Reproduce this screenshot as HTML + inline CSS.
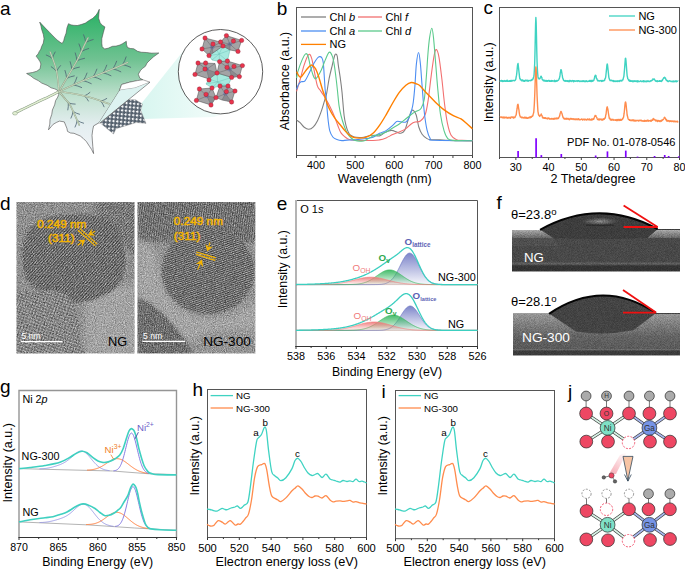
<!DOCTYPE html>
<html><head><meta charset="utf-8"><style>
html,body{margin:0;padding:0;background:#fff;width:685px;height:569px;overflow:hidden;}
svg{display:block;font-family:"Liberation Sans", sans-serif;}
</style></head><body><svg width="685" height="569" viewBox="0 0 685 569" font-family='"Liberation Sans", sans-serif'><rect x="296.5" y="7.5" width="176" height="148" fill="none" stroke="#555" stroke-width="1"/><line x1="296.5" y1="155.5" x2="296.5" y2="158" stroke="#444" stroke-width="1" /><line x1="316.06" y1="155.5" x2="316.06" y2="158" stroke="#444" stroke-width="1" /><line x1="335.61" y1="155.5" x2="335.61" y2="158" stroke="#444" stroke-width="1" /><line x1="355.17" y1="155.5" x2="355.17" y2="158" stroke="#444" stroke-width="1" /><line x1="374.72" y1="155.5" x2="374.72" y2="158" stroke="#444" stroke-width="1" /><line x1="394.28" y1="155.5" x2="394.28" y2="158" stroke="#444" stroke-width="1" /><line x1="413.83" y1="155.5" x2="413.83" y2="158" stroke="#444" stroke-width="1" /><line x1="433.39" y1="155.5" x2="433.39" y2="158" stroke="#444" stroke-width="1" /><line x1="452.94" y1="155.5" x2="452.94" y2="158" stroke="#444" stroke-width="1" /><line x1="472.5" y1="155.5" x2="472.5" y2="158" stroke="#444" stroke-width="1" /><text x="316.06" y="168.6" font-size="10.8" text-anchor="middle" fill="#000" >400</text><text x="355.17" y="168.6" font-size="10.8" text-anchor="middle" fill="#000" >500</text><text x="394.28" y="168.6" font-size="10.8" text-anchor="middle" fill="#000" >600</text><text x="433.39" y="168.6" font-size="10.8" text-anchor="middle" fill="#000" >700</text><text x="472.5" y="168.6" font-size="10.8" text-anchor="middle" fill="#000" >800</text><text x="384.8" y="183.2" font-size="12.4" text-anchor="middle" fill="#000" >Wavelength (nm)</text><text transform="translate(289.2,81.1) rotate(-90)" font-size="12.4" text-anchor="middle" fill="#000">Absorbance (a.u.)</text><path d="M296.6,120.1 C297.18,120.53 298.83,121.5 300.1,122.7 C301.37,123.9 302.75,126.2 304.2,127.3 C305.65,128.4 307.27,129.38 308.8,129.3 C310.33,129.22 311.95,128.23 313.4,126.8 C314.85,125.37 316.13,123.43 317.5,120.7 C318.87,117.97 320.4,113.82 321.6,110.4 C322.8,106.98 323.85,103.08 324.7,100.2 C325.55,97.32 325.95,96.77 326.7,93.1 C327.45,89.43 328.27,82.87 329.2,78.2 C330.13,73.53 331.42,68.8 332.3,65.1 C333.18,61.4 333.92,57.85 334.5,56 C335.08,54.15 335.35,54 335.8,54 C336.25,54 336.78,54.15 337.2,56 C337.62,57.85 337.78,61.4 338.3,65.1 C338.82,68.8 339.68,73.72 340.3,78.2 C340.92,82.68 341.37,85.78 342,92 C342.63,98.22 343.42,109.87 344.1,115.5 C344.78,121.13 345.42,123.07 346.1,125.8 C346.78,128.53 347.52,130.37 348.2,131.9 C348.88,133.43 349.18,134.15 350.2,135 C351.22,135.85 352.77,136.58 354.3,137 C355.83,137.42 357.83,137.47 359.4,137.5 C360.97,137.53 361.67,137.58 363.7,137.2 C365.73,136.82 368.97,135.42 371.6,135.2 C374.23,134.98 377.3,136.33 379.5,135.9 C381.7,135.47 382.82,133.52 384.8,132.6 C386.78,131.68 389.42,130.5 391.4,130.4 C393.38,130.3 395.17,131.52 396.7,132 C398.23,132.48 399.28,133.53 400.6,133.3 C401.92,133.07 403.28,133.02 404.6,130.6 C405.92,128.18 407.43,121.9 408.5,118.8 C409.57,115.7 410.23,113.43 411,112 C411.77,110.57 412.23,109.7 413.1,110.2 C413.97,110.7 415.25,112.2 416.2,115 C417.15,117.8 417.82,123.8 418.8,127 C419.78,130.2 420.73,132.27 422.1,134.2 C423.47,136.13 425.47,137.68 427,138.6 C428.53,139.52 429.12,139.52 431.3,139.7 C433.48,139.88 437.17,139.58 440.1,139.7 C443.03,139.82 443.52,140.22 448.9,140.4 C454.28,140.58 468.48,140.73 472.4,140.8" stroke="#808080" stroke-width="1.1" fill="none" /><path d="M296.6,91.3 C297.17,89.45 298.75,84.57 300,80.2 C301.25,75.83 302.67,69.37 304.1,65.1 C305.53,60.83 307.35,55.77 308.6,54.6 C309.85,53.43 310.68,55.5 311.6,58.1 C312.52,60.7 313.17,65.67 314.1,70.2 C315.03,74.73 316.18,81.95 317.2,85.3 C318.22,88.65 319.17,88.68 320.2,90.3 C321.23,91.92 322.15,93 323.4,95 C324.65,97 326.3,99.73 327.7,102.3 C329.1,104.87 330.6,107.85 331.8,110.4 C333,112.95 333.88,115.03 334.9,117.6 C335.92,120.17 336.88,123.25 337.9,125.8 C338.92,128.35 339.8,131.03 341,132.9 C342.2,134.77 343.73,135.88 345.1,137 C346.47,138.12 347.5,139.05 349.2,139.6 C350.9,140.15 351.33,140.15 355.3,140.3 C359.27,140.45 368.97,140.57 373,140.5 C377.03,140.43 377.32,140.33 379.5,139.9 C381.68,139.47 383.9,138.78 386.1,137.9 C388.3,137.02 390.5,135.58 392.7,134.6 C394.9,133.62 397.1,133 399.3,132 C401.5,131 403.92,129.93 405.9,128.6 C407.88,127.27 409.67,125.08 411.2,124 C412.73,122.92 413.57,122.6 415.1,122.1 C416.63,121.6 418.72,122.27 420.4,121 C422.08,119.73 423.93,117.78 425.2,114.5 C426.47,111.22 426.98,107.9 428,101.3 C429.02,94.7 430.27,82.6 431.3,74.9 C432.33,67.2 433.35,59.32 434.2,55.1 C435.05,50.88 435.6,49.23 436.4,49.6 C437.2,49.97 438.08,52.35 439,57.3 C439.92,62.25 440.98,71.6 441.9,79.3 C442.82,87 443.58,96.18 444.5,103.5 C445.42,110.82 446.3,117.9 447.4,123.2 C448.5,128.5 449.57,132.55 451.1,135.3 C452.63,138.05 454.78,138.85 456.6,139.7 C458.42,140.55 459.37,140.25 462,140.4 C464.63,140.55 470.67,140.57 472.4,140.6" stroke="#f27070" stroke-width="1.1" fill="none" /><path d="M296.6,89.3 C296.92,88.5 297.77,85.75 298.5,84.5 C299.23,83.25 299.92,82.42 301,81.8 C302.08,81.18 303.65,82.23 305,80.8 C306.35,79.37 307.58,76.15 309.1,73.2 C310.62,70.25 312.7,65.63 314.1,63.1 C315.5,60.57 316.57,59.08 317.5,58 C318.43,56.92 319,56.67 319.7,56.6 C320.4,56.53 321.12,56.68 321.7,57.6 C322.28,58.52 322.78,59.17 323.2,62.1 C323.62,65.03 323.87,70.5 324.2,75.2 C324.53,79.9 324.82,86.13 325.2,90.3 C325.58,94.47 326.17,96.85 326.5,100.2 C326.83,103.55 326.92,106.98 327.2,110.4 C327.48,113.82 327.77,117.28 328.2,120.7 C328.63,124.12 329.03,128.18 329.8,130.9 C330.57,133.62 331.62,135.55 332.8,137 C333.98,138.45 335.37,139 336.9,139.6 C338.43,140.2 340.3,140.52 342,140.6 C343.7,140.68 344.88,140.22 347.1,140.1 C349.32,139.98 352.08,140.17 355.3,139.9 C358.52,139.63 363.45,138.95 366.4,138.5 C369.35,138.05 370.82,138.07 373,137.2 C375.18,136.33 377.32,134.4 379.5,133.3 C381.68,132.2 383.9,131.92 386.1,130.6 C388.3,129.28 390.93,126.93 392.7,125.4 C394.47,123.87 395.38,122.02 396.7,121.4 C398.02,120.78 399.07,121.58 400.6,121.7 C402.13,121.82 404.47,122.82 405.9,122.1 C407.33,121.38 408.22,119.5 409.2,117.4 C410.18,115.3 411.12,112.07 411.8,109.5 C412.48,106.93 412.78,105.93 413.3,102 C413.82,98.07 414.38,92.25 414.9,85.9 C415.42,79.55 415.78,69.47 416.4,63.9 C417.02,58.33 417.93,52.5 418.6,52.5 C419.27,52.5 419.82,58.33 420.4,63.9 C420.98,69.47 421.45,77.85 422.1,85.9 C422.75,93.95 423.48,104.88 424.3,112.2 C425.12,119.52 426.02,125.42 427,129.8 C427.98,134.18 429.12,136.75 430.2,138.5 C431.28,140.25 426.47,139.93 433.5,140.3 C440.53,140.67 465.92,140.63 472.4,140.7" stroke="#4d8ef2" stroke-width="1.1" fill="none" /><path d="M296.6,78 C296.83,76.87 297.1,74.18 298,71.2 C298.9,68.22 300.73,62.98 302,60.1 C303.27,57.22 304.6,54.58 305.6,53.9 C306.6,53.22 307.25,54.13 308,56 C308.75,57.87 309.25,61.9 310.1,65.1 C310.95,68.3 312.28,72.92 313.1,75.2 C313.92,77.48 314.32,78.47 315,78.8 C315.68,79.13 316.17,78.63 317.2,77.2 C318.23,75.77 319.87,73.05 321.2,70.2 C322.53,67.35 323.87,63.08 325.2,60.1 C326.53,57.12 328.02,52.97 329.2,52.3 C330.38,51.63 331.45,53.97 332.3,56.1 C333.15,58.23 333.63,61.08 334.3,65.1 C334.97,69.12 335.75,75.72 336.3,80.2 C336.85,84.68 337.15,87.82 337.6,92 C338.05,96.18 338.43,101.38 339,105.3 C339.57,109.22 340.15,112.08 341,115.5 C341.85,118.92 343.08,122.9 344.1,125.8 C345.12,128.7 345.92,130.87 347.1,132.9 C348.28,134.93 349.83,136.72 351.2,138 C352.57,139.28 353.77,140.08 355.3,140.6 C356.83,141.12 358.78,141.12 360.4,141.1 C362.02,141.08 362.9,141.37 365,140.5 C367.1,139.63 370.58,136.88 373,135.9 C375.42,134.92 377.32,135.27 379.5,134.6 C381.68,133.93 383.9,133 386.1,131.9 C388.3,130.8 390.5,129.32 392.7,128 C394.9,126.68 397.1,125.53 399.3,124 C401.5,122.47 403.7,120.55 405.9,118.8 C408.1,117.05 410.65,114.8 412.5,113.5 C414.35,112.2 415.58,111.83 417,111 C418.42,110.17 419.78,110.48 421,108.5 C422.22,106.52 423.42,104.33 424.3,99.1 C425.18,93.87 425.68,84.78 426.3,77.1 C426.92,69.42 427.45,59.58 428,53 C428.55,46.42 428.97,41.72 429.6,37.6 C430.23,33.48 431.15,28.3 431.8,28.3 C432.45,28.3 432.85,31.67 433.5,37.6 C434.15,43.53 434.97,55.12 435.7,63.9 C436.43,72.68 437.1,81.87 437.9,90.3 C438.7,98.73 439.47,107.73 440.5,114.5 C441.53,121.27 442.88,126.88 444.1,130.9 C445.32,134.92 446.27,137.02 447.8,138.6 C449.33,140.18 449.2,140.03 453.3,140.4 C457.4,140.77 469.22,140.73 472.4,140.8" stroke="#5cca8c" stroke-width="1.1" fill="none" /><path d="M296.6,71.7 C297.25,72.62 298.92,77.45 300.5,77.2 C302.08,76.95 304.33,72.22 306.1,70.2 C307.87,68.18 309.6,65.43 311.1,65.1 C312.6,64.77 313.92,66.52 315.1,68.2 C316.28,69.88 317.18,72.35 318.2,75.2 C319.22,78.05 320.47,82.83 321.2,85.3 C321.93,87.77 322.02,88.2 322.6,90 C323.18,91.8 323.85,93.55 324.7,96.1 C325.55,98.65 326.52,102.4 327.7,105.3 C328.88,108.2 330.43,111.12 331.8,113.5 C333.17,115.88 334.53,117.77 335.9,119.6 C337.27,121.43 338.47,122.62 340,124.5 C341.53,126.38 343.57,129.15 345.1,130.9 C346.63,132.65 347.83,133.93 349.2,135 C350.57,136.07 351.57,136.78 353.3,137.3 C355.03,137.82 357.42,138.12 359.6,138.1 C361.78,138.08 364.17,138 366.4,137.2 C368.63,136.4 370.82,135.27 373,133.3 C375.18,131.33 377.32,128.48 379.5,125.4 C381.68,122.32 383.9,118.53 386.1,114.8 C388.3,111.07 390.5,106.73 392.7,103 C394.9,99.27 397.1,95.37 399.3,92.4 C401.5,89.43 403.92,86.85 405.9,85.2 C407.88,83.55 409.45,82.73 411.2,82.5 C412.95,82.27 414.93,83.25 416.4,83.8 C417.87,84.35 418.23,84.17 420,85.8 C421.77,87.43 424.38,90.83 427,93.6 C429.62,96.37 432.78,99.65 435.7,102.4 C438.62,105.15 441.57,107.9 444.5,110.1 C447.43,112.3 450.55,114.13 453.3,115.6 C456.05,117.07 458.82,117.62 461,118.9 C463.18,120.18 464.5,121.67 466.4,123.3 C468.3,124.93 471.4,127.8 472.4,128.7" stroke="#ff8000" stroke-width="1.4" fill="none" /><line x1="301" y1="17" x2="326" y2="17" stroke="#808080" stroke-width="1.3" /><text x="329.5" y="21" font-size="11" fill="#000" >Chl <tspan font-style="italic">b</tspan></text><line x1="301" y1="31" x2="326" y2="31" stroke="#4d8ef2" stroke-width="1.3" /><text x="329.5" y="35" font-size="11" fill="#000" >Chl <tspan font-style="italic">a</tspan></text><line x1="301" y1="44.4" x2="326" y2="44.4" stroke="#ff8000" stroke-width="1.3" /><text x="329.5" y="48.4" font-size="11" fill="#000" >NG</text><line x1="358" y1="17" x2="382" y2="17" stroke="#f27070" stroke-width="1.3" /><text x="385.5" y="21" font-size="11" fill="#000" >Chl <tspan font-style="italic">f</tspan></text><line x1="358" y1="31" x2="382" y2="31" stroke="#5cca8c" stroke-width="1.3" /><text x="385.5" y="35" font-size="11" fill="#000" >Chl <tspan font-style="italic">d</tspan></text><rect x="499.5" y="7.5" width="180" height="150" fill="none" stroke="#555" stroke-width="1"/><line x1="515.86" y1="157.5" x2="515.86" y2="160" stroke="#444" stroke-width="1" /><line x1="548.59" y1="157.5" x2="548.59" y2="160" stroke="#444" stroke-width="1" /><line x1="581.32" y1="157.5" x2="581.32" y2="160" stroke="#444" stroke-width="1" /><line x1="614.05" y1="157.5" x2="614.05" y2="160" stroke="#444" stroke-width="1" /><line x1="646.77" y1="157.5" x2="646.77" y2="160" stroke="#444" stroke-width="1" /><line x1="679.5" y1="157.5" x2="679.5" y2="160" stroke="#444" stroke-width="1" /><line x1="499.5" y1="157.5" x2="499.5" y2="159" stroke="#444" stroke-width="1" /><line x1="532.23" y1="157.5" x2="532.23" y2="159" stroke="#444" stroke-width="1" /><line x1="564.95" y1="157.5" x2="564.95" y2="159" stroke="#444" stroke-width="1" /><line x1="597.68" y1="157.5" x2="597.68" y2="159" stroke="#444" stroke-width="1" /><line x1="630.41" y1="157.5" x2="630.41" y2="159" stroke="#444" stroke-width="1" /><line x1="663.14" y1="157.5" x2="663.14" y2="159" stroke="#444" stroke-width="1" /><text x="515.86" y="171" font-size="10.8" text-anchor="middle" fill="#000" >30</text><text x="548.59" y="171" font-size="10.8" text-anchor="middle" fill="#000" >40</text><text x="581.32" y="171" font-size="10.8" text-anchor="middle" fill="#000" >50</text><text x="614.05" y="171" font-size="10.8" text-anchor="middle" fill="#000" >60</text><text x="646.77" y="171" font-size="10.8" text-anchor="middle" fill="#000" >70</text><text x="679.5" y="171" font-size="10.8" text-anchor="middle" fill="#000" >80</text><text x="593" y="183.4" font-size="12.6" text-anchor="middle" fill="#000" >2 Theta/degree</text><text transform="translate(493.3,82.3) rotate(-90)" font-size="12.6" text-anchor="middle" fill="#000">Intensity (a.u.)</text><path d="M499.9,80.64 L500.2,81 L500.49,80.79 L500.79,81.07 L501.09,81.1 L501.39,80.43 L501.68,80.36 L501.98,81.35 L502.28,80.66 L502.58,80.63 L502.87,81.54 L503.17,80.91 L503.47,81.35 L503.76,80.91 L504.06,81.11 L504.36,80.52 L504.66,81.1 L504.95,81.38 L505.25,80.96 L505.55,81.22 L505.85,81.13 L506.14,80.4 L506.44,81.23 L506.74,81.03 L507.03,80.67 L507.33,80.35 L507.63,81.34 L507.93,80.87 L508.22,81.16 L508.52,81.34 L508.82,81.14 L509.12,81.38 L509.41,80.74 L509.71,81.22 L510.01,80.78 L510.3,81.36 L510.6,81.28 L510.9,80.33 L511.2,80.36 L511.49,80.44 L511.79,81.31 L512.09,80.65 L512.39,80.85 L512.68,80.43 L512.98,80.64 L513.28,80.45 L513.57,80.35 L513.87,80.57 L514.17,80.48 L514.47,80.76 L514.76,80.35 L515.06,80.44 L515.36,80.02 L515.66,79.63 L515.95,78.35 L516.25,76.34 L516.55,75.15 L516.84,72.61 L517.14,69.43 L517.44,66.01 L517.74,64.16 L518.03,63.45 L518.33,66.05 L518.63,68.7 L518.93,71.48 L519.22,73.94 L519.52,76.98 L519.82,78.6 L520.11,78.45 L520.41,79.88 L520.71,79.76 L521.01,79.66 L521.3,79.98 L521.6,80.66 L521.9,80.86 L522.2,79.93 L522.49,80.67 L522.79,80.02 L523.09,80.87 L523.38,80.43 L523.68,81.11 L523.98,81.25 L524.28,80.69 L524.57,81.3 L524.87,80.48 L525.17,80.2 L525.47,80.83 L525.76,80.15 L526.06,80.35 L526.36,80.6 L526.65,80.84 L526.95,80.28 L527.25,80.14 L527.55,81.11 L527.84,80.43 L528.14,81.19 L528.44,81.09 L528.74,80.44 L529.03,80.51 L529.33,80.55 L529.63,80.66 L529.92,80.55 L530.22,80.45 L530.52,80.46 L530.82,80.77 L531.11,80.15 L531.41,79.95 L531.71,80.16 L532.01,79.41 L532.3,79.28 L532.6,79.82 L532.9,78.93 L533.19,78.5 L533.49,77.16 L533.79,76.48 L534.09,74.53 L534.38,69.84 L534.68,63.52 L534.98,52.7 L535.28,37.99 L535.57,24.8 L535.87,17.54 L536.17,22.63 L536.46,35.35 L536.76,50.13 L537.06,61.76 L537.36,68.66 L537.65,73.23 L537.95,76.39 L538.25,78.02 L538.55,77.89 L538.84,78.59 L539.14,79.03 L539.44,78.81 L539.73,78.77 L540.03,78.35 L540.33,77.79 L540.63,77.27 L540.92,76.25 L541.22,76.26 L541.52,77.36 L541.82,77.43 L542.11,78.99 L542.41,79.87 L542.71,79.81 L543,79.96 L543.3,80.81 L543.6,80.23 L543.9,80.23 L544.19,80.58 L544.49,80.94 L544.79,80.26 L545.09,80.55 L545.38,80.59 L545.68,81.21 L545.98,80.76 L546.27,81.27 L546.57,80.47 L546.87,80.68 L547.17,81.07 L547.46,81.36 L547.76,80.85 L548.06,80.59 L548.36,80.47 L548.65,80.97 L548.95,80.57 L549.25,81.31 L549.54,81.35 L549.84,80.57 L550.14,80.69 L550.44,81.33 L550.73,81.13 L551.03,81.33 L551.33,80.78 L551.63,80.52 L551.92,80.72 L552.22,81.32 L552.52,80.69 L552.81,80.78 L553.11,80.86 L553.41,80.86 L553.71,80.84 L554,81.45 L554.3,80.52 L554.6,80.33 L554.9,81.45 L555.19,81.36 L555.49,81.47 L555.79,80.79 L556.08,81.39 L556.38,81.33 L556.68,80.45 L556.98,81.04 L557.27,81.1 L557.57,80.83 L557.87,80.57 L558.17,80.17 L558.46,80.03 L558.76,79.58 L559.06,78.86 L559.35,78.65 L559.65,77.04 L559.95,75.96 L560.25,72.97 L560.54,71.85 L560.84,69.9 L561.14,69.64 L561.44,70.5 L561.73,72.39 L562.03,74.18 L562.33,75.5 L562.62,77.97 L562.92,78.42 L563.22,79.32 L563.52,80.23 L563.81,80.34 L564.11,80.39 L564.41,81.13 L564.71,80.83 L565,80.57 L565.3,80.51 L565.6,81.28 L565.89,80.86 L566.19,81.25 L566.49,80.76 L566.79,80.6 L567.08,81.02 L567.38,81.37 L567.68,80.61 L567.98,81.37 L568.27,81.54 L568.57,81.41 L568.87,81.44 L569.16,80.47 L569.46,81.22 L569.76,81.51 L570.06,80.54 L570.35,80.81 L570.65,80.81 L570.95,81.13 L571.25,81.01 L571.54,81.07 L571.84,81.44 L572.14,80.52 L572.43,80.58 L572.73,80.67 L573.03,80.67 L573.33,80.61 L573.62,81.7 L573.92,81.56 L574.22,80.64 L574.52,81.14 L574.81,80.92 L575.11,80.92 L575.41,80.96 L575.7,81.32 L576,81.25 L576.3,80.98 L576.6,80.78 L576.89,80.94 L577.19,80.7 L577.49,81.22 L577.79,81.41 L578.08,81.01 L578.38,80.65 L578.68,80.77 L578.97,81.01 L579.27,81.28 L579.57,81.5 L579.87,81.02 L580.16,81.52 L580.46,81.31 L580.76,81.08 L581.06,81.01 L581.35,81.16 L581.65,81.41 L581.95,81.07 L582.24,81.4 L582.54,81.12 L582.84,80.86 L583.14,81.21 L583.43,81.4 L583.73,80.65 L584.03,81.07 L584.33,81.07 L584.62,81.62 L584.92,81.69 L585.22,81.01 L585.51,81.64 L585.81,81.51 L586.11,80.87 L586.41,81.11 L586.7,80.7 L587,81.53 L587.3,81.34 L587.6,81.61 L587.89,81.49 L588.19,81.34 L588.49,81.41 L588.78,81.2 L589.08,80.64 L589.38,81.22 L589.68,80.51 L589.97,80.67 L590.27,81.41 L590.57,80.52 L590.87,80.56 L591.16,80.55 L591.46,81.47 L591.76,80.6 L592.05,80.37 L592.35,81.3 L592.65,80.36 L592.95,81.11 L593.24,80.71 L593.54,80.58 L593.84,80.22 L594.14,79.05 L594.43,78.38 L594.73,76.38 L595.03,76.23 L595.32,75.27 L595.62,75.54 L595.92,75.49 L596.22,77.3 L596.51,78.59 L596.81,78.46 L597.11,79.48 L597.41,80.24 L597.7,80.87 L598,80.35 L598.3,80.38 L598.59,80.53 L598.89,81.01 L599.19,81.21 L599.49,80.79 L599.78,80.77 L600.08,80.82 L600.38,80.76 L600.68,80.84 L600.97,80.43 L601.27,80.92 L601.57,81.47 L601.86,80.78 L602.16,81.15 L602.46,80.41 L602.76,81.01 L603.05,81.03 L603.35,80.87 L603.65,80.59 L603.95,80.44 L604.24,80.47 L604.54,80.52 L604.84,79.22 L605.13,78.49 L605.43,78.2 L605.73,76.78 L606.03,74.03 L606.32,71.1 L606.62,68.35 L606.92,65.08 L607.22,63.96 L607.51,64.7 L607.81,67.6 L608.11,70.33 L608.4,73.16 L608.7,76.11 L609,78.18 L609.3,78.57 L609.59,79.8 L609.89,79.89 L610.19,80.7 L610.49,80.55 L610.78,80.3 L611.08,80.33 L611.38,80.17 L611.67,80.78 L611.97,80.71 L612.27,80.5 L612.57,80.75 L612.86,80.74 L613.16,81.3 L613.46,80.57 L613.76,81.6 L614.05,81 L614.35,81.15 L614.65,81.01 L614.94,81.45 L615.24,81.44 L615.54,81.13 L615.84,81.04 L616.13,81.33 L616.43,81.49 L616.73,80.94 L617.03,81.34 L617.32,81.6 L617.62,81.01 L617.92,80.71 L618.21,80.71 L618.51,81.27 L618.81,81.21 L619.11,81.53 L619.4,81.38 L619.7,80.62 L620,80.52 L620.3,80.57 L620.59,80.43 L620.89,81 L621.19,81.12 L621.48,81.09 L621.78,80.21 L622.08,80.82 L622.38,79.98 L622.67,79.86 L622.97,79.83 L623.27,78.4 L623.57,77.34 L623.86,76.54 L624.16,73.39 L624.46,70.1 L624.75,66.34 L625.05,62.36 L625.35,58.52 L625.65,58.2 L625.94,60.33 L626.24,64.12 L626.54,67.96 L626.84,72.16 L627.13,75.55 L627.43,76.96 L627.73,78.5 L628.02,78.84 L628.32,79.53 L628.62,80.32 L628.92,79.87 L629.21,80.95 L629.51,81.1 L629.81,80.22 L630.11,81.31 L630.4,80.69 L630.7,81.22 L631,81.25 L631.29,80.74 L631.59,81.23 L631.89,81.23 L632.19,81.44 L632.48,80.81 L632.78,81.42 L633.08,81.69 L633.38,81.36 L633.67,81.21 L633.97,80.72 L634.27,81.18 L634.56,81.02 L634.86,81.47 L635.16,81.44 L635.46,81.31 L635.75,80.86 L636.05,81.42 L636.35,81.41 L636.65,80.87 L636.94,81.73 L637.24,81.45 L637.54,80.82 L637.83,81.8 L638.13,80.85 L638.43,81.08 L638.73,81.55 L639.02,81.41 L639.32,81.36 L639.62,81.48 L639.92,81.25 L640.21,81.08 L640.51,80.92 L640.81,80.79 L641.1,81.57 L641.4,81.62 L641.7,81.37 L642,81.61 L642.29,81.15 L642.59,81.04 L642.89,81.18 L643.19,81.77 L643.48,80.78 L643.78,81.33 L644.08,81.02 L644.37,81.65 L644.67,81.15 L644.97,81.13 L645.27,81.21 L645.56,81.38 L645.86,81.65 L646.16,81.15 L646.46,81.74 L646.75,80.86 L647.05,81.04 L647.35,80.84 L647.64,80.85 L647.94,81.64 L648.24,81.58 L648.54,80.92 L648.83,80.92 L649.13,81.18 L649.43,81.56 L649.73,81.63 L650.02,81.53 L650.32,81.31 L650.62,80.73 L650.91,80.97 L651.21,80.63 L651.51,80.89 L651.81,80.74 L652.1,80.04 L652.4,79.79 L652.7,80.07 L653,78.81 L653.29,79.43 L653.59,79.36 L653.89,79.44 L654.18,78.96 L654.48,79.48 L654.78,79.88 L655.08,80.29 L655.37,81 L655.67,80.9 L655.97,80.62 L656.27,81.43 L656.56,81.07 L656.86,81.27 L657.16,81.45 L657.45,80.61 L657.75,81.54 L658.05,81.42 L658.35,81.22 L658.64,81.26 L658.94,81.18 L659.24,80.86 L659.54,81.25 L659.83,80.64 L660.13,81.18 L660.43,81.32 L660.72,81.04 L661.02,81.12 L661.32,81.5 L661.62,81.29 L661.91,80.2 L662.21,80.74 L662.51,80.22 L662.81,79.14 L663.1,79.05 L663.4,78.4 L663.7,77.71 L663.99,77.83 L664.29,78.02 L664.59,77.23 L664.89,78.06 L665.18,78.22 L665.48,78.02 L665.78,79.4 L666.08,79.59 L666.37,80.41 L666.67,80.52 L666.97,80.84 L667.26,80.58 L667.56,81.3 L667.86,81.57 L668.16,81.56 L668.45,81.11 L668.75,81.54 L669.05,81.24 L669.35,80.82 L669.64,80.76 L669.94,80.82 L670.24,80.98 L670.53,80.94 L670.83,81.36 L671.13,81.61 L671.43,81.42 L671.72,81.29 L672.02,81.57 L672.32,81.17 L672.62,81.36 L672.91,81.72 L673.21,81.3 L673.51,81.04 L673.8,81.9 L674.1,81.69 L674.4,81.27 L674.7,81.28 L674.99,81.47 L675.29,81.56 L675.59,81.11 L675.89,80.85 L676.18,81.1 L676.48,81.79 L676.78,81.03 L677.07,81.41 L677.37,81.09 L677.67,81.11 L677.97,81.07 L678.26,81.35" stroke="#3fd3c2" stroke-width="1.4" fill="none" stroke-linejoin="round"/><path d="M499.9,117.15 L500.2,116.99 L500.49,117.09 L500.79,117.17 L501.09,117.56 L501.39,117.05 L501.68,117.01 L501.98,117.52 L502.28,117.48 L502.58,117.84 L502.87,117.06 L503.17,117.49 L503.47,117.49 L503.76,117.05 L504.06,118.18 L504.36,117.29 L504.66,117.14 L504.95,117.6 L505.25,117.23 L505.55,117.79 L505.85,117.46 L506.14,117.2 L506.44,117.11 L506.74,117.93 L507.03,117.38 L507.33,118 L507.63,117.62 L507.93,118.18 L508.22,117.42 L508.52,117.36 L508.82,117.38 L509.12,118.04 L509.41,117.81 L509.71,117.47 L510.01,117.17 L510.3,117.87 L510.6,118.21 L510.9,117.75 L511.2,117.03 L511.49,117.05 L511.79,117.11 L512.09,117.19 L512.39,117.01 L512.68,117.01 L512.98,117.7 L513.28,117.96 L513.57,117.08 L513.87,117.95 L514.17,117.29 L514.47,117.59 L514.76,117.59 L515.06,117.42 L515.36,116.01 L515.66,115.82 L515.95,115.37 L516.25,114.59 L516.55,111.92 L516.84,110.12 L517.14,108.49 L517.44,105.46 L517.74,104.4 L518.03,104.27 L518.33,105.97 L518.63,108.37 L518.93,109.78 L519.22,112.55 L519.52,114.23 L519.82,115.59 L520.11,116.1 L520.41,117.09 L520.71,116.77 L521.01,117.05 L521.3,116.97 L521.6,117.73 L521.9,117.45 L522.2,117.26 L522.49,117.19 L522.79,117.89 L523.09,117.78 L523.38,117.94 L523.68,117.57 L523.98,117.71 L524.28,117.33 L524.57,118.01 L524.87,117.19 L525.17,117.73 L525.47,118.09 L525.76,117.99 L526.06,117.3 L526.36,117.46 L526.65,118.18 L526.95,117.93 L527.25,118.21 L527.55,118.19 L527.84,117.66 L528.14,118.18 L528.44,117.96 L528.74,117.45 L529.03,117.46 L529.33,117.06 L529.63,117.4 L529.92,118.02 L530.22,116.93 L530.52,117.4 L530.82,116.76 L531.11,116.61 L531.41,117.15 L531.71,116.5 L532.01,116.06 L532.3,115.92 L532.6,116.16 L532.9,115.6 L533.19,114.16 L533.49,113.2 L533.79,112.06 L534.09,107.91 L534.38,103.39 L534.68,96.35 L534.98,88.18 L535.28,78.64 L535.57,70.88 L535.87,66.91 L536.17,68.98 L536.46,76.32 L536.76,85.48 L537.06,95.24 L537.36,101.64 L537.65,106.85 L537.95,111.54 L538.25,112.84 L538.55,115.01 L538.84,114.83 L539.14,115.76 L539.44,115.7 L539.73,116.44 L540.03,115.95 L540.33,115.49 L540.63,114.99 L540.92,114.59 L541.22,113.92 L541.52,114.82 L541.82,115.5 L542.11,115.92 L542.41,117.42 L542.71,117.54 L543,118.05 L543.3,117.48 L543.6,117.98 L543.9,117.96 L544.19,118.34 L544.49,117.6 L544.79,117.97 L545.09,118.18 L545.38,117.71 L545.68,118.32 L545.98,118.57 L546.27,118.22 L546.57,118.51 L546.87,118.49 L547.17,118.04 L547.46,118.22 L547.76,119.01 L548.06,118.24 L548.36,118.37 L548.65,117.96 L548.95,118.14 L549.25,118.09 L549.54,119.02 L549.84,118.79 L550.14,118.98 L550.44,119.12 L550.73,118.68 L551.03,119.08 L551.33,118.61 L551.63,118.48 L551.92,119.12 L552.22,119.07 L552.52,119.14 L552.81,118.58 L553.11,118.94 L553.41,118.5 L553.71,119.21 L554,119.12 L554.3,118.37 L554.6,119.14 L554.9,118.24 L555.19,118.13 L555.49,118.88 L555.79,118.36 L556.08,118.62 L556.38,118.75 L556.68,118.01 L556.98,118.83 L557.27,118.24 L557.57,118.38 L557.87,118.21 L558.17,118.59 L558.46,118.44 L558.76,117.63 L559.06,117.01 L559.35,116.62 L559.65,115.89 L559.95,114.36 L560.25,113.13 L560.54,112.54 L560.84,111.47 L561.14,111.49 L561.44,112.03 L561.73,113.04 L562.03,113.79 L562.33,114.83 L562.62,116.1 L562.92,117.1 L563.22,117.74 L563.52,118.14 L563.81,118.16 L564.11,118.91 L564.41,118.33 L564.71,118.62 L565,119.18 L565.3,119.13 L565.6,118.56 L565.89,118.53 L566.19,119.23 L566.49,118.3 L566.79,118.47 L567.08,118.97 L567.38,118.99 L567.68,118.57 L567.98,118.44 L568.27,118.64 L568.57,119.34 L568.87,118.99 L569.16,119.61 L569.46,119.39 L569.76,119.64 L570.06,118.52 L570.35,118.71 L570.65,118.51 L570.95,119.02 L571.25,118.92 L571.54,118.58 L571.84,119.19 L572.14,118.65 L572.43,118.92 L572.73,118.86 L573.03,119.53 L573.33,119.08 L573.62,118.9 L573.92,118.64 L574.22,119.11 L574.52,119.36 L574.81,119.43 L575.11,119.72 L575.41,119.6 L575.7,118.93 L576,118.81 L576.3,119.56 L576.6,119.61 L576.89,119.28 L577.19,119.67 L577.49,119.34 L577.79,119.02 L578.08,118.9 L578.38,118.72 L578.68,119.48 L578.97,119.79 L579.27,119.81 L579.57,119.29 L579.87,119.53 L580.16,119.86 L580.46,119.73 L580.76,119.48 L581.06,119.26 L581.35,119.39 L581.65,118.98 L581.95,119 L582.24,119.61 L582.54,119.98 L582.84,119.46 L583.14,119.3 L583.43,119.23 L583.73,119.36 L584.03,119.79 L584.33,119.37 L584.62,119.99 L584.92,119.03 L585.22,119.22 L585.51,119.48 L585.81,119.35 L586.11,119.88 L586.41,119.86 L586.7,119.99 L587,119.61 L587.3,118.91 L587.6,119.57 L587.89,119.54 L588.19,119.47 L588.49,119.22 L588.78,119.74 L589.08,119.99 L589.38,119.02 L589.68,119.69 L589.97,119.34 L590.27,119.51 L590.57,119.96 L590.87,120.03 L591.16,119.64 L591.46,119.09 L591.76,119.94 L592.05,119.03 L592.35,119.24 L592.65,119.71 L592.95,119.01 L593.24,118.8 L593.54,119.37 L593.84,119.01 L594.14,117.77 L594.43,117.25 L594.73,116.44 L595.03,115.64 L595.32,115.41 L595.62,116.3 L595.92,115.63 L596.22,116.44 L596.51,117.08 L596.81,117.55 L597.11,118.57 L597.41,119.19 L597.7,119.54 L598,119.45 L598.3,119.77 L598.59,118.86 L598.89,119.23 L599.19,120.07 L599.49,119.02 L599.78,119.27 L600.08,119.54 L600.38,119.29 L600.68,119.62 L600.97,119.02 L601.27,119.25 L601.57,120.1 L601.86,119.11 L602.16,120.01 L602.46,119.11 L602.76,120.06 L603.05,119.63 L603.35,119.55 L603.65,118.87 L603.95,118.67 L604.24,119.36 L604.54,118.43 L604.84,118.07 L605.13,118.22 L605.43,117.37 L605.73,115.05 L606.03,114.39 L606.32,111.79 L606.62,109.42 L606.92,107.29 L607.22,106.82 L607.51,108.09 L607.81,108.91 L608.11,110.9 L608.4,113.07 L608.7,114.89 L609,116.58 L609.3,118.27 L609.59,117.93 L609.89,118.5 L610.19,119.67 L610.49,119.91 L610.78,120.01 L611.08,119.22 L611.38,119.42 L611.67,120.2 L611.97,119.69 L612.27,119.99 L612.57,119.55 L612.86,119.23 L613.16,119.65 L613.46,120.15 L613.76,120.21 L614.05,119.98 L614.35,119.87 L614.65,119.97 L614.94,119.87 L615.24,119.99 L615.54,120.35 L615.84,119.6 L616.13,120.08 L616.43,120.49 L616.73,120.39 L617.03,119.59 L617.32,120.53 L617.62,120.38 L617.92,119.58 L618.21,119.69 L618.51,119.6 L618.81,119.42 L619.11,120.51 L619.4,119.82 L619.7,120.35 L620,119.42 L620.3,119.27 L620.59,120.26 L620.89,120.12 L621.19,120.3 L621.48,119.86 L621.78,119.58 L622.08,119.75 L622.38,118.77 L622.67,119.05 L622.97,118.52 L623.27,117.52 L623.57,117.03 L623.86,115.15 L624.16,113.21 L624.46,110.29 L624.75,107.06 L625.05,104.01 L625.35,102.07 L625.65,102.02 L625.94,103.43 L626.24,106.14 L626.54,109.33 L626.84,111.69 L627.13,115.01 L627.43,116.02 L627.73,117.13 L628.02,118.43 L628.32,119.24 L628.62,119.11 L628.92,119.69 L629.21,119.42 L629.51,120.36 L629.81,119.83 L630.11,119.94 L630.4,120.07 L630.7,120.54 L631,120.73 L631.29,120.22 L631.59,120.15 L631.89,120.4 L632.19,119.77 L632.48,120.23 L632.78,120.76 L633.08,120.7 L633.38,119.86 L633.67,120.83 L633.97,120.28 L634.27,121.02 L634.56,120.3 L634.86,120.13 L635.16,120.54 L635.46,120.96 L635.75,120.43 L636.05,120.97 L636.35,120.79 L636.65,120.38 L636.94,120.32 L637.24,120.58 L637.54,120.46 L637.83,120.44 L638.13,120.78 L638.43,121.06 L638.73,120.72 L639.02,120.21 L639.32,120.3 L639.62,120.49 L639.92,120.8 L640.21,120.23 L640.51,120.17 L640.81,120.47 L641.1,120.43 L641.4,120.13 L641.7,120.75 L642,121.22 L642.29,120.76 L642.59,121.01 L642.89,121.13 L643.19,121.15 L643.48,121.25 L643.78,120.69 L644.08,120.98 L644.37,120.31 L644.67,121.23 L644.97,120.64 L645.27,120.76 L645.56,121.26 L645.86,120.54 L646.16,120.43 L646.46,121.2 L646.75,120.93 L647.05,120.32 L647.35,120.26 L647.64,120.65 L647.94,120.24 L648.24,121.23 L648.54,120.45 L648.83,120.56 L649.13,120.7 L649.43,120.84 L649.73,120.74 L650.02,120.96 L650.32,120.98 L650.62,120.69 L650.91,120.23 L651.21,121.22 L651.51,120.77 L651.81,119.89 L652.1,120.12 L652.4,120.25 L652.7,120.25 L653,118.86 L653.29,118.55 L653.59,118.98 L653.89,118.93 L654.18,119.66 L654.48,119.84 L654.78,119.54 L655.08,119.93 L655.37,120.38 L655.67,120.94 L655.97,120.28 L656.27,120.62 L656.56,120.33 L656.86,121.04 L657.16,120.34 L657.45,121.46 L657.75,120.98 L658.05,121.05 L658.35,120.48 L658.64,120.66 L658.94,120.94 L659.24,121.41 L659.54,121.03 L659.83,120.71 L660.13,121.54 L660.43,121.13 L660.72,120.94 L661.02,120.5 L661.32,120.54 L661.62,121.15 L661.91,120.08 L662.21,120.35 L662.51,120.18 L662.81,119.52 L663.1,119.62 L663.4,119.36 L663.7,118.86 L663.99,118.35 L664.29,117.47 L664.59,117.24 L664.89,117.85 L665.18,118.04 L665.48,118.32 L665.78,119.59 L666.08,119.24 L666.37,120.35 L666.67,120.81 L666.97,120.09 L667.26,121.24 L667.56,120.77 L667.86,120.65 L668.16,120.7 L668.45,120.58 L668.75,121.17 L669.05,121.07 L669.35,121.66 L669.64,121.66 L669.94,120.75 L670.24,121.18 L670.53,121.18 L670.83,120.94 L671.13,121.04 L671.43,121.07 L671.72,121.6 L672.02,121.19 L672.32,120.93 L672.62,121.07 L672.91,121.35 L673.21,121.5 L673.51,121.13 L673.8,121.68 L674.1,121.11 L674.4,121.67 L674.7,121.6 L674.99,121.09 L675.29,121.79 L675.59,121.37 L675.89,121.55 L676.18,121.63 L676.48,121.68 L676.78,121.46 L677.07,121.01 L677.37,121.89 L677.67,121.99 L677.97,121.55 L678.26,121.66" stroke="#ff8c4d" stroke-width="1.4" fill="none" stroke-linejoin="round"/><line x1="518.1" y1="157.5" x2="518.1" y2="151" stroke="#8000ff" stroke-width="1.7" /><line x1="536.1" y1="157.5" x2="536.1" y2="138.2" stroke="#8000ff" stroke-width="1.7" /><line x1="541.34" y1="157.5" x2="541.34" y2="155.1" stroke="#8000ff" stroke-width="1.7" /><line x1="561.3" y1="157.5" x2="561.3" y2="154" stroke="#8000ff" stroke-width="1.7" /><line x1="595.66" y1="157.5" x2="595.66" y2="155.5" stroke="#8000ff" stroke-width="1.7" /><line x1="607.45" y1="157.5" x2="607.45" y2="151.4" stroke="#8000ff" stroke-width="1.7" /><line x1="625.77" y1="157.5" x2="625.77" y2="150.6" stroke="#8000ff" stroke-width="1.7" /><line x1="637.55" y1="157.5" x2="637.55" y2="156.6" stroke="#8000ff" stroke-width="1.7" /><line x1="654.57" y1="157.5" x2="654.57" y2="156" stroke="#8000ff" stroke-width="1.7" /><line x1="664.72" y1="157.5" x2="664.72" y2="155" stroke="#8000ff" stroke-width="1.7" /><line x1="668.65" y1="157.5" x2="668.65" y2="156" stroke="#8000ff" stroke-width="1.7" /><line x1="678.79" y1="157.5" x2="678.79" y2="156.3" stroke="#8000ff" stroke-width="1.7" /><text x="567" y="146" font-size="11.1" fill="#000" >PDF No. 01-078-0546</text><line x1="609" y1="16" x2="635" y2="16" stroke="#3fd3c2" stroke-width="1.3" /><line x1="609" y1="30" x2="635" y2="30" stroke="#ff8c4d" stroke-width="1.3" /><text x="638.4" y="20" font-size="11" fill="#000" >NG</text><text x="638.4" y="34" font-size="11" fill="#000" >NG-300</text><path d="M296,346.5 V200.5 H477.5 V346.5" fill="none" stroke="#555" stroke-width="1"/><line x1="296" y1="200" x2="296" y2="346.5" stroke="#b4b4b4" stroke-width="2" /><line x1="295.2" y1="346.5" x2="478" y2="346.5" stroke="#333" stroke-width="1" /><line x1="296" y1="346.5" x2="296" y2="349" stroke="#333" stroke-width="1" /><line x1="326.25" y1="346.5" x2="326.25" y2="349" stroke="#333" stroke-width="1" /><line x1="356.5" y1="346.5" x2="356.5" y2="349" stroke="#333" stroke-width="1" /><line x1="386.75" y1="346.5" x2="386.75" y2="349" stroke="#333" stroke-width="1" /><line x1="417" y1="346.5" x2="417" y2="349" stroke="#333" stroke-width="1" /><line x1="447.25" y1="346.5" x2="447.25" y2="349" stroke="#333" stroke-width="1" /><line x1="477.5" y1="346.5" x2="477.5" y2="349" stroke="#333" stroke-width="1" /><line x1="311.12" y1="346.5" x2="311.12" y2="348" stroke="#333" stroke-width="1" /><line x1="341.38" y1="346.5" x2="341.38" y2="348" stroke="#333" stroke-width="1" /><line x1="371.62" y1="346.5" x2="371.62" y2="348" stroke="#333" stroke-width="1" /><line x1="401.88" y1="346.5" x2="401.88" y2="348" stroke="#333" stroke-width="1" /><line x1="432.12" y1="346.5" x2="432.12" y2="348" stroke="#333" stroke-width="1" /><line x1="462.38" y1="346.5" x2="462.38" y2="348" stroke="#333" stroke-width="1" /><text x="296" y="360" font-size="10.8" text-anchor="middle" fill="#000" >538</text><text x="326.25" y="360" font-size="10.8" text-anchor="middle" fill="#000" >536</text><text x="356.5" y="360" font-size="10.8" text-anchor="middle" fill="#000" >534</text><text x="386.75" y="360" font-size="10.8" text-anchor="middle" fill="#000" >532</text><text x="417" y="360" font-size="10.8" text-anchor="middle" fill="#000" >530</text><text x="447.25" y="360" font-size="10.8" text-anchor="middle" fill="#000" >528</text><text x="477.5" y="360" font-size="10.8" text-anchor="middle" fill="#000" >526</text><text x="387" y="376" font-size="12.3" text-anchor="middle" fill="#000" >Binding Energy (eV)</text><text transform="translate(286.8,269.2) rotate(-90)" font-size="12.3" text-anchor="middle" fill="#000">Intensity (a.u.)</text><text x="300.2" y="213.3" font-size="11" fill="#000" >O 1<tspan font-style="italic">s</tspan></text><defs><linearGradient id="g_lat" x1="0" y1="0" x2="0" y2="1"><stop offset="0" stop-color="#6f78c4" stop-opacity="0.9"/><stop offset="1" stop-color="#6f78c4" stop-opacity="0.05"/></linearGradient><linearGradient id="g_ov" x1="0" y1="0" x2="0" y2="1"><stop offset="0" stop-color="#2fb55a" stop-opacity="0.9"/><stop offset="1" stop-color="#2fb55a" stop-opacity="0.05"/></linearGradient><linearGradient id="g_oh" x1="0" y1="0" x2="0" y2="1"><stop offset="0" stop-color="#f07676" stop-opacity="0.9"/><stop offset="1" stop-color="#f07676" stop-opacity="0.05"/></linearGradient></defs><line x1="296" y1="284.6" x2="477.5" y2="284.6" stroke="#c8a8a0" stroke-width="0.6" /><path d="M296,284.6 L296.5,284.6 L297,284.6 L297.5,284.6 L298,284.6 L298.5,284.6 L299,284.6 L299.5,284.6 L300,284.6 L300.5,284.6 L301,284.6 L301.5,284.6 L302,284.6 L302.5,284.6 L303,284.6 L303.5,284.6 L304,284.6 L304.5,284.6 L305,284.6 L305.5,284.6 L306,284.6 L306.5,284.6 L307,284.6 L307.5,284.6 L308,284.6 L308.5,284.6 L309,284.6 L309.5,284.6 L310,284.6 L310.5,284.6 L311,284.6 L311.5,284.6 L312,284.6 L312.5,284.6 L313,284.6 L313.5,284.6 L314,284.6 L314.5,284.6 L315,284.6 L315.5,284.6 L316,284.6 L316.5,284.6 L317,284.6 L317.5,284.6 L318,284.6 L318.5,284.6 L319,284.6 L319.5,284.6 L320,284.6 L320.5,284.6 L321,284.6 L321.5,284.6 L322,284.6 L322.5,284.6 L323,284.6 L323.5,284.6 L324,284.6 L324.5,284.6 L325,284.6 L325.5,284.6 L326,284.6 L326.5,284.6 L327,284.6 L327.5,284.6 L328,284.6 L328.5,284.6 L329,284.6 L329.5,284.6 L330,284.6 L330.5,284.6 L331,284.6 L331.5,284.6 L332,284.6 L332.5,284.6 L333,284.6 L333.5,284.6 L334,284.6 L334.5,284.6 L335,284.6 L335.5,284.6 L336,284.6 L336.5,284.6 L337,284.6 L337.5,284.6 L338,284.6 L338.5,284.6 L339,284.6 L339.5,284.6 L340,284.6 L340.5,284.6 L341,284.6 L341.5,284.6 L342,284.6 L342.5,284.6 L343,284.6 L343.5,284.6 L344,284.6 L344.5,284.6 L345,284.6 L345.5,284.6 L346,284.6 L346.5,284.6 L347,284.6 L347.5,284.6 L348,284.6 L348.5,284.6 L349,284.6 L349.5,284.6 L350,284.6 L350.5,284.6 L351,284.6 L351.5,284.6 L352,284.6 L352.5,284.6 L353,284.6 L353.5,284.6 L354,284.6 L354.5,284.6 L355,284.6 L355.5,284.6 L356,284.6 L356.5,284.6 L357,284.6 L357.5,284.6 L358,284.6 L358.5,284.6 L359,284.6 L359.5,284.6 L360,284.6 L360.5,284.6 L361,284.6 L361.5,284.6 L362,284.6 L362.5,284.6 L363,284.6 L363.5,284.6 L364,284.6 L364.5,284.6 L365,284.6 L365.5,284.6 L366,284.6 L366.5,284.6 L367,284.6 L367.5,284.6 L368,284.6 L368.5,284.6 L369,284.6 L369.5,284.6 L370,284.6 L370.5,284.6 L371,284.59 L371.5,284.59 L372,284.59 L372.5,284.59 L373,284.59 L373.5,284.58 L374,284.58 L374.5,284.57 L375,284.57 L375.5,284.56 L376,284.55 L376.5,284.54 L377,284.53 L377.5,284.52 L378,284.5 L378.5,284.48 L379,284.46 L379.5,284.43 L380,284.4 L380.5,284.36 L381,284.32 L381.5,284.27 L382,284.21 L382.5,284.15 L383,284.07 L383.5,283.99 L384,283.89 L384.5,283.77 L385,283.65 L385.5,283.5 L386,283.34 L386.5,283.16 L387,282.96 L387.5,282.73 L388,282.48 L388.5,282.2 L389,281.89 L389.5,281.55 L390,281.18 L390.5,280.78 L391,280.34 L391.5,279.86 L392,279.34 L392.5,278.79 L393,278.2 L393.5,277.56 L394,276.89 L394.5,276.17 L395,275.41 L395.5,274.62 L396,273.79 L396.5,272.92 L397,272.02 L397.5,271.09 L398,270.13 L398.5,269.15 L399,268.15 L399.5,267.13 L400,266.11 L400.5,265.08 L401,264.06 L401.5,263.04 L402,262.04 L402.5,261.06 L403,260.11 L403.5,259.2 L404,258.32 L404.5,257.5 L405,256.73 L405.5,256.02 L406,255.37 L406.5,254.8 L407,254.31 L407.5,253.89 L408,253.56 L408.5,253.32 L409,253.17 L409.5,253.1 L410,253.13 L410.5,253.25 L411,253.45 L411.5,253.75 L412,254.13 L412.5,254.59 L413,255.14 L413.5,255.75 L414,256.44 L414.5,257.18 L415,257.99 L415.5,258.84 L416,259.74 L416.5,260.68 L417,261.65 L417.5,262.64 L418,263.65 L418.5,264.67 L419,265.7 L419.5,266.73 L420,267.74 L420.5,268.75 L421,269.74 L421.5,270.71 L422,271.65 L422.5,272.56 L423,273.44 L423.5,274.29 L424,275.1 L424.5,275.87 L425,276.6 L425.5,277.3 L426,277.95 L426.5,278.56 L427,279.13 L427.5,279.66 L428,280.15 L428.5,280.61 L429,281.02 L429.5,281.41 L430,281.76 L430.5,282.08 L431,282.37 L431.5,282.63 L432,282.87 L432.5,283.08 L433,283.27 L433.5,283.44 L434,283.59 L434.5,283.73 L435,283.84 L435.5,283.95 L436,284.04 L436.5,284.12 L437,284.19 L437.5,284.25 L438,284.3 L438.5,284.35 L439,284.39 L439.5,284.42 L440,284.45 L440.5,284.47 L441,284.49 L441.5,284.51 L442,284.53 L442.5,284.54 L443,284.55 L443.5,284.56 L444,284.57 L444.5,284.57 L445,284.58 L445.5,284.58 L446,284.59 L446.5,284.59 L447,284.59 L447.5,284.59 L448,284.59 L448.5,284.59 L449,284.6 L449.5,284.6 L450,284.6 L450.5,284.6 L451,284.6 L451.5,284.6 L452,284.6 L452.5,284.6 L453,284.6 L453.5,284.6 L454,284.6 L454.5,284.6 L455,284.6 L455.5,284.6 L456,284.6 L456.5,284.6 L457,284.6 L457.5,284.6 L458,284.6 L458.5,284.6 L459,284.6 L459.5,284.6 L460,284.6 L460.5,284.6 L461,284.6 L461.5,284.6 L462,284.6 L462.5,284.6 L463,284.6 L463.5,284.6 L464,284.6 L464.5,284.6 L465,284.6 L465.5,284.6 L466,284.6 L466.5,284.6 L467,284.6 L467.5,284.6 L468,284.6 L468.5,284.6 L469,284.6 L469.5,284.6 L470,284.6 L470.5,284.6 L471,284.6 L471.5,284.6 L472,284.6 L472.5,284.6 L473,284.6 L473.5,284.6 L474,284.6 L474.5,284.6 L475,284.6 L475.5,284.6 L476,284.6 L476.5,284.6 L477,284.6 L477.5,284.6 L477.5,284.6 L296,284.6 Z" stroke="none" stroke-width="1" fill="url(#g_lat)" /><path d="M296,284.6 L296.5,284.6 L297,284.6 L297.5,284.6 L298,284.6 L298.5,284.6 L299,284.6 L299.5,284.6 L300,284.6 L300.5,284.6 L301,284.6 L301.5,284.6 L302,284.6 L302.5,284.6 L303,284.6 L303.5,284.6 L304,284.6 L304.5,284.6 L305,284.6 L305.5,284.6 L306,284.6 L306.5,284.6 L307,284.6 L307.5,284.6 L308,284.6 L308.5,284.6 L309,284.6 L309.5,284.6 L310,284.6 L310.5,284.6 L311,284.6 L311.5,284.6 L312,284.6 L312.5,284.6 L313,284.6 L313.5,284.6 L314,284.6 L314.5,284.6 L315,284.6 L315.5,284.6 L316,284.6 L316.5,284.6 L317,284.6 L317.5,284.6 L318,284.6 L318.5,284.6 L319,284.6 L319.5,284.6 L320,284.6 L320.5,284.6 L321,284.6 L321.5,284.6 L322,284.6 L322.5,284.6 L323,284.6 L323.5,284.6 L324,284.6 L324.5,284.6 L325,284.6 L325.5,284.6 L326,284.6 L326.5,284.6 L327,284.6 L327.5,284.6 L328,284.6 L328.5,284.6 L329,284.6 L329.5,284.6 L330,284.6 L330.5,284.6 L331,284.6 L331.5,284.6 L332,284.6 L332.5,284.6 L333,284.6 L333.5,284.6 L334,284.6 L334.5,284.6 L335,284.6 L335.5,284.6 L336,284.6 L336.5,284.6 L337,284.6 L337.5,284.6 L338,284.6 L338.5,284.6 L339,284.6 L339.5,284.6 L340,284.6 L340.5,284.6 L341,284.6 L341.5,284.6 L342,284.6 L342.5,284.6 L343,284.6 L343.5,284.6 L344,284.6 L344.5,284.6 L345,284.6 L345.5,284.6 L346,284.6 L346.5,284.6 L347,284.6 L347.5,284.6 L348,284.6 L348.5,284.6 L349,284.6 L349.5,284.6 L350,284.6 L350.5,284.6 L351,284.6 L351.5,284.6 L352,284.6 L352.5,284.6 L353,284.6 L353.5,284.6 L354,284.6 L354.5,284.6 L355,284.6 L355.5,284.6 L356,284.6 L356.5,284.6 L357,284.6 L357.5,284.6 L358,284.6 L358.5,284.6 L359,284.6 L359.5,284.6 L360,284.6 L360.5,284.6 L361,284.6 L361.5,284.6 L362,284.6 L362.5,284.6 L363,284.6 L363.5,284.6 L364,284.6 L364.5,284.6 L365,284.6 L365.5,284.6 L366,284.6 L366.5,284.6 L367,284.6 L367.5,284.6 L368,284.6 L368.5,284.6 L369,284.6 L369.5,284.6 L370,284.6 L370.5,284.6 L371,284.59 L371.5,284.59 L372,284.59 L372.5,284.59 L373,284.59 L373.5,284.58 L374,284.58 L374.5,284.57 L375,284.57 L375.5,284.56 L376,284.55 L376.5,284.54 L377,284.53 L377.5,284.52 L378,284.5 L378.5,284.48 L379,284.46 L379.5,284.43 L380,284.4 L380.5,284.36 L381,284.32 L381.5,284.27 L382,284.21 L382.5,284.15 L383,284.07 L383.5,283.99 L384,283.89 L384.5,283.77 L385,283.65 L385.5,283.5 L386,283.34 L386.5,283.16 L387,282.96 L387.5,282.73 L388,282.48 L388.5,282.2 L389,281.89 L389.5,281.55 L390,281.18 L390.5,280.78 L391,280.34 L391.5,279.86 L392,279.34 L392.5,278.79 L393,278.2 L393.5,277.56 L394,276.89 L394.5,276.17 L395,275.41 L395.5,274.62 L396,273.79 L396.5,272.92 L397,272.02 L397.5,271.09 L398,270.13 L398.5,269.15 L399,268.15 L399.5,267.13 L400,266.11 L400.5,265.08 L401,264.06 L401.5,263.04 L402,262.04 L402.5,261.06 L403,260.11 L403.5,259.2 L404,258.32 L404.5,257.5 L405,256.73 L405.5,256.02 L406,255.37 L406.5,254.8 L407,254.31 L407.5,253.89 L408,253.56 L408.5,253.32 L409,253.17 L409.5,253.1 L410,253.13 L410.5,253.25 L411,253.45 L411.5,253.75 L412,254.13 L412.5,254.59 L413,255.14 L413.5,255.75 L414,256.44 L414.5,257.18 L415,257.99 L415.5,258.84 L416,259.74 L416.5,260.68 L417,261.65 L417.5,262.64 L418,263.65 L418.5,264.67 L419,265.7 L419.5,266.73 L420,267.74 L420.5,268.75 L421,269.74 L421.5,270.71 L422,271.65 L422.5,272.56 L423,273.44 L423.5,274.29 L424,275.1 L424.5,275.87 L425,276.6 L425.5,277.3 L426,277.95 L426.5,278.56 L427,279.13 L427.5,279.66 L428,280.15 L428.5,280.61 L429,281.02 L429.5,281.41 L430,281.76 L430.5,282.08 L431,282.37 L431.5,282.63 L432,282.87 L432.5,283.08 L433,283.27 L433.5,283.44 L434,283.59 L434.5,283.73 L435,283.84 L435.5,283.95 L436,284.04 L436.5,284.12 L437,284.19 L437.5,284.25 L438,284.3 L438.5,284.35 L439,284.39 L439.5,284.42 L440,284.45 L440.5,284.47 L441,284.49 L441.5,284.51 L442,284.53 L442.5,284.54 L443,284.55 L443.5,284.56 L444,284.57 L444.5,284.57 L445,284.58 L445.5,284.58 L446,284.59 L446.5,284.59 L447,284.59 L447.5,284.59 L448,284.59 L448.5,284.59 L449,284.6 L449.5,284.6 L450,284.6 L450.5,284.6 L451,284.6 L451.5,284.6 L452,284.6 L452.5,284.6 L453,284.6 L453.5,284.6 L454,284.6 L454.5,284.6 L455,284.6 L455.5,284.6 L456,284.6 L456.5,284.6 L457,284.6 L457.5,284.6 L458,284.6 L458.5,284.6 L459,284.6 L459.5,284.6 L460,284.6 L460.5,284.6 L461,284.6 L461.5,284.6 L462,284.6 L462.5,284.6 L463,284.6 L463.5,284.6 L464,284.6 L464.5,284.6 L465,284.6 L465.5,284.6 L466,284.6 L466.5,284.6 L467,284.6 L467.5,284.6 L468,284.6 L468.5,284.6 L469,284.6 L469.5,284.6 L470,284.6 L470.5,284.6 L471,284.6 L471.5,284.6 L472,284.6 L472.5,284.6 L473,284.6 L473.5,284.6 L474,284.6 L474.5,284.6 L475,284.6 L475.5,284.6 L476,284.6 L476.5,284.6 L477,284.6 L477.5,284.6" stroke="#7078c4" stroke-width="0.7" fill="none" /><path d="M296,284.6 L296.5,284.6 L297,284.6 L297.5,284.6 L298,284.6 L298.5,284.6 L299,284.6 L299.5,284.6 L300,284.6 L300.5,284.6 L301,284.6 L301.5,284.6 L302,284.6 L302.5,284.6 L303,284.6 L303.5,284.6 L304,284.6 L304.5,284.6 L305,284.6 L305.5,284.6 L306,284.6 L306.5,284.6 L307,284.6 L307.5,284.6 L308,284.6 L308.5,284.6 L309,284.6 L309.5,284.6 L310,284.6 L310.5,284.6 L311,284.6 L311.5,284.6 L312,284.6 L312.5,284.6 L313,284.6 L313.5,284.6 L314,284.6 L314.5,284.6 L315,284.6 L315.5,284.6 L316,284.6 L316.5,284.6 L317,284.6 L317.5,284.6 L318,284.6 L318.5,284.6 L319,284.6 L319.5,284.6 L320,284.6 L320.5,284.6 L321,284.6 L321.5,284.6 L322,284.6 L322.5,284.6 L323,284.6 L323.5,284.6 L324,284.6 L324.5,284.6 L325,284.6 L325.5,284.6 L326,284.6 L326.5,284.6 L327,284.6 L327.5,284.6 L328,284.6 L328.5,284.6 L329,284.6 L329.5,284.6 L330,284.6 L330.5,284.6 L331,284.6 L331.5,284.6 L332,284.6 L332.5,284.6 L333,284.6 L333.5,284.6 L334,284.6 L334.5,284.6 L335,284.6 L335.5,284.6 L336,284.6 L336.5,284.6 L337,284.6 L337.5,284.6 L338,284.6 L338.5,284.6 L339,284.6 L339.5,284.6 L340,284.59 L340.5,284.59 L341,284.59 L341.5,284.59 L342,284.59 L342.5,284.59 L343,284.59 L343.5,284.58 L344,284.58 L344.5,284.58 L345,284.57 L345.5,284.57 L346,284.57 L346.5,284.56 L347,284.56 L347.5,284.55 L348,284.54 L348.5,284.53 L349,284.52 L349.5,284.51 L350,284.5 L350.5,284.49 L351,284.48 L351.5,284.46 L352,284.44 L352.5,284.42 L353,284.4 L353.5,284.37 L354,284.35 L354.5,284.31 L355,284.28 L355.5,284.24 L356,284.2 L356.5,284.16 L357,284.11 L357.5,284.06 L358,284 L358.5,283.93 L359,283.87 L359.5,283.79 L360,283.71 L360.5,283.62 L361,283.53 L361.5,283.43 L362,283.32 L362.5,283.2 L363,283.07 L363.5,282.94 L364,282.79 L364.5,282.64 L365,282.48 L365.5,282.31 L366,282.13 L366.5,281.93 L367,281.73 L367.5,281.52 L368,281.3 L368.5,281.06 L369,280.82 L369.5,280.56 L370,280.3 L370.5,280.03 L371,279.74 L371.5,279.45 L372,279.14 L372.5,278.83 L373,278.51 L373.5,278.19 L374,277.85 L374.5,277.51 L375,277.17 L375.5,276.82 L376,276.47 L376.5,276.11 L377,275.76 L377.5,275.4 L378,275.04 L378.5,274.69 L379,274.34 L379.5,273.99 L380,273.65 L380.5,273.32 L381,273 L381.5,272.68 L382,272.38 L382.5,272.09 L383,271.81 L383.5,271.55 L384,271.3 L384.5,271.07 L385,270.86 L385.5,270.67 L386,270.5 L386.5,270.35 L387,270.21 L387.5,270.11 L388,270.02 L388.5,269.96 L389,269.92 L389.5,269.9 L390,269.91 L390.5,269.94 L391,269.99 L391.5,270.07 L392,270.17 L392.5,270.29 L393,270.43 L393.5,270.6 L394,270.78 L394.5,270.99 L395,271.21 L395.5,271.45 L396,271.71 L396.5,271.98 L397,272.26 L397.5,272.56 L398,272.87 L398.5,273.19 L399,273.52 L399.5,273.86 L400,274.2 L400.5,274.55 L401,274.9 L401.5,275.26 L402,275.61 L402.5,275.97 L403,276.32 L403.5,276.68 L404,277.03 L404.5,277.38 L405,277.72 L405.5,278.05 L406,278.38 L406.5,278.71 L407,279.02 L407.5,279.33 L408,279.62 L408.5,279.91 L409,280.19 L409.5,280.46 L410,280.72 L410.5,280.97 L411,281.2 L411.5,281.43 L412,281.65 L412.5,281.86 L413,282.05 L413.5,282.24 L414,282.41 L414.5,282.58 L415,282.73 L415.5,282.88 L416,283.02 L416.5,283.15 L417,283.27 L417.5,283.38 L418,283.49 L418.5,283.58 L419,283.68 L419.5,283.76 L420,283.84 L420.5,283.91 L421,283.97 L421.5,284.03 L422,284.09 L422.5,284.14 L423,284.19 L423.5,284.23 L424,284.27 L424.5,284.3 L425,284.33 L425.5,284.36 L426,284.39 L426.5,284.41 L427,284.43 L427.5,284.45 L428,284.47 L428.5,284.48 L429,284.5 L429.5,284.51 L430,284.52 L430.5,284.53 L431,284.54 L431.5,284.55 L432,284.55 L432.5,284.56 L433,284.56 L433.5,284.57 L434,284.57 L434.5,284.58 L435,284.58 L435.5,284.58 L436,284.59 L436.5,284.59 L437,284.59 L437.5,284.59 L438,284.59 L438.5,284.59 L439,284.59 L439.5,284.59 L440,284.6 L440.5,284.6 L441,284.6 L441.5,284.6 L442,284.6 L442.5,284.6 L443,284.6 L443.5,284.6 L444,284.6 L444.5,284.6 L445,284.6 L445.5,284.6 L446,284.6 L446.5,284.6 L447,284.6 L447.5,284.6 L448,284.6 L448.5,284.6 L449,284.6 L449.5,284.6 L450,284.6 L450.5,284.6 L451,284.6 L451.5,284.6 L452,284.6 L452.5,284.6 L453,284.6 L453.5,284.6 L454,284.6 L454.5,284.6 L455,284.6 L455.5,284.6 L456,284.6 L456.5,284.6 L457,284.6 L457.5,284.6 L458,284.6 L458.5,284.6 L459,284.6 L459.5,284.6 L460,284.6 L460.5,284.6 L461,284.6 L461.5,284.6 L462,284.6 L462.5,284.6 L463,284.6 L463.5,284.6 L464,284.6 L464.5,284.6 L465,284.6 L465.5,284.6 L466,284.6 L466.5,284.6 L467,284.6 L467.5,284.6 L468,284.6 L468.5,284.6 L469,284.6 L469.5,284.6 L470,284.6 L470.5,284.6 L471,284.6 L471.5,284.6 L472,284.6 L472.5,284.6 L473,284.6 L473.5,284.6 L474,284.6 L474.5,284.6 L475,284.6 L475.5,284.6 L476,284.6 L476.5,284.6 L477,284.6 L477.5,284.6 L477.5,284.6 L296,284.6 Z" stroke="none" stroke-width="1" fill="url(#g_ov)" /><path d="M296,284.6 L296.5,284.6 L297,284.6 L297.5,284.6 L298,284.6 L298.5,284.6 L299,284.6 L299.5,284.6 L300,284.6 L300.5,284.6 L301,284.6 L301.5,284.6 L302,284.6 L302.5,284.6 L303,284.6 L303.5,284.6 L304,284.6 L304.5,284.6 L305,284.6 L305.5,284.6 L306,284.6 L306.5,284.6 L307,284.6 L307.5,284.6 L308,284.6 L308.5,284.6 L309,284.6 L309.5,284.6 L310,284.6 L310.5,284.6 L311,284.6 L311.5,284.6 L312,284.6 L312.5,284.6 L313,284.6 L313.5,284.6 L314,284.6 L314.5,284.6 L315,284.6 L315.5,284.6 L316,284.6 L316.5,284.6 L317,284.6 L317.5,284.6 L318,284.6 L318.5,284.6 L319,284.6 L319.5,284.6 L320,284.6 L320.5,284.6 L321,284.6 L321.5,284.6 L322,284.6 L322.5,284.6 L323,284.6 L323.5,284.6 L324,284.6 L324.5,284.6 L325,284.6 L325.5,284.6 L326,284.6 L326.5,284.6 L327,284.6 L327.5,284.6 L328,284.6 L328.5,284.6 L329,284.6 L329.5,284.6 L330,284.6 L330.5,284.6 L331,284.6 L331.5,284.6 L332,284.6 L332.5,284.6 L333,284.6 L333.5,284.6 L334,284.6 L334.5,284.6 L335,284.6 L335.5,284.6 L336,284.6 L336.5,284.6 L337,284.6 L337.5,284.6 L338,284.6 L338.5,284.6 L339,284.6 L339.5,284.6 L340,284.59 L340.5,284.59 L341,284.59 L341.5,284.59 L342,284.59 L342.5,284.59 L343,284.59 L343.5,284.58 L344,284.58 L344.5,284.58 L345,284.57 L345.5,284.57 L346,284.57 L346.5,284.56 L347,284.56 L347.5,284.55 L348,284.54 L348.5,284.53 L349,284.52 L349.5,284.51 L350,284.5 L350.5,284.49 L351,284.48 L351.5,284.46 L352,284.44 L352.5,284.42 L353,284.4 L353.5,284.37 L354,284.35 L354.5,284.31 L355,284.28 L355.5,284.24 L356,284.2 L356.5,284.16 L357,284.11 L357.5,284.06 L358,284 L358.5,283.93 L359,283.87 L359.5,283.79 L360,283.71 L360.5,283.62 L361,283.53 L361.5,283.43 L362,283.32 L362.5,283.2 L363,283.07 L363.5,282.94 L364,282.79 L364.5,282.64 L365,282.48 L365.5,282.31 L366,282.13 L366.5,281.93 L367,281.73 L367.5,281.52 L368,281.3 L368.5,281.06 L369,280.82 L369.5,280.56 L370,280.3 L370.5,280.03 L371,279.74 L371.5,279.45 L372,279.14 L372.5,278.83 L373,278.51 L373.5,278.19 L374,277.85 L374.5,277.51 L375,277.17 L375.5,276.82 L376,276.47 L376.5,276.11 L377,275.76 L377.5,275.4 L378,275.04 L378.5,274.69 L379,274.34 L379.5,273.99 L380,273.65 L380.5,273.32 L381,273 L381.5,272.68 L382,272.38 L382.5,272.09 L383,271.81 L383.5,271.55 L384,271.3 L384.5,271.07 L385,270.86 L385.5,270.67 L386,270.5 L386.5,270.35 L387,270.21 L387.5,270.11 L388,270.02 L388.5,269.96 L389,269.92 L389.5,269.9 L390,269.91 L390.5,269.94 L391,269.99 L391.5,270.07 L392,270.17 L392.5,270.29 L393,270.43 L393.5,270.6 L394,270.78 L394.5,270.99 L395,271.21 L395.5,271.45 L396,271.71 L396.5,271.98 L397,272.26 L397.5,272.56 L398,272.87 L398.5,273.19 L399,273.52 L399.5,273.86 L400,274.2 L400.5,274.55 L401,274.9 L401.5,275.26 L402,275.61 L402.5,275.97 L403,276.32 L403.5,276.68 L404,277.03 L404.5,277.38 L405,277.72 L405.5,278.05 L406,278.38 L406.5,278.71 L407,279.02 L407.5,279.33 L408,279.62 L408.5,279.91 L409,280.19 L409.5,280.46 L410,280.72 L410.5,280.97 L411,281.2 L411.5,281.43 L412,281.65 L412.5,281.86 L413,282.05 L413.5,282.24 L414,282.41 L414.5,282.58 L415,282.73 L415.5,282.88 L416,283.02 L416.5,283.15 L417,283.27 L417.5,283.38 L418,283.49 L418.5,283.58 L419,283.68 L419.5,283.76 L420,283.84 L420.5,283.91 L421,283.97 L421.5,284.03 L422,284.09 L422.5,284.14 L423,284.19 L423.5,284.23 L424,284.27 L424.5,284.3 L425,284.33 L425.5,284.36 L426,284.39 L426.5,284.41 L427,284.43 L427.5,284.45 L428,284.47 L428.5,284.48 L429,284.5 L429.5,284.51 L430,284.52 L430.5,284.53 L431,284.54 L431.5,284.55 L432,284.55 L432.5,284.56 L433,284.56 L433.5,284.57 L434,284.57 L434.5,284.58 L435,284.58 L435.5,284.58 L436,284.59 L436.5,284.59 L437,284.59 L437.5,284.59 L438,284.59 L438.5,284.59 L439,284.59 L439.5,284.59 L440,284.6 L440.5,284.6 L441,284.6 L441.5,284.6 L442,284.6 L442.5,284.6 L443,284.6 L443.5,284.6 L444,284.6 L444.5,284.6 L445,284.6 L445.5,284.6 L446,284.6 L446.5,284.6 L447,284.6 L447.5,284.6 L448,284.6 L448.5,284.6 L449,284.6 L449.5,284.6 L450,284.6 L450.5,284.6 L451,284.6 L451.5,284.6 L452,284.6 L452.5,284.6 L453,284.6 L453.5,284.6 L454,284.6 L454.5,284.6 L455,284.6 L455.5,284.6 L456,284.6 L456.5,284.6 L457,284.6 L457.5,284.6 L458,284.6 L458.5,284.6 L459,284.6 L459.5,284.6 L460,284.6 L460.5,284.6 L461,284.6 L461.5,284.6 L462,284.6 L462.5,284.6 L463,284.6 L463.5,284.6 L464,284.6 L464.5,284.6 L465,284.6 L465.5,284.6 L466,284.6 L466.5,284.6 L467,284.6 L467.5,284.6 L468,284.6 L468.5,284.6 L469,284.6 L469.5,284.6 L470,284.6 L470.5,284.6 L471,284.6 L471.5,284.6 L472,284.6 L472.5,284.6 L473,284.6 L473.5,284.6 L474,284.6 L474.5,284.6 L475,284.6 L475.5,284.6 L476,284.6 L476.5,284.6 L477,284.6 L477.5,284.6" stroke="#3cb860" stroke-width="0.7" fill="none" /><path d="M296,284.6 L296.5,284.6 L297,284.6 L297.5,284.6 L298,284.6 L298.5,284.6 L299,284.6 L299.5,284.6 L300,284.6 L300.5,284.6 L301,284.6 L301.5,284.6 L302,284.6 L302.5,284.6 L303,284.6 L303.5,284.6 L304,284.6 L304.5,284.6 L305,284.6 L305.5,284.6 L306,284.59 L306.5,284.59 L307,284.59 L307.5,284.59 L308,284.59 L308.5,284.59 L309,284.59 L309.5,284.59 L310,284.59 L310.5,284.59 L311,284.58 L311.5,284.58 L312,284.58 L312.5,284.58 L313,284.58 L313.5,284.57 L314,284.57 L314.5,284.57 L315,284.57 L315.5,284.56 L316,284.56 L316.5,284.55 L317,284.55 L317.5,284.54 L318,284.54 L318.5,284.53 L319,284.53 L319.5,284.52 L320,284.51 L320.5,284.51 L321,284.5 L321.5,284.49 L322,284.48 L322.5,284.47 L323,284.46 L323.5,284.44 L324,284.43 L324.5,284.42 L325,284.4 L325.5,284.38 L326,284.37 L326.5,284.35 L327,284.33 L327.5,284.31 L328,284.28 L328.5,284.26 L329,284.23 L329.5,284.21 L330,284.18 L330.5,284.15 L331,284.12 L331.5,284.08 L332,284.05 L332.5,284.01 L333,283.97 L333.5,283.92 L334,283.88 L334.5,283.83 L335,283.78 L335.5,283.73 L336,283.68 L336.5,283.62 L337,283.56 L337.5,283.5 L338,283.44 L338.5,283.37 L339,283.3 L339.5,283.23 L340,283.15 L340.5,283.07 L341,282.99 L341.5,282.91 L342,282.82 L342.5,282.73 L343,282.64 L343.5,282.54 L344,282.44 L344.5,282.34 L345,282.24 L345.5,282.13 L346,282.02 L346.5,281.91 L347,281.8 L347.5,281.68 L348,281.57 L348.5,281.45 L349,281.32 L349.5,281.2 L350,281.07 L350.5,280.95 L351,280.82 L351.5,280.69 L352,280.56 L352.5,280.43 L353,280.3 L353.5,280.16 L354,280.03 L354.5,279.9 L355,279.77 L355.5,279.64 L356,279.51 L356.5,279.38 L357,279.25 L357.5,279.13 L358,279 L358.5,278.88 L359,278.76 L359.5,278.64 L360,278.53 L360.5,278.42 L361,278.31 L361.5,278.21 L362,278.11 L362.5,278.01 L363,277.92 L363.5,277.83 L364,277.75 L364.5,277.68 L365,277.6 L365.5,277.54 L366,277.48 L366.5,277.42 L367,277.37 L367.5,277.33 L368,277.29 L368.5,277.26 L369,277.24 L369.5,277.22 L370,277.21 L370.5,277.2 L371,277.2 L371.5,277.21 L372,277.22 L372.5,277.24 L373,277.27 L373.5,277.3 L374,277.34 L374.5,277.38 L375,277.43 L375.5,277.49 L376,277.55 L376.5,277.62 L377,277.69 L377.5,277.77 L378,277.85 L378.5,277.94 L379,278.03 L379.5,278.13 L380,278.23 L380.5,278.33 L381,278.44 L381.5,278.55 L382,278.67 L382.5,278.78 L383,278.9 L383.5,279.03 L384,279.15 L384.5,279.28 L385,279.41 L385.5,279.53 L386,279.66 L386.5,279.8 L387,279.93 L387.5,280.06 L388,280.19 L388.5,280.32 L389,280.45 L389.5,280.59 L390,280.72 L390.5,280.84 L391,280.97 L391.5,281.1 L392,281.22 L392.5,281.35 L393,281.47 L393.5,281.59 L394,281.71 L394.5,281.82 L395,281.94 L395.5,282.05 L396,282.15 L396.5,282.26 L397,282.36 L397.5,282.46 L398,282.56 L398.5,282.66 L399,282.75 L399.5,282.84 L400,282.92 L400.5,283.01 L401,283.09 L401.5,283.17 L402,283.24 L402.5,283.31 L403,283.38 L403.5,283.45 L404,283.51 L404.5,283.57 L405,283.63 L405.5,283.69 L406,283.74 L406.5,283.79 L407,283.84 L407.5,283.89 L408,283.93 L408.5,283.98 L409,284.02 L409.5,284.05 L410,284.09 L410.5,284.12 L411,284.15 L411.5,284.18 L412,284.21 L412.5,284.24 L413,284.27 L413.5,284.29 L414,284.31 L414.5,284.33 L415,284.35 L415.5,284.37 L416,284.39 L416.5,284.4 L417,284.42 L417.5,284.43 L418,284.45 L418.5,284.46 L419,284.47 L419.5,284.48 L420,284.49 L420.5,284.5 L421,284.51 L421.5,284.51 L422,284.52 L422.5,284.53 L423,284.53 L423.5,284.54 L424,284.55 L424.5,284.55 L425,284.55 L425.5,284.56 L426,284.56 L426.5,284.57 L427,284.57 L427.5,284.57 L428,284.57 L428.5,284.58 L429,284.58 L429.5,284.58 L430,284.58 L430.5,284.58 L431,284.59 L431.5,284.59 L432,284.59 L432.5,284.59 L433,284.59 L433.5,284.59 L434,284.59 L434.5,284.59 L435,284.59 L435.5,284.59 L436,284.6 L436.5,284.6 L437,284.6 L437.5,284.6 L438,284.6 L438.5,284.6 L439,284.6 L439.5,284.6 L440,284.6 L440.5,284.6 L441,284.6 L441.5,284.6 L442,284.6 L442.5,284.6 L443,284.6 L443.5,284.6 L444,284.6 L444.5,284.6 L445,284.6 L445.5,284.6 L446,284.6 L446.5,284.6 L447,284.6 L447.5,284.6 L448,284.6 L448.5,284.6 L449,284.6 L449.5,284.6 L450,284.6 L450.5,284.6 L451,284.6 L451.5,284.6 L452,284.6 L452.5,284.6 L453,284.6 L453.5,284.6 L454,284.6 L454.5,284.6 L455,284.6 L455.5,284.6 L456,284.6 L456.5,284.6 L457,284.6 L457.5,284.6 L458,284.6 L458.5,284.6 L459,284.6 L459.5,284.6 L460,284.6 L460.5,284.6 L461,284.6 L461.5,284.6 L462,284.6 L462.5,284.6 L463,284.6 L463.5,284.6 L464,284.6 L464.5,284.6 L465,284.6 L465.5,284.6 L466,284.6 L466.5,284.6 L467,284.6 L467.5,284.6 L468,284.6 L468.5,284.6 L469,284.6 L469.5,284.6 L470,284.6 L470.5,284.6 L471,284.6 L471.5,284.6 L472,284.6 L472.5,284.6 L473,284.6 L473.5,284.6 L474,284.6 L474.5,284.6 L475,284.6 L475.5,284.6 L476,284.6 L476.5,284.6 L477,284.6 L477.5,284.6 L477.5,284.6 L296,284.6 Z" stroke="none" stroke-width="1" fill="url(#g_oh)" /><path d="M296,284.6 L296.5,284.6 L297,284.6 L297.5,284.6 L298,284.6 L298.5,284.6 L299,284.6 L299.5,284.6 L300,284.6 L300.5,284.6 L301,284.6 L301.5,284.6 L302,284.6 L302.5,284.6 L303,284.6 L303.5,284.6 L304,284.6 L304.5,284.6 L305,284.6 L305.5,284.6 L306,284.59 L306.5,284.59 L307,284.59 L307.5,284.59 L308,284.59 L308.5,284.59 L309,284.59 L309.5,284.59 L310,284.59 L310.5,284.59 L311,284.58 L311.5,284.58 L312,284.58 L312.5,284.58 L313,284.58 L313.5,284.57 L314,284.57 L314.5,284.57 L315,284.57 L315.5,284.56 L316,284.56 L316.5,284.55 L317,284.55 L317.5,284.54 L318,284.54 L318.5,284.53 L319,284.53 L319.5,284.52 L320,284.51 L320.5,284.51 L321,284.5 L321.5,284.49 L322,284.48 L322.5,284.47 L323,284.46 L323.5,284.44 L324,284.43 L324.5,284.42 L325,284.4 L325.5,284.38 L326,284.37 L326.5,284.35 L327,284.33 L327.5,284.31 L328,284.28 L328.5,284.26 L329,284.23 L329.5,284.21 L330,284.18 L330.5,284.15 L331,284.12 L331.5,284.08 L332,284.05 L332.5,284.01 L333,283.97 L333.5,283.92 L334,283.88 L334.5,283.83 L335,283.78 L335.5,283.73 L336,283.68 L336.5,283.62 L337,283.56 L337.5,283.5 L338,283.44 L338.5,283.37 L339,283.3 L339.5,283.23 L340,283.15 L340.5,283.07 L341,282.99 L341.5,282.91 L342,282.82 L342.5,282.73 L343,282.64 L343.5,282.54 L344,282.44 L344.5,282.34 L345,282.24 L345.5,282.13 L346,282.02 L346.5,281.91 L347,281.8 L347.5,281.68 L348,281.57 L348.5,281.45 L349,281.32 L349.5,281.2 L350,281.07 L350.5,280.95 L351,280.82 L351.5,280.69 L352,280.56 L352.5,280.43 L353,280.3 L353.5,280.16 L354,280.03 L354.5,279.9 L355,279.77 L355.5,279.64 L356,279.51 L356.5,279.38 L357,279.25 L357.5,279.13 L358,279 L358.5,278.88 L359,278.76 L359.5,278.64 L360,278.53 L360.5,278.42 L361,278.31 L361.5,278.21 L362,278.11 L362.5,278.01 L363,277.92 L363.5,277.83 L364,277.75 L364.5,277.68 L365,277.6 L365.5,277.54 L366,277.48 L366.5,277.42 L367,277.37 L367.5,277.33 L368,277.29 L368.5,277.26 L369,277.24 L369.5,277.22 L370,277.21 L370.5,277.2 L371,277.2 L371.5,277.21 L372,277.22 L372.5,277.24 L373,277.27 L373.5,277.3 L374,277.34 L374.5,277.38 L375,277.43 L375.5,277.49 L376,277.55 L376.5,277.62 L377,277.69 L377.5,277.77 L378,277.85 L378.5,277.94 L379,278.03 L379.5,278.13 L380,278.23 L380.5,278.33 L381,278.44 L381.5,278.55 L382,278.67 L382.5,278.78 L383,278.9 L383.5,279.03 L384,279.15 L384.5,279.28 L385,279.41 L385.5,279.53 L386,279.66 L386.5,279.8 L387,279.93 L387.5,280.06 L388,280.19 L388.5,280.32 L389,280.45 L389.5,280.59 L390,280.72 L390.5,280.84 L391,280.97 L391.5,281.1 L392,281.22 L392.5,281.35 L393,281.47 L393.5,281.59 L394,281.71 L394.5,281.82 L395,281.94 L395.5,282.05 L396,282.15 L396.5,282.26 L397,282.36 L397.5,282.46 L398,282.56 L398.5,282.66 L399,282.75 L399.5,282.84 L400,282.92 L400.5,283.01 L401,283.09 L401.5,283.17 L402,283.24 L402.5,283.31 L403,283.38 L403.5,283.45 L404,283.51 L404.5,283.57 L405,283.63 L405.5,283.69 L406,283.74 L406.5,283.79 L407,283.84 L407.5,283.89 L408,283.93 L408.5,283.98 L409,284.02 L409.5,284.05 L410,284.09 L410.5,284.12 L411,284.15 L411.5,284.18 L412,284.21 L412.5,284.24 L413,284.27 L413.5,284.29 L414,284.31 L414.5,284.33 L415,284.35 L415.5,284.37 L416,284.39 L416.5,284.4 L417,284.42 L417.5,284.43 L418,284.45 L418.5,284.46 L419,284.47 L419.5,284.48 L420,284.49 L420.5,284.5 L421,284.51 L421.5,284.51 L422,284.52 L422.5,284.53 L423,284.53 L423.5,284.54 L424,284.55 L424.5,284.55 L425,284.55 L425.5,284.56 L426,284.56 L426.5,284.57 L427,284.57 L427.5,284.57 L428,284.57 L428.5,284.58 L429,284.58 L429.5,284.58 L430,284.58 L430.5,284.58 L431,284.59 L431.5,284.59 L432,284.59 L432.5,284.59 L433,284.59 L433.5,284.59 L434,284.59 L434.5,284.59 L435,284.59 L435.5,284.59 L436,284.6 L436.5,284.6 L437,284.6 L437.5,284.6 L438,284.6 L438.5,284.6 L439,284.6 L439.5,284.6 L440,284.6 L440.5,284.6 L441,284.6 L441.5,284.6 L442,284.6 L442.5,284.6 L443,284.6 L443.5,284.6 L444,284.6 L444.5,284.6 L445,284.6 L445.5,284.6 L446,284.6 L446.5,284.6 L447,284.6 L447.5,284.6 L448,284.6 L448.5,284.6 L449,284.6 L449.5,284.6 L450,284.6 L450.5,284.6 L451,284.6 L451.5,284.6 L452,284.6 L452.5,284.6 L453,284.6 L453.5,284.6 L454,284.6 L454.5,284.6 L455,284.6 L455.5,284.6 L456,284.6 L456.5,284.6 L457,284.6 L457.5,284.6 L458,284.6 L458.5,284.6 L459,284.6 L459.5,284.6 L460,284.6 L460.5,284.6 L461,284.6 L461.5,284.6 L462,284.6 L462.5,284.6 L463,284.6 L463.5,284.6 L464,284.6 L464.5,284.6 L465,284.6 L465.5,284.6 L466,284.6 L466.5,284.6 L467,284.6 L467.5,284.6 L468,284.6 L468.5,284.6 L469,284.6 L469.5,284.6 L470,284.6 L470.5,284.6 L471,284.6 L471.5,284.6 L472,284.6 L472.5,284.6 L473,284.6 L473.5,284.6 L474,284.6 L474.5,284.6 L475,284.6 L475.5,284.6 L476,284.6 L476.5,284.6 L477,284.6 L477.5,284.6" stroke="#f08080" stroke-width="0.7" fill="none" /><path d="M296,284.49 L296.5,284.49 L297,284.48 L297.5,284.47 L298,284.47 L298.5,284.46 L299,284.45 L299.5,284.44 L300,284.44 L300.5,284.43 L301,284.42 L301.5,284.41 L302,284.4 L302.5,284.39 L303,284.38 L303.5,284.37 L304,284.36 L304.5,284.35 L305,284.34 L305.5,284.32 L306,284.31 L306.5,284.3 L307,284.29 L307.5,284.27 L308,284.26 L308.5,284.24 L309,284.23 L309.5,284.21 L310,284.2 L310.5,284.18 L311,284.17 L311.5,284.15 L312,284.13 L312.5,284.11 L313,284.09 L313.5,284.08 L314,284.06 L314.5,284.04 L315,284.02 L315.5,284 L316,283.97 L316.5,283.95 L317,283.93 L317.5,283.91 L318,283.88 L318.5,283.86 L319,283.84 L319.5,283.81 L320,283.79 L320.5,283.76 L321,283.73 L321.5,283.71 L322,283.68 L322.5,283.65 L323,283.62 L323.5,283.59 L324,283.56 L324.5,283.53 L325,283.49 L325.5,283.46 L326,283.43 L326.5,283.39 L327,283.36 L327.5,283.32 L328,283.28 L328.5,283.24 L329,283.2 L329.5,283.16 L330,283.12 L330.5,283.08 L331,283.03 L331.5,282.98 L332,282.94 L332.5,282.89 L333,282.84 L333.5,282.79 L334,282.73 L334.5,282.68 L335,282.62 L335.5,282.56 L336,282.5 L336.5,282.44 L337,282.37 L337.5,282.31 L338,282.24 L338.5,282.17 L339,282.1 L339.5,282.02 L340,281.95 L340.5,281.87 L341,281.79 L341.5,281.7 L342,281.62 L342.5,281.53 L343,281.44 L343.5,281.34 L344,281.25 L344.5,281.15 L345,281.05 L345.5,280.95 L346,280.84 L346.5,280.74 L347,280.63 L347.5,280.51 L348,280.4 L348.5,280.28 L349,280.16 L349.5,280.04 L350,279.92 L350.5,279.79 L351,279.66 L351.5,279.53 L352,279.4 L352.5,279.26 L353,279.12 L353.5,278.98 L354,278.84 L354.5,278.69 L355,278.54 L355.5,278.39 L356,278.24 L356.5,278.08 L357,277.93 L357.5,277.76 L358,277.6 L358.5,277.43 L359,277.26 L359.5,277.09 L360,276.91 L360.5,276.73 L361,276.55 L361.5,276.36 L362,276.17 L362.5,275.97 L363,275.77 L363.5,275.57 L364,275.36 L364.5,275.15 L365,274.93 L365.5,274.71 L366,274.49 L366.5,274.26 L367,274.02 L367.5,273.78 L368,273.54 L368.5,273.29 L369,273.03 L369.5,272.77 L370,272.51 L370.5,272.24 L371,271.96 L371.5,271.69 L372,271.4 L372.5,271.12 L373,270.83 L373.5,270.54 L374,270.24 L374.5,269.94 L375,269.64 L375.5,269.33 L376,269.02 L376.5,268.71 L377,268.39 L377.5,268.08 L378,267.76 L378.5,267.43 L379,267.11 L379.5,266.78 L380,266.45 L380.5,266.11 L381,265.78 L381.5,265.44 L382,265.09 L382.5,264.75 L383,264.4 L383.5,264.05 L384,263.69 L384.5,263.34 L385,262.98 L385.5,262.62 L386,262.26 L386.5,261.9 L387,261.54 L387.5,261.18 L388,260.82 L388.5,260.46 L389,260.11 L389.5,259.75 L390,259.41 L390.5,259.06 L391,258.72 L391.5,258.38 L392,258.04 L392.5,257.7 L393,257.36 L393.5,257.03 L394,256.69 L394.5,256.34 L395,255.99 L395.5,255.64 L396,255.28 L396.5,254.91 L397,254.53 L397.5,254.14 L398,253.74 L398.5,253.33 L399,252.92 L399.5,252.49 L400,252.06 L400.5,251.63 L401,251.2 L401.5,250.77 L402,250.34 L402.5,249.93 L403,249.54 L403.5,249.17 L404,248.82 L404.5,248.51 L405,248.24 L405.5,248 L406,247.82 L406.5,247.69 L407,247.62 L407.5,247.61 L408,247.67 L408.5,247.8 L409,248 L409.5,248.27 L410,248.62 L410.5,249.04 L411,249.54 L411.5,250.1 L412,250.74 L412.5,251.45 L413,252.22 L413.5,253.05 L414,253.94 L414.5,254.88 L415,255.86 L415.5,256.88 L416,257.94 L416.5,259.03 L417,260.13 L417.5,261.25 L418,262.38 L418.5,263.51 L419,264.64 L419.5,265.76 L420,266.87 L420.5,267.96 L421,269.02 L421.5,270.06 L422,271.06 L422.5,272.03 L423,272.96 L423.5,273.86 L424,274.71 L424.5,275.52 L425,276.29 L425.5,277.02 L426,277.7 L426.5,278.33 L427,278.93 L427.5,279.48 L428,279.99 L428.5,280.47 L429,280.9 L429.5,281.3 L430,281.66 L430.5,281.99 L431,282.29 L431.5,282.57 L432,282.81 L432.5,283.03 L433,283.23 L433.5,283.4 L434,283.56 L434.5,283.7 L435,283.82 L435.5,283.93 L436,284.02 L436.5,284.1 L437,284.17 L437.5,284.24 L438,284.29 L438.5,284.34 L439,284.38 L439.5,284.41 L440,284.44 L440.5,284.47 L441,284.49 L441.5,284.51 L442,284.52 L442.5,284.54 L443,284.55 L443.5,284.56 L444,284.56 L444.5,284.57 L445,284.58 L445.5,284.58 L446,284.58 L446.5,284.59 L447,284.59 L447.5,284.59 L448,284.59 L448.5,284.59 L449,284.6 L449.5,284.6 L450,284.6 L450.5,284.6 L451,284.6 L451.5,284.6 L452,284.6 L452.5,284.6 L453,284.6 L453.5,284.6 L454,284.6 L454.5,284.6 L455,284.6 L455.5,284.6 L456,284.6 L456.5,284.6 L457,284.6 L457.5,284.6 L458,284.6 L458.5,284.6 L459,284.6 L459.5,284.6 L460,284.6 L460.5,284.6 L461,284.6 L461.5,284.6 L462,284.6 L462.5,284.6 L463,284.6 L463.5,284.6 L464,284.6 L464.5,284.6 L465,284.6 L465.5,284.6 L466,284.6 L466.5,284.6 L467,284.6 L467.5,284.6 L468,284.6 L468.5,284.6 L469,284.6 L469.5,284.6 L470,284.6 L470.5,284.6 L471,284.6 L471.5,284.6 L472,284.6 L472.5,284.6 L473,284.6 L473.5,284.6 L474,284.6 L474.5,284.6 L475,284.6 L475.5,284.6 L476,284.6 L476.5,284.6 L477,284.6 L477.5,284.6" stroke="#3ccfc0" stroke-width="1.3" fill="none" /><line x1="296" y1="330.4" x2="477.5" y2="330.4" stroke="#c8a8a0" stroke-width="0.6" /><path d="M296,330.4 L296.5,330.4 L297,330.4 L297.5,330.4 L298,330.4 L298.5,330.4 L299,330.4 L299.5,330.4 L300,330.4 L300.5,330.4 L301,330.4 L301.5,330.4 L302,330.4 L302.5,330.4 L303,330.4 L303.5,330.4 L304,330.4 L304.5,330.4 L305,330.4 L305.5,330.4 L306,330.4 L306.5,330.4 L307,330.4 L307.5,330.4 L308,330.4 L308.5,330.4 L309,330.4 L309.5,330.4 L310,330.4 L310.5,330.4 L311,330.4 L311.5,330.4 L312,330.4 L312.5,330.4 L313,330.4 L313.5,330.4 L314,330.4 L314.5,330.4 L315,330.4 L315.5,330.4 L316,330.4 L316.5,330.4 L317,330.4 L317.5,330.4 L318,330.4 L318.5,330.4 L319,330.4 L319.5,330.4 L320,330.4 L320.5,330.4 L321,330.4 L321.5,330.4 L322,330.4 L322.5,330.4 L323,330.4 L323.5,330.4 L324,330.4 L324.5,330.4 L325,330.4 L325.5,330.4 L326,330.4 L326.5,330.4 L327,330.4 L327.5,330.4 L328,330.4 L328.5,330.4 L329,330.4 L329.5,330.4 L330,330.4 L330.5,330.4 L331,330.4 L331.5,330.4 L332,330.4 L332.5,330.4 L333,330.4 L333.5,330.4 L334,330.4 L334.5,330.4 L335,330.4 L335.5,330.4 L336,330.4 L336.5,330.4 L337,330.4 L337.5,330.4 L338,330.4 L338.5,330.4 L339,330.4 L339.5,330.4 L340,330.4 L340.5,330.4 L341,330.4 L341.5,330.4 L342,330.4 L342.5,330.4 L343,330.4 L343.5,330.4 L344,330.4 L344.5,330.4 L345,330.4 L345.5,330.4 L346,330.4 L346.5,330.4 L347,330.4 L347.5,330.4 L348,330.4 L348.5,330.4 L349,330.4 L349.5,330.4 L350,330.4 L350.5,330.4 L351,330.4 L351.5,330.4 L352,330.4 L352.5,330.4 L353,330.4 L353.5,330.4 L354,330.4 L354.5,330.4 L355,330.4 L355.5,330.4 L356,330.4 L356.5,330.4 L357,330.4 L357.5,330.4 L358,330.4 L358.5,330.4 L359,330.4 L359.5,330.4 L360,330.4 L360.5,330.4 L361,330.4 L361.5,330.4 L362,330.4 L362.5,330.4 L363,330.4 L363.5,330.4 L364,330.4 L364.5,330.4 L365,330.4 L365.5,330.4 L366,330.4 L366.5,330.4 L367,330.4 L367.5,330.4 L368,330.4 L368.5,330.4 L369,330.4 L369.5,330.4 L370,330.4 L370.5,330.4 L371,330.4 L371.5,330.4 L372,330.39 L372.5,330.39 L373,330.39 L373.5,330.39 L374,330.39 L374.5,330.38 L375,330.38 L375.5,330.38 L376,330.37 L376.5,330.37 L377,330.36 L377.5,330.35 L378,330.34 L378.5,330.33 L379,330.31 L379.5,330.3 L380,330.27 L380.5,330.25 L381,330.22 L381.5,330.19 L382,330.15 L382.5,330.11 L383,330.06 L383.5,330 L384,329.94 L384.5,329.86 L385,329.78 L385.5,329.68 L386,329.57 L386.5,329.45 L387,329.31 L387.5,329.16 L388,328.99 L388.5,328.8 L389,328.58 L389.5,328.35 L390,328.09 L390.5,327.81 L391,327.5 L391.5,327.17 L392,326.8 L392.5,326.41 L393,325.99 L393.5,325.53 L394,325.05 L394.5,324.53 L395,323.98 L395.5,323.4 L396,322.79 L396.5,322.16 L397,321.49 L397.5,320.8 L398,320.08 L398.5,319.34 L399,318.58 L399.5,317.81 L400,317.03 L400.5,316.24 L401,315.44 L401.5,314.65 L402,313.86 L402.5,313.08 L403,312.32 L403.5,311.58 L404,310.86 L404.5,310.18 L405,309.53 L405.5,308.93 L406,308.37 L406.5,307.86 L407,307.4 L407.5,307.01 L408,306.67 L408.5,306.4 L409,306.2 L409.5,306.07 L410,306.01 L410.5,306.01 L411,306.09 L411.5,306.24 L412,306.45 L412.5,306.73 L413,307.08 L413.5,307.49 L414,307.95 L414.5,308.47 L415,309.04 L415.5,309.66 L416,310.31 L416.5,311 L417,311.72 L417.5,312.47 L418,313.24 L418.5,314.02 L419,314.81 L419.5,315.6 L420,316.4 L420.5,317.19 L421,317.97 L421.5,318.74 L422,319.49 L422.5,320.22 L423,320.94 L423.5,321.62 L424,322.29 L424.5,322.92 L425,323.52 L425.5,324.1 L426,324.64 L426.5,325.15 L427,325.63 L427.5,326.08 L428,326.49 L428.5,326.88 L429,327.24 L429.5,327.57 L430,327.87 L430.5,328.15 L431,328.4 L431.5,328.63 L432,328.84 L432.5,329.02 L433,329.19 L433.5,329.34 L434,329.48 L434.5,329.6 L435,329.7 L435.5,329.8 L436,329.88 L436.5,329.95 L437,330.02 L437.5,330.07 L438,330.12 L438.5,330.16 L439,330.2 L439.5,330.23 L440,330.26 L440.5,330.28 L441,330.3 L441.5,330.32 L442,330.33 L442.5,330.34 L443,330.35 L443.5,330.36 L444,330.37 L444.5,330.37 L445,330.38 L445.5,330.38 L446,330.39 L446.5,330.39 L447,330.39 L447.5,330.39 L448,330.39 L448.5,330.39 L449,330.4 L449.5,330.4 L450,330.4 L450.5,330.4 L451,330.4 L451.5,330.4 L452,330.4 L452.5,330.4 L453,330.4 L453.5,330.4 L454,330.4 L454.5,330.4 L455,330.4 L455.5,330.4 L456,330.4 L456.5,330.4 L457,330.4 L457.5,330.4 L458,330.4 L458.5,330.4 L459,330.4 L459.5,330.4 L460,330.4 L460.5,330.4 L461,330.4 L461.5,330.4 L462,330.4 L462.5,330.4 L463,330.4 L463.5,330.4 L464,330.4 L464.5,330.4 L465,330.4 L465.5,330.4 L466,330.4 L466.5,330.4 L467,330.4 L467.5,330.4 L468,330.4 L468.5,330.4 L469,330.4 L469.5,330.4 L470,330.4 L470.5,330.4 L471,330.4 L471.5,330.4 L472,330.4 L472.5,330.4 L473,330.4 L473.5,330.4 L474,330.4 L474.5,330.4 L475,330.4 L475.5,330.4 L476,330.4 L476.5,330.4 L477,330.4 L477.5,330.4 L477.5,330.4 L296,330.4 Z" stroke="none" stroke-width="1" fill="url(#g_lat)" /><path d="M296,330.4 L296.5,330.4 L297,330.4 L297.5,330.4 L298,330.4 L298.5,330.4 L299,330.4 L299.5,330.4 L300,330.4 L300.5,330.4 L301,330.4 L301.5,330.4 L302,330.4 L302.5,330.4 L303,330.4 L303.5,330.4 L304,330.4 L304.5,330.4 L305,330.4 L305.5,330.4 L306,330.4 L306.5,330.4 L307,330.4 L307.5,330.4 L308,330.4 L308.5,330.4 L309,330.4 L309.5,330.4 L310,330.4 L310.5,330.4 L311,330.4 L311.5,330.4 L312,330.4 L312.5,330.4 L313,330.4 L313.5,330.4 L314,330.4 L314.5,330.4 L315,330.4 L315.5,330.4 L316,330.4 L316.5,330.4 L317,330.4 L317.5,330.4 L318,330.4 L318.5,330.4 L319,330.4 L319.5,330.4 L320,330.4 L320.5,330.4 L321,330.4 L321.5,330.4 L322,330.4 L322.5,330.4 L323,330.4 L323.5,330.4 L324,330.4 L324.5,330.4 L325,330.4 L325.5,330.4 L326,330.4 L326.5,330.4 L327,330.4 L327.5,330.4 L328,330.4 L328.5,330.4 L329,330.4 L329.5,330.4 L330,330.4 L330.5,330.4 L331,330.4 L331.5,330.4 L332,330.4 L332.5,330.4 L333,330.4 L333.5,330.4 L334,330.4 L334.5,330.4 L335,330.4 L335.5,330.4 L336,330.4 L336.5,330.4 L337,330.4 L337.5,330.4 L338,330.4 L338.5,330.4 L339,330.4 L339.5,330.4 L340,330.4 L340.5,330.4 L341,330.4 L341.5,330.4 L342,330.4 L342.5,330.4 L343,330.4 L343.5,330.4 L344,330.4 L344.5,330.4 L345,330.4 L345.5,330.4 L346,330.4 L346.5,330.4 L347,330.4 L347.5,330.4 L348,330.4 L348.5,330.4 L349,330.4 L349.5,330.4 L350,330.4 L350.5,330.4 L351,330.4 L351.5,330.4 L352,330.4 L352.5,330.4 L353,330.4 L353.5,330.4 L354,330.4 L354.5,330.4 L355,330.4 L355.5,330.4 L356,330.4 L356.5,330.4 L357,330.4 L357.5,330.4 L358,330.4 L358.5,330.4 L359,330.4 L359.5,330.4 L360,330.4 L360.5,330.4 L361,330.4 L361.5,330.4 L362,330.4 L362.5,330.4 L363,330.4 L363.5,330.4 L364,330.4 L364.5,330.4 L365,330.4 L365.5,330.4 L366,330.4 L366.5,330.4 L367,330.4 L367.5,330.4 L368,330.4 L368.5,330.4 L369,330.4 L369.5,330.4 L370,330.4 L370.5,330.4 L371,330.4 L371.5,330.4 L372,330.39 L372.5,330.39 L373,330.39 L373.5,330.39 L374,330.39 L374.5,330.38 L375,330.38 L375.5,330.38 L376,330.37 L376.5,330.37 L377,330.36 L377.5,330.35 L378,330.34 L378.5,330.33 L379,330.31 L379.5,330.3 L380,330.27 L380.5,330.25 L381,330.22 L381.5,330.19 L382,330.15 L382.5,330.11 L383,330.06 L383.5,330 L384,329.94 L384.5,329.86 L385,329.78 L385.5,329.68 L386,329.57 L386.5,329.45 L387,329.31 L387.5,329.16 L388,328.99 L388.5,328.8 L389,328.58 L389.5,328.35 L390,328.09 L390.5,327.81 L391,327.5 L391.5,327.17 L392,326.8 L392.5,326.41 L393,325.99 L393.5,325.53 L394,325.05 L394.5,324.53 L395,323.98 L395.5,323.4 L396,322.79 L396.5,322.16 L397,321.49 L397.5,320.8 L398,320.08 L398.5,319.34 L399,318.58 L399.5,317.81 L400,317.03 L400.5,316.24 L401,315.44 L401.5,314.65 L402,313.86 L402.5,313.08 L403,312.32 L403.5,311.58 L404,310.86 L404.5,310.18 L405,309.53 L405.5,308.93 L406,308.37 L406.5,307.86 L407,307.4 L407.5,307.01 L408,306.67 L408.5,306.4 L409,306.2 L409.5,306.07 L410,306.01 L410.5,306.01 L411,306.09 L411.5,306.24 L412,306.45 L412.5,306.73 L413,307.08 L413.5,307.49 L414,307.95 L414.5,308.47 L415,309.04 L415.5,309.66 L416,310.31 L416.5,311 L417,311.72 L417.5,312.47 L418,313.24 L418.5,314.02 L419,314.81 L419.5,315.6 L420,316.4 L420.5,317.19 L421,317.97 L421.5,318.74 L422,319.49 L422.5,320.22 L423,320.94 L423.5,321.62 L424,322.29 L424.5,322.92 L425,323.52 L425.5,324.1 L426,324.64 L426.5,325.15 L427,325.63 L427.5,326.08 L428,326.49 L428.5,326.88 L429,327.24 L429.5,327.57 L430,327.87 L430.5,328.15 L431,328.4 L431.5,328.63 L432,328.84 L432.5,329.02 L433,329.19 L433.5,329.34 L434,329.48 L434.5,329.6 L435,329.7 L435.5,329.8 L436,329.88 L436.5,329.95 L437,330.02 L437.5,330.07 L438,330.12 L438.5,330.16 L439,330.2 L439.5,330.23 L440,330.26 L440.5,330.28 L441,330.3 L441.5,330.32 L442,330.33 L442.5,330.34 L443,330.35 L443.5,330.36 L444,330.37 L444.5,330.37 L445,330.38 L445.5,330.38 L446,330.39 L446.5,330.39 L447,330.39 L447.5,330.39 L448,330.39 L448.5,330.39 L449,330.4 L449.5,330.4 L450,330.4 L450.5,330.4 L451,330.4 L451.5,330.4 L452,330.4 L452.5,330.4 L453,330.4 L453.5,330.4 L454,330.4 L454.5,330.4 L455,330.4 L455.5,330.4 L456,330.4 L456.5,330.4 L457,330.4 L457.5,330.4 L458,330.4 L458.5,330.4 L459,330.4 L459.5,330.4 L460,330.4 L460.5,330.4 L461,330.4 L461.5,330.4 L462,330.4 L462.5,330.4 L463,330.4 L463.5,330.4 L464,330.4 L464.5,330.4 L465,330.4 L465.5,330.4 L466,330.4 L466.5,330.4 L467,330.4 L467.5,330.4 L468,330.4 L468.5,330.4 L469,330.4 L469.5,330.4 L470,330.4 L470.5,330.4 L471,330.4 L471.5,330.4 L472,330.4 L472.5,330.4 L473,330.4 L473.5,330.4 L474,330.4 L474.5,330.4 L475,330.4 L475.5,330.4 L476,330.4 L476.5,330.4 L477,330.4 L477.5,330.4" stroke="#7078c4" stroke-width="0.7" fill="none" /><path d="M296,330.4 L296.5,330.4 L297,330.4 L297.5,330.4 L298,330.4 L298.5,330.4 L299,330.4 L299.5,330.4 L300,330.4 L300.5,330.4 L301,330.4 L301.5,330.4 L302,330.4 L302.5,330.4 L303,330.4 L303.5,330.4 L304,330.4 L304.5,330.4 L305,330.4 L305.5,330.4 L306,330.4 L306.5,330.4 L307,330.4 L307.5,330.4 L308,330.4 L308.5,330.4 L309,330.4 L309.5,330.4 L310,330.4 L310.5,330.4 L311,330.4 L311.5,330.4 L312,330.4 L312.5,330.4 L313,330.4 L313.5,330.4 L314,330.4 L314.5,330.4 L315,330.4 L315.5,330.4 L316,330.4 L316.5,330.4 L317,330.4 L317.5,330.4 L318,330.4 L318.5,330.4 L319,330.4 L319.5,330.4 L320,330.4 L320.5,330.4 L321,330.4 L321.5,330.4 L322,330.4 L322.5,330.4 L323,330.4 L323.5,330.4 L324,330.4 L324.5,330.4 L325,330.4 L325.5,330.4 L326,330.4 L326.5,330.4 L327,330.4 L327.5,330.4 L328,330.4 L328.5,330.4 L329,330.4 L329.5,330.4 L330,330.4 L330.5,330.4 L331,330.4 L331.5,330.4 L332,330.4 L332.5,330.4 L333,330.4 L333.5,330.4 L334,330.4 L334.5,330.4 L335,330.4 L335.5,330.4 L336,330.4 L336.5,330.4 L337,330.4 L337.5,330.4 L338,330.4 L338.5,330.4 L339,330.39 L339.5,330.39 L340,330.39 L340.5,330.39 L341,330.39 L341.5,330.39 L342,330.39 L342.5,330.39 L343,330.38 L343.5,330.38 L344,330.38 L344.5,330.38 L345,330.37 L345.5,330.37 L346,330.36 L346.5,330.36 L347,330.35 L347.5,330.35 L348,330.34 L348.5,330.33 L349,330.32 L349.5,330.31 L350,330.3 L350.5,330.29 L351,330.28 L351.5,330.26 L352,330.25 L352.5,330.23 L353,330.21 L353.5,330.19 L354,330.16 L354.5,330.14 L355,330.11 L355.5,330.07 L356,330.04 L356.5,330 L357,329.96 L357.5,329.91 L358,329.87 L358.5,329.81 L359,329.75 L359.5,329.69 L360,329.62 L360.5,329.55 L361,329.47 L361.5,329.39 L362,329.3 L362.5,329.2 L363,329.1 L363.5,328.99 L364,328.87 L364.5,328.74 L365,328.61 L365.5,328.47 L366,328.32 L366.5,328.16 L367,327.99 L367.5,327.81 L368,327.63 L368.5,327.43 L369,327.23 L369.5,327.02 L370,326.79 L370.5,326.56 L371,326.32 L371.5,326.07 L372,325.81 L372.5,325.54 L373,325.26 L373.5,324.97 L374,324.68 L374.5,324.38 L375,324.07 L375.5,323.75 L376,323.43 L376.5,323.1 L377,322.77 L377.5,322.43 L378,322.09 L378.5,321.75 L379,321.41 L379.5,321.06 L380,320.71 L380.5,320.37 L381,320.03 L381.5,319.69 L382,319.35 L382.5,319.02 L383,318.69 L383.5,318.38 L384,318.07 L384.5,317.77 L385,317.48 L385.5,317.2 L386,316.94 L386.5,316.69 L387,316.45 L387.5,316.23 L388,316.02 L388.5,315.83 L389,315.66 L389.5,315.51 L390,315.38 L390.5,315.26 L391,315.17 L391.5,315.09 L392,315.04 L392.5,315.01 L393,315 L393.5,315.01 L394,315.04 L394.5,315.09 L395,315.17 L395.5,315.26 L396,315.38 L396.5,315.51 L397,315.66 L397.5,315.83 L398,316.02 L398.5,316.23 L399,316.45 L399.5,316.69 L400,316.94 L400.5,317.2 L401,317.48 L401.5,317.77 L402,318.07 L402.5,318.38 L403,318.69 L403.5,319.02 L404,319.35 L404.5,319.69 L405,320.03 L405.5,320.37 L406,320.71 L406.5,321.06 L407,321.41 L407.5,321.75 L408,322.09 L408.5,322.43 L409,322.77 L409.5,323.1 L410,323.43 L410.5,323.75 L411,324.07 L411.5,324.38 L412,324.68 L412.5,324.97 L413,325.26 L413.5,325.54 L414,325.81 L414.5,326.07 L415,326.32 L415.5,326.56 L416,326.79 L416.5,327.02 L417,327.23 L417.5,327.43 L418,327.63 L418.5,327.81 L419,327.99 L419.5,328.16 L420,328.32 L420.5,328.47 L421,328.61 L421.5,328.74 L422,328.87 L422.5,328.99 L423,329.1 L423.5,329.2 L424,329.3 L424.5,329.39 L425,329.47 L425.5,329.55 L426,329.62 L426.5,329.69 L427,329.75 L427.5,329.81 L428,329.87 L428.5,329.91 L429,329.96 L429.5,330 L430,330.04 L430.5,330.07 L431,330.11 L431.5,330.14 L432,330.16 L432.5,330.19 L433,330.21 L433.5,330.23 L434,330.25 L434.5,330.26 L435,330.28 L435.5,330.29 L436,330.3 L436.5,330.31 L437,330.32 L437.5,330.33 L438,330.34 L438.5,330.35 L439,330.35 L439.5,330.36 L440,330.36 L440.5,330.37 L441,330.37 L441.5,330.38 L442,330.38 L442.5,330.38 L443,330.38 L443.5,330.39 L444,330.39 L444.5,330.39 L445,330.39 L445.5,330.39 L446,330.39 L446.5,330.39 L447,330.39 L447.5,330.4 L448,330.4 L448.5,330.4 L449,330.4 L449.5,330.4 L450,330.4 L450.5,330.4 L451,330.4 L451.5,330.4 L452,330.4 L452.5,330.4 L453,330.4 L453.5,330.4 L454,330.4 L454.5,330.4 L455,330.4 L455.5,330.4 L456,330.4 L456.5,330.4 L457,330.4 L457.5,330.4 L458,330.4 L458.5,330.4 L459,330.4 L459.5,330.4 L460,330.4 L460.5,330.4 L461,330.4 L461.5,330.4 L462,330.4 L462.5,330.4 L463,330.4 L463.5,330.4 L464,330.4 L464.5,330.4 L465,330.4 L465.5,330.4 L466,330.4 L466.5,330.4 L467,330.4 L467.5,330.4 L468,330.4 L468.5,330.4 L469,330.4 L469.5,330.4 L470,330.4 L470.5,330.4 L471,330.4 L471.5,330.4 L472,330.4 L472.5,330.4 L473,330.4 L473.5,330.4 L474,330.4 L474.5,330.4 L475,330.4 L475.5,330.4 L476,330.4 L476.5,330.4 L477,330.4 L477.5,330.4 L477.5,330.4 L296,330.4 Z" stroke="none" stroke-width="1" fill="url(#g_ov)" /><path d="M296,330.4 L296.5,330.4 L297,330.4 L297.5,330.4 L298,330.4 L298.5,330.4 L299,330.4 L299.5,330.4 L300,330.4 L300.5,330.4 L301,330.4 L301.5,330.4 L302,330.4 L302.5,330.4 L303,330.4 L303.5,330.4 L304,330.4 L304.5,330.4 L305,330.4 L305.5,330.4 L306,330.4 L306.5,330.4 L307,330.4 L307.5,330.4 L308,330.4 L308.5,330.4 L309,330.4 L309.5,330.4 L310,330.4 L310.5,330.4 L311,330.4 L311.5,330.4 L312,330.4 L312.5,330.4 L313,330.4 L313.5,330.4 L314,330.4 L314.5,330.4 L315,330.4 L315.5,330.4 L316,330.4 L316.5,330.4 L317,330.4 L317.5,330.4 L318,330.4 L318.5,330.4 L319,330.4 L319.5,330.4 L320,330.4 L320.5,330.4 L321,330.4 L321.5,330.4 L322,330.4 L322.5,330.4 L323,330.4 L323.5,330.4 L324,330.4 L324.5,330.4 L325,330.4 L325.5,330.4 L326,330.4 L326.5,330.4 L327,330.4 L327.5,330.4 L328,330.4 L328.5,330.4 L329,330.4 L329.5,330.4 L330,330.4 L330.5,330.4 L331,330.4 L331.5,330.4 L332,330.4 L332.5,330.4 L333,330.4 L333.5,330.4 L334,330.4 L334.5,330.4 L335,330.4 L335.5,330.4 L336,330.4 L336.5,330.4 L337,330.4 L337.5,330.4 L338,330.4 L338.5,330.4 L339,330.39 L339.5,330.39 L340,330.39 L340.5,330.39 L341,330.39 L341.5,330.39 L342,330.39 L342.5,330.39 L343,330.38 L343.5,330.38 L344,330.38 L344.5,330.38 L345,330.37 L345.5,330.37 L346,330.36 L346.5,330.36 L347,330.35 L347.5,330.35 L348,330.34 L348.5,330.33 L349,330.32 L349.5,330.31 L350,330.3 L350.5,330.29 L351,330.28 L351.5,330.26 L352,330.25 L352.5,330.23 L353,330.21 L353.5,330.19 L354,330.16 L354.5,330.14 L355,330.11 L355.5,330.07 L356,330.04 L356.5,330 L357,329.96 L357.5,329.91 L358,329.87 L358.5,329.81 L359,329.75 L359.5,329.69 L360,329.62 L360.5,329.55 L361,329.47 L361.5,329.39 L362,329.3 L362.5,329.2 L363,329.1 L363.5,328.99 L364,328.87 L364.5,328.74 L365,328.61 L365.5,328.47 L366,328.32 L366.5,328.16 L367,327.99 L367.5,327.81 L368,327.63 L368.5,327.43 L369,327.23 L369.5,327.02 L370,326.79 L370.5,326.56 L371,326.32 L371.5,326.07 L372,325.81 L372.5,325.54 L373,325.26 L373.5,324.97 L374,324.68 L374.5,324.38 L375,324.07 L375.5,323.75 L376,323.43 L376.5,323.1 L377,322.77 L377.5,322.43 L378,322.09 L378.5,321.75 L379,321.41 L379.5,321.06 L380,320.71 L380.5,320.37 L381,320.03 L381.5,319.69 L382,319.35 L382.5,319.02 L383,318.69 L383.5,318.38 L384,318.07 L384.5,317.77 L385,317.48 L385.5,317.2 L386,316.94 L386.5,316.69 L387,316.45 L387.5,316.23 L388,316.02 L388.5,315.83 L389,315.66 L389.5,315.51 L390,315.38 L390.5,315.26 L391,315.17 L391.5,315.09 L392,315.04 L392.5,315.01 L393,315 L393.5,315.01 L394,315.04 L394.5,315.09 L395,315.17 L395.5,315.26 L396,315.38 L396.5,315.51 L397,315.66 L397.5,315.83 L398,316.02 L398.5,316.23 L399,316.45 L399.5,316.69 L400,316.94 L400.5,317.2 L401,317.48 L401.5,317.77 L402,318.07 L402.5,318.38 L403,318.69 L403.5,319.02 L404,319.35 L404.5,319.69 L405,320.03 L405.5,320.37 L406,320.71 L406.5,321.06 L407,321.41 L407.5,321.75 L408,322.09 L408.5,322.43 L409,322.77 L409.5,323.1 L410,323.43 L410.5,323.75 L411,324.07 L411.5,324.38 L412,324.68 L412.5,324.97 L413,325.26 L413.5,325.54 L414,325.81 L414.5,326.07 L415,326.32 L415.5,326.56 L416,326.79 L416.5,327.02 L417,327.23 L417.5,327.43 L418,327.63 L418.5,327.81 L419,327.99 L419.5,328.16 L420,328.32 L420.5,328.47 L421,328.61 L421.5,328.74 L422,328.87 L422.5,328.99 L423,329.1 L423.5,329.2 L424,329.3 L424.5,329.39 L425,329.47 L425.5,329.55 L426,329.62 L426.5,329.69 L427,329.75 L427.5,329.81 L428,329.87 L428.5,329.91 L429,329.96 L429.5,330 L430,330.04 L430.5,330.07 L431,330.11 L431.5,330.14 L432,330.16 L432.5,330.19 L433,330.21 L433.5,330.23 L434,330.25 L434.5,330.26 L435,330.28 L435.5,330.29 L436,330.3 L436.5,330.31 L437,330.32 L437.5,330.33 L438,330.34 L438.5,330.35 L439,330.35 L439.5,330.36 L440,330.36 L440.5,330.37 L441,330.37 L441.5,330.38 L442,330.38 L442.5,330.38 L443,330.38 L443.5,330.39 L444,330.39 L444.5,330.39 L445,330.39 L445.5,330.39 L446,330.39 L446.5,330.39 L447,330.39 L447.5,330.4 L448,330.4 L448.5,330.4 L449,330.4 L449.5,330.4 L450,330.4 L450.5,330.4 L451,330.4 L451.5,330.4 L452,330.4 L452.5,330.4 L453,330.4 L453.5,330.4 L454,330.4 L454.5,330.4 L455,330.4 L455.5,330.4 L456,330.4 L456.5,330.4 L457,330.4 L457.5,330.4 L458,330.4 L458.5,330.4 L459,330.4 L459.5,330.4 L460,330.4 L460.5,330.4 L461,330.4 L461.5,330.4 L462,330.4 L462.5,330.4 L463,330.4 L463.5,330.4 L464,330.4 L464.5,330.4 L465,330.4 L465.5,330.4 L466,330.4 L466.5,330.4 L467,330.4 L467.5,330.4 L468,330.4 L468.5,330.4 L469,330.4 L469.5,330.4 L470,330.4 L470.5,330.4 L471,330.4 L471.5,330.4 L472,330.4 L472.5,330.4 L473,330.4 L473.5,330.4 L474,330.4 L474.5,330.4 L475,330.4 L475.5,330.4 L476,330.4 L476.5,330.4 L477,330.4 L477.5,330.4" stroke="#3cb860" stroke-width="0.7" fill="none" /><path d="M296,330.4 L296.5,330.4 L297,330.4 L297.5,330.4 L298,330.4 L298.5,330.4 L299,330.4 L299.5,330.4 L300,330.4 L300.5,330.4 L301,330.4 L301.5,330.4 L302,330.4 L302.5,330.4 L303,330.4 L303.5,330.4 L304,330.4 L304.5,330.4 L305,330.4 L305.5,330.4 L306,330.4 L306.5,330.4 L307,330.4 L307.5,330.4 L308,330.4 L308.5,330.39 L309,330.39 L309.5,330.39 L310,330.39 L310.5,330.39 L311,330.39 L311.5,330.39 L312,330.39 L312.5,330.39 L313,330.39 L313.5,330.39 L314,330.38 L314.5,330.38 L315,330.38 L315.5,330.38 L316,330.38 L316.5,330.37 L317,330.37 L317.5,330.37 L318,330.36 L318.5,330.36 L319,330.36 L319.5,330.35 L320,330.35 L320.5,330.34 L321,330.33 L321.5,330.33 L322,330.32 L322.5,330.31 L323,330.31 L323.5,330.3 L324,330.29 L324.5,330.28 L325,330.27 L325.5,330.26 L326,330.24 L326.5,330.23 L327,330.22 L327.5,330.2 L328,330.18 L328.5,330.17 L329,330.15 L329.5,330.13 L330,330.11 L330.5,330.08 L331,330.06 L331.5,330.03 L332,330 L332.5,329.97 L333,329.94 L333.5,329.91 L334,329.87 L334.5,329.84 L335,329.8 L335.5,329.75 L336,329.71 L336.5,329.66 L337,329.61 L337.5,329.56 L338,329.51 L338.5,329.45 L339,329.39 L339.5,329.33 L340,329.26 L340.5,329.19 L341,329.12 L341.5,329.05 L342,328.97 L342.5,328.89 L343,328.81 L343.5,328.72 L344,328.63 L344.5,328.54 L345,328.44 L345.5,328.34 L346,328.24 L346.5,328.13 L347,328.02 L347.5,327.91 L348,327.79 L348.5,327.67 L349,327.55 L349.5,327.43 L350,327.3 L350.5,327.17 L351,327.04 L351.5,326.9 L352,326.76 L352.5,326.62 L353,326.48 L353.5,326.34 L354,326.2 L354.5,326.05 L355,325.9 L355.5,325.75 L356,325.6 L356.5,325.45 L357,325.31 L357.5,325.16 L358,325.01 L358.5,324.86 L359,324.71 L359.5,324.56 L360,324.42 L360.5,324.27 L361,324.13 L361.5,323.99 L362,323.85 L362.5,323.72 L363,323.59 L363.5,323.46 L364,323.33 L364.5,323.21 L365,323.1 L365.5,322.99 L366,322.88 L366.5,322.78 L367,322.68 L367.5,322.59 L368,322.51 L368.5,322.43 L369,322.36 L369.5,322.29 L370,322.23 L370.5,322.18 L371,322.13 L371.5,322.09 L372,322.06 L372.5,322.03 L373,322.01 L373.5,322 L374,322 L374.5,322 L375,322.01 L375.5,322.03 L376,322.06 L376.5,322.09 L377,322.13 L377.5,322.18 L378,322.23 L378.5,322.29 L379,322.36 L379.5,322.43 L380,322.51 L380.5,322.59 L381,322.68 L381.5,322.78 L382,322.88 L382.5,322.99 L383,323.1 L383.5,323.21 L384,323.33 L384.5,323.46 L385,323.59 L385.5,323.72 L386,323.85 L386.5,323.99 L387,324.13 L387.5,324.27 L388,324.42 L388.5,324.56 L389,324.71 L389.5,324.86 L390,325.01 L390.5,325.16 L391,325.31 L391.5,325.45 L392,325.6 L392.5,325.75 L393,325.9 L393.5,326.05 L394,326.2 L394.5,326.34 L395,326.48 L395.5,326.62 L396,326.76 L396.5,326.9 L397,327.04 L397.5,327.17 L398,327.3 L398.5,327.43 L399,327.55 L399.5,327.67 L400,327.79 L400.5,327.91 L401,328.02 L401.5,328.13 L402,328.24 L402.5,328.34 L403,328.44 L403.5,328.54 L404,328.63 L404.5,328.72 L405,328.81 L405.5,328.89 L406,328.97 L406.5,329.05 L407,329.12 L407.5,329.19 L408,329.26 L408.5,329.33 L409,329.39 L409.5,329.45 L410,329.51 L410.5,329.56 L411,329.61 L411.5,329.66 L412,329.71 L412.5,329.75 L413,329.8 L413.5,329.84 L414,329.87 L414.5,329.91 L415,329.94 L415.5,329.97 L416,330 L416.5,330.03 L417,330.06 L417.5,330.08 L418,330.11 L418.5,330.13 L419,330.15 L419.5,330.17 L420,330.18 L420.5,330.2 L421,330.22 L421.5,330.23 L422,330.24 L422.5,330.26 L423,330.27 L423.5,330.28 L424,330.29 L424.5,330.3 L425,330.31 L425.5,330.31 L426,330.32 L426.5,330.33 L427,330.33 L427.5,330.34 L428,330.35 L428.5,330.35 L429,330.36 L429.5,330.36 L430,330.36 L430.5,330.37 L431,330.37 L431.5,330.37 L432,330.38 L432.5,330.38 L433,330.38 L433.5,330.38 L434,330.38 L434.5,330.39 L435,330.39 L435.5,330.39 L436,330.39 L436.5,330.39 L437,330.39 L437.5,330.39 L438,330.39 L438.5,330.39 L439,330.39 L439.5,330.39 L440,330.4 L440.5,330.4 L441,330.4 L441.5,330.4 L442,330.4 L442.5,330.4 L443,330.4 L443.5,330.4 L444,330.4 L444.5,330.4 L445,330.4 L445.5,330.4 L446,330.4 L446.5,330.4 L447,330.4 L447.5,330.4 L448,330.4 L448.5,330.4 L449,330.4 L449.5,330.4 L450,330.4 L450.5,330.4 L451,330.4 L451.5,330.4 L452,330.4 L452.5,330.4 L453,330.4 L453.5,330.4 L454,330.4 L454.5,330.4 L455,330.4 L455.5,330.4 L456,330.4 L456.5,330.4 L457,330.4 L457.5,330.4 L458,330.4 L458.5,330.4 L459,330.4 L459.5,330.4 L460,330.4 L460.5,330.4 L461,330.4 L461.5,330.4 L462,330.4 L462.5,330.4 L463,330.4 L463.5,330.4 L464,330.4 L464.5,330.4 L465,330.4 L465.5,330.4 L466,330.4 L466.5,330.4 L467,330.4 L467.5,330.4 L468,330.4 L468.5,330.4 L469,330.4 L469.5,330.4 L470,330.4 L470.5,330.4 L471,330.4 L471.5,330.4 L472,330.4 L472.5,330.4 L473,330.4 L473.5,330.4 L474,330.4 L474.5,330.4 L475,330.4 L475.5,330.4 L476,330.4 L476.5,330.4 L477,330.4 L477.5,330.4 L477.5,330.4 L296,330.4 Z" stroke="none" stroke-width="1" fill="url(#g_oh)" /><path d="M296,330.4 L296.5,330.4 L297,330.4 L297.5,330.4 L298,330.4 L298.5,330.4 L299,330.4 L299.5,330.4 L300,330.4 L300.5,330.4 L301,330.4 L301.5,330.4 L302,330.4 L302.5,330.4 L303,330.4 L303.5,330.4 L304,330.4 L304.5,330.4 L305,330.4 L305.5,330.4 L306,330.4 L306.5,330.4 L307,330.4 L307.5,330.4 L308,330.4 L308.5,330.39 L309,330.39 L309.5,330.39 L310,330.39 L310.5,330.39 L311,330.39 L311.5,330.39 L312,330.39 L312.5,330.39 L313,330.39 L313.5,330.39 L314,330.38 L314.5,330.38 L315,330.38 L315.5,330.38 L316,330.38 L316.5,330.37 L317,330.37 L317.5,330.37 L318,330.36 L318.5,330.36 L319,330.36 L319.5,330.35 L320,330.35 L320.5,330.34 L321,330.33 L321.5,330.33 L322,330.32 L322.5,330.31 L323,330.31 L323.5,330.3 L324,330.29 L324.5,330.28 L325,330.27 L325.5,330.26 L326,330.24 L326.5,330.23 L327,330.22 L327.5,330.2 L328,330.18 L328.5,330.17 L329,330.15 L329.5,330.13 L330,330.11 L330.5,330.08 L331,330.06 L331.5,330.03 L332,330 L332.5,329.97 L333,329.94 L333.5,329.91 L334,329.87 L334.5,329.84 L335,329.8 L335.5,329.75 L336,329.71 L336.5,329.66 L337,329.61 L337.5,329.56 L338,329.51 L338.5,329.45 L339,329.39 L339.5,329.33 L340,329.26 L340.5,329.19 L341,329.12 L341.5,329.05 L342,328.97 L342.5,328.89 L343,328.81 L343.5,328.72 L344,328.63 L344.5,328.54 L345,328.44 L345.5,328.34 L346,328.24 L346.5,328.13 L347,328.02 L347.5,327.91 L348,327.79 L348.5,327.67 L349,327.55 L349.5,327.43 L350,327.3 L350.5,327.17 L351,327.04 L351.5,326.9 L352,326.76 L352.5,326.62 L353,326.48 L353.5,326.34 L354,326.2 L354.5,326.05 L355,325.9 L355.5,325.75 L356,325.6 L356.5,325.45 L357,325.31 L357.5,325.16 L358,325.01 L358.5,324.86 L359,324.71 L359.5,324.56 L360,324.42 L360.5,324.27 L361,324.13 L361.5,323.99 L362,323.85 L362.5,323.72 L363,323.59 L363.5,323.46 L364,323.33 L364.5,323.21 L365,323.1 L365.5,322.99 L366,322.88 L366.5,322.78 L367,322.68 L367.5,322.59 L368,322.51 L368.5,322.43 L369,322.36 L369.5,322.29 L370,322.23 L370.5,322.18 L371,322.13 L371.5,322.09 L372,322.06 L372.5,322.03 L373,322.01 L373.5,322 L374,322 L374.5,322 L375,322.01 L375.5,322.03 L376,322.06 L376.5,322.09 L377,322.13 L377.5,322.18 L378,322.23 L378.5,322.29 L379,322.36 L379.5,322.43 L380,322.51 L380.5,322.59 L381,322.68 L381.5,322.78 L382,322.88 L382.5,322.99 L383,323.1 L383.5,323.21 L384,323.33 L384.5,323.46 L385,323.59 L385.5,323.72 L386,323.85 L386.5,323.99 L387,324.13 L387.5,324.27 L388,324.42 L388.5,324.56 L389,324.71 L389.5,324.86 L390,325.01 L390.5,325.16 L391,325.31 L391.5,325.45 L392,325.6 L392.5,325.75 L393,325.9 L393.5,326.05 L394,326.2 L394.5,326.34 L395,326.48 L395.5,326.62 L396,326.76 L396.5,326.9 L397,327.04 L397.5,327.17 L398,327.3 L398.5,327.43 L399,327.55 L399.5,327.67 L400,327.79 L400.5,327.91 L401,328.02 L401.5,328.13 L402,328.24 L402.5,328.34 L403,328.44 L403.5,328.54 L404,328.63 L404.5,328.72 L405,328.81 L405.5,328.89 L406,328.97 L406.5,329.05 L407,329.12 L407.5,329.19 L408,329.26 L408.5,329.33 L409,329.39 L409.5,329.45 L410,329.51 L410.5,329.56 L411,329.61 L411.5,329.66 L412,329.71 L412.5,329.75 L413,329.8 L413.5,329.84 L414,329.87 L414.5,329.91 L415,329.94 L415.5,329.97 L416,330 L416.5,330.03 L417,330.06 L417.5,330.08 L418,330.11 L418.5,330.13 L419,330.15 L419.5,330.17 L420,330.18 L420.5,330.2 L421,330.22 L421.5,330.23 L422,330.24 L422.5,330.26 L423,330.27 L423.5,330.28 L424,330.29 L424.5,330.3 L425,330.31 L425.5,330.31 L426,330.32 L426.5,330.33 L427,330.33 L427.5,330.34 L428,330.35 L428.5,330.35 L429,330.36 L429.5,330.36 L430,330.36 L430.5,330.37 L431,330.37 L431.5,330.37 L432,330.38 L432.5,330.38 L433,330.38 L433.5,330.38 L434,330.38 L434.5,330.39 L435,330.39 L435.5,330.39 L436,330.39 L436.5,330.39 L437,330.39 L437.5,330.39 L438,330.39 L438.5,330.39 L439,330.39 L439.5,330.39 L440,330.4 L440.5,330.4 L441,330.4 L441.5,330.4 L442,330.4 L442.5,330.4 L443,330.4 L443.5,330.4 L444,330.4 L444.5,330.4 L445,330.4 L445.5,330.4 L446,330.4 L446.5,330.4 L447,330.4 L447.5,330.4 L448,330.4 L448.5,330.4 L449,330.4 L449.5,330.4 L450,330.4 L450.5,330.4 L451,330.4 L451.5,330.4 L452,330.4 L452.5,330.4 L453,330.4 L453.5,330.4 L454,330.4 L454.5,330.4 L455,330.4 L455.5,330.4 L456,330.4 L456.5,330.4 L457,330.4 L457.5,330.4 L458,330.4 L458.5,330.4 L459,330.4 L459.5,330.4 L460,330.4 L460.5,330.4 L461,330.4 L461.5,330.4 L462,330.4 L462.5,330.4 L463,330.4 L463.5,330.4 L464,330.4 L464.5,330.4 L465,330.4 L465.5,330.4 L466,330.4 L466.5,330.4 L467,330.4 L467.5,330.4 L468,330.4 L468.5,330.4 L469,330.4 L469.5,330.4 L470,330.4 L470.5,330.4 L471,330.4 L471.5,330.4 L472,330.4 L472.5,330.4 L473,330.4 L473.5,330.4 L474,330.4 L474.5,330.4 L475,330.4 L475.5,330.4 L476,330.4 L476.5,330.4 L477,330.4 L477.5,330.4" stroke="#f08080" stroke-width="0.7" fill="none" /><path d="M296,330.31 L296.5,330.31 L297,330.3 L297.5,330.3 L298,330.29 L298.5,330.29 L299,330.28 L299.5,330.27 L300,330.27 L300.5,330.26 L301,330.25 L301.5,330.24 L302,330.24 L302.5,330.23 L303,330.22 L303.5,330.21 L304,330.2 L304.5,330.19 L305,330.18 L305.5,330.17 L306,330.16 L306.5,330.15 L307,330.14 L307.5,330.12 L308,330.11 L308.5,330.1 L309,330.09 L309.5,330.07 L310,330.06 L310.5,330.05 L311,330.03 L311.5,330.02 L312,330 L312.5,329.98 L313,329.97 L313.5,329.95 L314,329.93 L314.5,329.92 L315,329.9 L315.5,329.88 L316,329.86 L316.5,329.84 L317,329.82 L317.5,329.8 L318,329.78 L318.5,329.76 L319,329.74 L319.5,329.71 L320,329.69 L320.5,329.67 L321,329.64 L321.5,329.62 L322,329.59 L322.5,329.57 L323,329.54 L323.5,329.52 L324,329.49 L324.5,329.46 L325,329.43 L325.5,329.4 L326,329.37 L326.5,329.34 L327,329.31 L327.5,329.28 L328,329.24 L328.5,329.21 L329,329.18 L329.5,329.14 L330,329.1 L330.5,329.06 L331,329.03 L331.5,328.98 L332,328.94 L332.5,328.9 L333,328.86 L333.5,328.81 L334,328.76 L334.5,328.72 L335,328.67 L335.5,328.61 L336,328.56 L336.5,328.5 L337,328.45 L337.5,328.39 L338,328.33 L338.5,328.26 L339,328.2 L339.5,328.13 L340,328.06 L340.5,327.99 L341,327.92 L341.5,327.84 L342,327.76 L342.5,327.68 L343,327.59 L343.5,327.5 L344,327.41 L344.5,327.32 L345,327.23 L345.5,327.13 L346,327.02 L346.5,326.92 L347,326.81 L347.5,326.7 L348,326.59 L348.5,326.47 L349,326.35 L349.5,326.22 L350,326.09 L350.5,325.96 L351,325.83 L351.5,325.69 L352,325.55 L352.5,325.41 L353,325.26 L353.5,325.11 L354,324.96 L354.5,324.8 L355,324.64 L355.5,324.47 L356,324.31 L356.5,324.13 L357,323.96 L357.5,323.78 L358,323.6 L358.5,323.41 L359,323.23 L359.5,323.03 L360,322.84 L360.5,322.64 L361,322.44 L361.5,322.23 L362,322.02 L362.5,321.81 L363,321.59 L363.5,321.37 L364,321.15 L364.5,320.92 L365,320.69 L365.5,320.45 L366,320.21 L366.5,319.97 L367,319.72 L367.5,319.47 L368,319.22 L368.5,318.96 L369,318.7 L369.5,318.43 L370,318.16 L370.5,317.89 L371,317.61 L371.5,317.34 L372,317.05 L372.5,316.77 L373,316.48 L373.5,316.19 L374,315.9 L374.5,315.61 L375,315.31 L375.5,315.01 L376,314.72 L376.5,314.42 L377,314.11 L377.5,313.81 L378,313.51 L378.5,313.21 L379,312.9 L379.5,312.6 L380,312.3 L380.5,311.99 L381,311.69 L381.5,311.39 L382,311.08 L382.5,310.78 L383,310.48 L383.5,310.17 L384,309.87 L384.5,309.56 L385,309.25 L385.5,308.95 L386,308.63 L386.5,308.32 L387,308 L387.5,307.67 L388,307.35 L388.5,307.01 L389,306.67 L389.5,306.32 L390,305.96 L390.5,305.6 L391,305.22 L391.5,304.84 L392,304.44 L392.5,304.03 L393,303.62 L393.5,303.19 L394,302.75 L394.5,302.3 L395,301.84 L395.5,301.38 L396,300.9 L396.5,300.42 L397,299.93 L397.5,299.44 L398,298.95 L398.5,298.46 L399,297.98 L399.5,297.5 L400,297.04 L400.5,296.59 L401,296.15 L401.5,295.74 L402,295.35 L402.5,294.99 L403,294.67 L403.5,294.38 L404,294.13 L404.5,293.93 L405,293.77 L405.5,293.67 L406,293.62 L406.5,293.63 L407,293.7 L407.5,293.83 L408,294.02 L408.5,294.28 L409,294.6 L409.5,294.99 L410,295.45 L410.5,295.96 L411,296.54 L411.5,297.18 L412,297.88 L412.5,298.63 L413,299.44 L413.5,300.29 L414,301.19 L414.5,302.12 L415,303.09 L415.5,304.09 L416,305.11 L416.5,306.16 L417,307.21 L417.5,308.28 L418,309.34 L418.5,310.41 L419,311.47 L419.5,312.52 L420,313.55 L420.5,314.57 L421,315.56 L421.5,316.53 L422,317.46 L422.5,318.37 L423,319.24 L423.5,320.07 L424,320.87 L424.5,321.63 L425,322.35 L425.5,323.03 L426,323.67 L426.5,324.27 L427,324.83 L427.5,325.36 L428,325.84 L428.5,326.29 L429,326.71 L429.5,327.09 L430,327.44 L430.5,327.76 L431,328.05 L431.5,328.32 L432,328.56 L432.5,328.77 L433,328.97 L433.5,329.14 L434,329.3 L434.5,329.44 L435,329.56 L435.5,329.67 L436,329.77 L436.5,329.85 L437,329.93 L437.5,329.99 L438,330.05 L438.5,330.1 L439,330.15 L439.5,330.18 L440,330.22 L440.5,330.24 L441,330.27 L441.5,330.29 L442,330.31 L442.5,330.32 L443,330.33 L443.5,330.34 L444,330.35 L444.5,330.36 L445,330.37 L445.5,330.37 L446,330.38 L446.5,330.38 L447,330.38 L447.5,330.39 L448,330.39 L448.5,330.39 L449,330.39 L449.5,330.39 L450,330.39 L450.5,330.4 L451,330.4 L451.5,330.4 L452,330.4 L452.5,330.4 L453,330.4 L453.5,330.4 L454,330.4 L454.5,330.4 L455,330.4 L455.5,330.4 L456,330.4 L456.5,330.4 L457,330.4 L457.5,330.4 L458,330.4 L458.5,330.4 L459,330.4 L459.5,330.4 L460,330.4 L460.5,330.4 L461,330.4 L461.5,330.4 L462,330.4 L462.5,330.4 L463,330.4 L463.5,330.4 L464,330.4 L464.5,330.4 L465,330.4 L465.5,330.4 L466,330.4 L466.5,330.4 L467,330.4 L467.5,330.4 L468,330.4 L468.5,330.4 L469,330.4 L469.5,330.4 L470,330.4 L470.5,330.4 L471,330.4 L471.5,330.4 L472,330.4 L472.5,330.4 L473,330.4 L473.5,330.4 L474,330.4 L474.5,330.4 L475,330.4 L475.5,330.4 L476,330.4 L476.5,330.4 L477,330.4 L477.5,330.4" stroke="#3ccfc0" stroke-width="1.3" fill="none" /><text x="404.6" y="244.6" font-size="9.8" fill="#5c62b4" font-weight="bold">O<tspan font-size="6.3" dy="2.2">lattice</tspan></text><text x="378.5" y="260.8" font-size="9.8" fill="#2fa84e" font-weight="bold">O<tspan font-size="6.8" dy="2.2">v</tspan></text><text x="352.6" y="271" font-size="9.8" fill="#f07a7a">O<tspan font-size="6.8" dy="2.2">OH</tspan></text><text x="412.6" y="298.5" font-size="9.8" fill="#5c62b4" font-weight="bold">O<tspan font-size="5.6" dy="2.2">lattice</tspan></text><text x="385" y="314" font-size="9.8" fill="#2fa84e" font-weight="bold">O<tspan font-size="6.8" dy="2.2">v</tspan></text><text x="353.6" y="318.6" font-size="9.8" fill="#f07a7a">O<tspan font-size="6.8" dy="2.2">OH</tspan></text><text x="438" y="281" font-size="10.8" fill="#000" >NG-300</text><text x="448" y="328.4" font-size="10.8" fill="#000" >NG</text><path d="M19,537.5 V390.5 H176.5 V537.5" fill="none" stroke="#959595" stroke-width="1.4"/><line x1="18.4" y1="537.5" x2="177.1" y2="537.5" stroke="#333" stroke-width="1" /><line x1="19" y1="537.5" x2="19" y2="540" stroke="#333" stroke-width="1" /><line x1="58.38" y1="537.5" x2="58.38" y2="540" stroke="#333" stroke-width="1" /><line x1="97.75" y1="537.5" x2="97.75" y2="540" stroke="#333" stroke-width="1" /><line x1="137.12" y1="537.5" x2="137.12" y2="540" stroke="#333" stroke-width="1" /><line x1="176.5" y1="537.5" x2="176.5" y2="540" stroke="#333" stroke-width="1" /><line x1="38.69" y1="537.5" x2="38.69" y2="539" stroke="#333" stroke-width="1" /><line x1="78.06" y1="537.5" x2="78.06" y2="539" stroke="#333" stroke-width="1" /><line x1="117.44" y1="537.5" x2="117.44" y2="539" stroke="#333" stroke-width="1" /><line x1="156.81" y1="537.5" x2="156.81" y2="539" stroke="#333" stroke-width="1" /><text x="19" y="551" font-size="10.6" text-anchor="middle" fill="#000" >870</text><text x="58.38" y="551" font-size="10.6" text-anchor="middle" fill="#000" >865</text><text x="97.75" y="551" font-size="10.6" text-anchor="middle" fill="#000" >860</text><text x="137.12" y="551" font-size="10.6" text-anchor="middle" fill="#000" >855</text><text x="176.5" y="551" font-size="10.6" text-anchor="middle" fill="#000" >850</text><text x="97.7" y="565.8" font-size="12.4" text-anchor="middle" fill="#000" >Binding Energy (eV)</text><text transform="translate(11.8,462.8) rotate(-90)" font-size="12.5" text-anchor="middle" fill="#000">Intensity (a.u.)</text><text x="22.4" y="402.6" font-size="10.8" fill="#000" >Ni 2<tspan font-style="italic">p</tspan></text><text x="21.6" y="460" font-size="10.8" fill="#000" >NG-300</text><text x="22.4" y="516.2" font-size="10.8" fill="#000" >NG</text><path d="M19,468.6 L60,469.7 L112.6,471 L147.6,473.7 L176.4,474.6" stroke="#b4b4b4" stroke-width="1" fill="none" /><path d="M39.5,468.9 L40,468.88 L40.5,468.86 L41,468.83 L41.5,468.81 L42,468.77 L42.5,468.74 L43,468.7 L43.5,468.65 L44,468.61 L44.5,468.55 L45,468.5 L45.5,468.43 L46,468.37 L46.5,468.3 L47,468.22 L47.5,468.14 L48,468.05 L48.5,467.96 L49,467.86 L49.5,467.76 L50,467.65 L50.5,467.54 L51,467.42 L51.5,467.3 L52,467.17 L52.5,467.04 L53,466.91 L53.5,466.77 L54,466.63 L54.5,466.48 L55,466.34 L55.5,466.18 L56,466.02 L56.5,465.86 L57,465.7 L57.5,465.53 L58,465.36 L58.5,465.18 L59,464.99 L59.5,464.8 L60,464.61 L60.5,464.41 L61,464.2 L61.5,463.98 L62,463.75 L62.5,463.52 L63,463.27 L63.5,463.01 L64,462.75 L64.5,462.47 L65,462.17 L65.5,461.87 L66,461.54 L66.5,461.21 L67,460.86 L67.5,460.5 L68,460.12 L68.5,459.73 L69,459.33 L69.5,458.91 L70,458.49 L70.5,458.05 L71,457.6 L71.5,457.15 L72,456.7 L72.5,456.24 L73,455.78 L73.5,455.33 L74,454.88 L74.5,454.45 L75,454.02 L75.5,453.61 L76,453.22 L76.5,452.85 L77,452.51 L77.5,452.2 L78,451.92 L78.5,451.67 L79,451.46 L79.5,451.29 L80,451.16 L80.5,451.07 L81,451.03 L81.5,451.03 L82,451.09 L82.5,451.18 L83,451.33 L83.5,451.52 L84,451.76 L84.5,452.04 L85,452.36 L85.5,452.73 L86,453.13 L86.5,453.57 L87,454.04 L87.5,454.54 L88,455.06 L88.5,455.61 L89,456.18 L89.5,456.76 L90,457.36 L90.5,457.97 L91,458.58 L91.5,459.19 L92,459.8 L92.5,460.41 L93,461.01 L93.5,461.6 L94,462.18 L94.5,462.74 L95,463.29 L95.5,463.82 L96,464.33 L96.5,464.82 L97,465.28 L97.5,465.73 L98,466.15 L98.5,466.55 L99,466.93 L99.5,467.28 L100,467.61 L100.5,467.92 L101,468.21 L101.5,468.47 L102,468.72 L102.5,468.95 L103,469.15 L103.5,469.35 L104,469.52 L104.5,469.68 L105,469.82 L105.5,469.96 L106,470.08 L106.5,470.18 L107,470.28 L107.5,470.37 L108,470.45 L108.5,470.52 L109,470.58 L109.5,470.64" stroke="#8c8ce0" stroke-width="0.8" fill="none" /><path d="M87,470.12 L87.5,470.09 L88,470.07 L88.5,470.04 L89,470 L89.5,469.97 L90,469.92 L90.5,469.87 L91,469.81 L91.5,469.75 L92,469.68 L92.5,469.6 L93,469.52 L93.5,469.42 L94,469.32 L94.5,469.21 L95,469.08 L95.5,468.95 L96,468.81 L96.5,468.65 L97,468.49 L97.5,468.31 L98,468.13 L98.5,467.93 L99,467.72 L99.5,467.49 L100,467.26 L100.5,467.01 L101,466.76 L101.5,466.49 L102,466.21 L102.5,465.92 L103,465.63 L103.5,465.32 L104,465.01 L104.5,464.69 L105,464.36 L105.5,464.03 L106,463.69 L106.5,463.36 L107,463.02 L107.5,462.68 L108,462.35 L108.5,462.02 L109,461.69 L109.5,461.37 L110,461.06 L110.5,460.76 L111,460.47 L111.5,460.19 L112,459.93 L112.5,459.69 L113,459.48 L113.5,459.3 L114,459.14 L114.5,459.01 L115,458.89 L115.5,458.8 L116,458.73 L116.5,458.69 L117,458.67 L117.5,458.68 L118,458.72 L118.5,458.78 L119,458.87 L119.5,458.98 L120,459.12 L120.5,459.29 L121,459.47 L121.5,459.69 L122,459.92 L122.5,460.17 L123,460.44 L123.5,460.74 L124,461.04 L124.5,461.37 L125,461.71 L125.5,462.05 L126,462.41 L126.5,462.78 L127,463.16 L127.5,463.54 L128,463.93 L128.5,464.31 L129,464.7 L129.5,465.09 L130,465.48 L130.5,465.86 L131,466.24 L131.5,466.61 L132,466.98 L132.5,467.34 L133,467.69 L133.5,468.03 L134,468.36 L134.5,468.68 L135,468.99 L135.5,469.29 L136,469.57 L136.5,469.85 L137,470.11 L137.5,470.37 L138,470.61 L138.5,470.84 L139,471.05 L139.5,471.26 L140,471.46 L140.5,471.64 L141,471.82 L141.5,471.98 L142,472.14 L142.5,472.29 L143,472.42 L143.5,472.55 L144,472.68 L144.5,472.79 L145,472.9 L145.5,473 L146,473.1 L146.5,473.19 L147,473.28 L147.5,473.36 L148,473.42 L148.5,473.47" stroke="#ff8040" stroke-width="1" fill="none" /><path d="M113.5,470.8 L114,470.75 L114.5,470.69 L115,470.59 L115.5,470.46 L116,470.29 L116.5,470.07 L117,469.79 L117.5,469.45 L118,469.03 L118.5,468.53 L119,467.94 L119.5,467.24 L120,466.42 L120.5,465.49 L121,464.43 L121.5,463.23 L122,461.9 L122.5,460.44 L123,458.84 L123.5,457.13 L124,455.3 L124.5,453.38 L125,451.39 L125.5,449.35 L126,447.3 L126.5,445.26 L127,443.26 L127.5,441.35 L128,439.56 L128.5,437.92 L129,436.48 L129.5,435.26 L130,434.28 L130.5,433.58 L131,433.17 L131.5,433.06 L132,433.25 L132.5,433.74 L133,434.51 L133.5,435.56 L134,436.86 L134.5,438.39 L135,440.1 L135.5,441.97 L136,443.95 L136.5,446.03 L137,448.15 L137.5,450.28 L138,452.39 L138.5,454.46 L139,456.46 L139.5,458.36 L140,460.15 L140.5,461.82 L141,463.37 L141.5,464.77 L142,466.05 L142.5,467.19 L143,468.2 L143.5,469.09 L144,469.86 L144.5,470.54 L145,471.11 L145.5,471.61 L146,472.03 L146.5,472.38 L147,472.68 L147.5,472.93 L148,473.12 L148.5,473.27 L149,473.39 L149.5,473.49" stroke="#7a6ee0" stroke-width="0.9" fill="none" /><path d="M19,468.6 C20.83,468.42 25.67,468.02 30,467.5 C34.33,466.98 40,466.37 45,465.5 C50,464.63 55.75,463.72 60,462.3 C64.25,460.88 67.83,458.47 70.5,457 C73.17,455.53 74.1,454.45 76,453.5 C77.9,452.55 80.07,451.42 81.9,451.3 C83.73,451.18 85.1,451.7 87,452.8 C88.9,453.9 91.47,456.53 93.3,457.9 C95.13,459.27 96.55,460.27 98,461 C99.45,461.73 100.67,462.08 102,462.3 C103.33,462.52 104.53,462.53 106,462.3 C107.47,462.07 109.3,461.48 110.8,460.9 C112.3,460.32 113.53,459.73 115,458.8 C116.47,457.87 118.27,456.93 119.6,455.3 C120.93,453.67 121.83,451.92 123,449 C124.17,446.08 125.6,440.8 126.6,437.8 C127.6,434.8 128.27,432.52 129,431 C129.73,429.48 130.37,428.98 131,428.7 C131.63,428.42 132.22,428.82 132.8,429.3 C133.38,429.78 133.88,430.15 134.5,431.6 C135.12,433.05 135.78,435.22 136.5,438 C137.22,440.78 137.97,444.97 138.8,448.3 C139.63,451.63 140.62,455.08 141.5,458 C142.38,460.92 143.18,463.72 144.1,465.8 C145.02,467.88 146.13,469.33 147,470.5 C147.87,471.67 148.3,472.22 149.3,472.8 C150.3,473.38 151.53,473.7 153,474 C154.47,474.3 154.2,474.45 158.1,474.6 C162,474.75 173.35,474.85 176.4,474.9" stroke="#3fd0c0" stroke-width="1.6" fill="none" /><path d="M19,521.9 L88,524.9 L134.8,528 L176.4,530.3" stroke="#b4b4b4" stroke-width="1" fill="none" /><path d="M39.5,522.54 L40,522.53 L40.5,522.51 L41,522.5 L41.5,522.48 L42,522.46 L42.5,522.43 L43,522.4 L43.5,522.36 L44,522.32 L44.5,522.28 L45,522.23 L45.5,522.18 L46,522.12 L46.5,522.05 L47,521.98 L47.5,521.91 L48,521.83 L48.5,521.75 L49,521.66 L49.5,521.57 L50,521.47 L50.5,521.37 L51,521.26 L51.5,521.15 L52,521.03 L52.5,520.91 L53,520.79 L53.5,520.66 L54,520.53 L54.5,520.4 L55,520.26 L55.5,520.12 L56,519.98 L56.5,519.84 L57,519.69 L57.5,519.54 L58,519.38 L58.5,519.23 L59,519.07 L59.5,518.9 L60,518.74 L60.5,518.56 L61,518.39 L61.5,518.2 L62,518.01 L62.5,517.81 L63,517.61 L63.5,517.39 L64,517.17 L64.5,516.94 L65,516.69 L65.5,516.43 L66,516.16 L66.5,515.88 L67,515.58 L67.5,515.27 L68,514.94 L68.5,514.6 L69,514.24 L69.5,513.87 L70,513.48 L70.5,513.08 L71,512.67 L71.5,512.24 L72,511.8 L72.5,511.35 L73,510.9 L73.5,510.44 L74,509.98 L74.5,509.51 L75,509.05 L75.5,508.59 L76,508.14 L76.5,507.7 L77,507.27 L77.5,506.85 L78,506.46 L78.5,506.09 L79,505.75 L79.5,505.43 L80,505.15 L80.5,504.9 L81,504.68 L81.5,504.51 L82,504.38 L82.5,504.29 L83,504.24 L83.5,504.24 L84,504.29 L84.5,504.38 L85,504.51 L85.5,504.7 L86,504.93 L86.5,505.2 L87,505.51 L87.5,505.87 L88,506.26 L88.5,506.7 L89,507.18 L89.5,507.69 L90,508.22 L90.5,508.78 L91,509.37 L91.5,509.97 L92,510.58 L92.5,511.21 L93,511.85 L93.5,512.49 L94,513.13 L94.5,513.78 L95,514.42 L95.5,515.05 L96,515.68 L96.5,516.29 L97,516.89 L97.5,517.48 L98,518.05 L98.5,518.6 L99,519.13 L99.5,519.64 L100,520.13 L100.5,520.6 L101,521.04 L101.5,521.47 L102,521.87 L102.5,522.25 L103,522.6 L103.5,522.94 L104,523.25 L104.5,523.55 L105,523.82 L105.5,524.08 L106,524.31 L106.5,524.53 L107,524.74 L107.5,524.93 L108,525.1 L108.5,525.26 L109,525.41 L109.5,525.55 L110,525.68 L110.5,525.79 L111,525.9 L111.5,526 L112,526.09 L112.5,526.18 L113,526.26 L113.5,526.33" stroke="#8c8ce0" stroke-width="0.8" fill="none" /><path d="M86,524.56 L86.5,524.55 L87,524.53 L87.5,524.51 L88,524.48 L88.5,524.46 L89,524.44 L89.5,524.4 L90,524.37 L90.5,524.32 L91,524.27 L91.5,524.21 L92,524.14 L92.5,524.06 L93,523.97 L93.5,523.87 L94,523.76 L94.5,523.64 L95,523.51 L95.5,523.36 L96,523.21 L96.5,523.04 L97,522.85 L97.5,522.66 L98,522.45 L98.5,522.23 L99,521.99 L99.5,521.75 L100,521.49 L100.5,521.21 L101,520.92 L101.5,520.63 L102,520.32 L102.5,520 L103,519.67 L103.5,519.33 L104,518.98 L104.5,518.63 L105,518.27 L105.5,517.9 L106,517.54 L106.5,517.17 L107,516.8 L107.5,516.44 L108,516.08 L108.5,515.73 L109,515.38 L109.5,515.05 L110,514.72 L110.5,514.41 L111,514.12 L111.5,513.84 L112,513.58 L112.5,513.34 L113,513.12 L113.5,512.93 L114,512.76 L114.5,512.62 L115,512.5 L115.5,512.41 L116,512.36 L116.5,512.33 L117,512.33 L117.5,512.36 L118,512.42 L118.5,512.51 L119,512.63 L119.5,512.77 L120,512.95 L120.5,513.15 L121,513.38 L121.5,513.64 L122,513.92 L122.5,514.22 L123,514.54 L123.5,514.88 L124,515.24 L124.5,515.61 L125,516 L125.5,516.4 L126,516.81 L126.5,517.23 L127,517.65 L127.5,518.08 L128,518.52 L128.5,518.95 L129,519.38 L129.5,519.81 L130,520.24 L130.5,520.66 L131,521.07 L131.5,521.48 L132,521.88 L132.5,522.27 L133,522.64 L133.5,523.01 L134,523.37 L134.5,523.71 L135,524.04 L135.5,524.35 L136,524.65 L136.5,524.93 L137,525.2 L137.5,525.46 L138,525.71 L138.5,525.94 L139,526.16 L139.5,526.37 L140,526.56 L140.5,526.75 L141,526.92 L141.5,527.08 L142,527.23 L142.5,527.37 L143,527.51 L143.5,527.63 L144,527.75 L144.5,527.85 L145,527.96 L145.5,528.05 L146,528.14 L146.5,528.22 L147,528.3 L147.5,528.37 L148,528.43 L148.5,528.5" stroke="#ff8040" stroke-width="1" fill="none" /><path d="M115,526.41 L115.5,526.35 L116,526.27 L116.5,526.16 L117,526.02 L117.5,525.83 L118,525.6 L118.5,525.3 L119,524.94 L119.5,524.49 L120,523.96 L120.5,523.33 L121,522.59 L121.5,521.74 L122,520.75 L122.5,519.63 L123,518.38 L123.5,516.98 L124,515.44 L124.5,513.77 L125,511.96 L125.5,510.05 L126,508.03 L126.5,505.95 L127,503.81 L127.5,501.65 L128,499.51 L128.5,497.41 L129,495.41 L129.5,493.53 L130,491.81 L130.5,490.29 L131,489.01 L131.5,487.98 L132,487.24 L132.5,486.81 L133,486.68 L133.5,486.87 L134,487.38 L134.5,488.18 L135,489.27 L135.5,490.62 L136,492.2 L136.5,493.97 L137,495.91 L137.5,497.98 L138,500.13 L138.5,502.34 L139,504.56 L139.5,506.76 L140,508.91 L140.5,510.98 L141,512.96 L141.5,514.82 L142,516.55 L142.5,518.15 L143,519.61 L143.5,520.93 L144,522.11 L144.5,523.15 L145,524.07 L145.5,524.87 L146,525.56 L146.5,526.15 L147,526.66 L147.5,527.08 L148,527.44 L148.5,527.74 L149,527.98 L149.5,528.19 L150,528.36 L150.5,528.5 L151,528.61" stroke="#7a6ee0" stroke-width="0.9" fill="none" /><path d="M19,521.9 C21.17,521.5 27.67,520.18 32,519.5 C36.33,518.82 41.5,518.27 45,517.8 C48.5,517.33 50.5,517.25 53,516.7 C55.5,516.15 57.67,515.28 60,514.5 C62.33,513.72 64.5,513.25 67,512 C69.5,510.75 72.83,508.25 75,507 C77.17,505.75 78.6,505.02 80,504.5 C81.4,503.98 82.07,503.82 83.4,503.9 C84.73,503.98 86.07,504.23 88,505 C89.93,505.77 93,507.25 95,508.5 C97,509.75 98.43,511.33 100,512.5 C101.57,513.67 102.9,515.03 104.4,515.5 C105.9,515.97 107.43,515.68 109,515.3 C110.57,514.92 112.38,514 113.8,513.2 C115.22,512.4 116.33,511.47 117.5,510.5 C118.67,509.53 119.72,508.82 120.8,507.4 C121.88,505.98 122.83,503.95 124,502 C125.17,500.05 126.72,498.03 127.8,495.7 C128.88,493.37 129.72,489.87 130.5,488 C131.28,486.13 131.92,485.07 132.5,484.5 C133.08,483.93 133.42,484.1 134,484.6 C134.58,485.1 135.37,485.93 136,487.5 C136.63,489.07 137.22,491.47 137.8,494 C138.38,496.53 138.8,499.53 139.5,502.7 C140.2,505.87 141.03,509.5 142,513 C142.97,516.5 144.3,521.28 145.3,523.7 C146.3,526.12 147.03,526.63 148,527.5 C148.97,528.37 149.1,528.52 151.1,528.9 C153.1,529.28 155.78,529.57 160,529.8 C164.22,530.03 173.67,530.22 176.4,530.3" stroke="#3fd0c0" stroke-width="1.6" fill="none" /><text x="104.6" y="452.8" font-size="9.6" fill="#f07e28">Ni<tspan font-size="6.8" dy="-3.6">3+</tspan></text><line x1="110.8" y1="454.6" x2="113.6" y2="459.2" stroke="#f07e28" stroke-width="0.8" /><text x="137" y="430.8" font-size="9.6" fill="#6a60c8">Ni<tspan font-size="6.8" dy="-3.6">2+</tspan></text><line x1="138.4" y1="432.2" x2="134.8" y2="439.2" stroke="#5048a8" stroke-width="0.9" /><rect x="207.5" y="389.5" width="159" height="148" fill="none" stroke="#555" stroke-width="1"/><line x1="207.5" y1="537.5" x2="207.5" y2="540" stroke="#333" stroke-width="1" /><line x1="239.3" y1="537.5" x2="239.3" y2="540" stroke="#333" stroke-width="1" /><line x1="271.1" y1="537.5" x2="271.1" y2="540" stroke="#333" stroke-width="1" /><line x1="302.9" y1="537.5" x2="302.9" y2="540" stroke="#333" stroke-width="1" /><line x1="334.7" y1="537.5" x2="334.7" y2="540" stroke="#333" stroke-width="1" /><line x1="366.5" y1="537.5" x2="366.5" y2="540" stroke="#333" stroke-width="1" /><line x1="223.4" y1="537.5" x2="223.4" y2="539" stroke="#333" stroke-width="1" /><line x1="255.2" y1="537.5" x2="255.2" y2="539" stroke="#333" stroke-width="1" /><line x1="287" y1="537.5" x2="287" y2="539" stroke="#333" stroke-width="1" /><line x1="318.8" y1="537.5" x2="318.8" y2="539" stroke="#333" stroke-width="1" /><line x1="350.6" y1="537.5" x2="350.6" y2="539" stroke="#333" stroke-width="1" /><text x="207.5" y="551.9" font-size="11.2" text-anchor="middle" fill="#000" >500</text><text x="239.3" y="551.9" font-size="11.2" text-anchor="middle" fill="#000" >520</text><text x="271.1" y="551.9" font-size="11.2" text-anchor="middle" fill="#000" >540</text><text x="302.9" y="551.9" font-size="11.2" text-anchor="middle" fill="#000" >560</text><text x="334.7" y="551.9" font-size="11.2" text-anchor="middle" fill="#000" >580</text><text x="366.5" y="551.9" font-size="11.2" text-anchor="middle" fill="#000" >600</text><text x="286.8" y="565.7" font-size="12.7" text-anchor="middle" fill="#000" >Electron energy loss (eV)</text><text transform="translate(198.7,455.8) rotate(-90)" font-size="12.5" text-anchor="middle" fill="#000">Intensity (a.u.)</text><path d="M207,524.2 C207.33,524.42 208.32,525.17 209,525.5 C209.68,525.83 210.25,526.25 211.1,526.2 C211.95,526.15 212.93,526.13 214.1,525.2 C215.27,524.27 216.75,521.1 218.1,520.6 C219.45,520.1 221.02,521.6 222.2,522.2 C223.38,522.8 224.23,524.23 225.2,524.2 C226.17,524.17 227.15,522.6 228,522 C228.85,521.4 229.47,520.43 230.3,520.6 C231.13,520.77 232.17,522.23 233,523 C233.83,523.77 234.47,525.03 235.3,525.2 C236.13,525.37 237.15,524.17 238,524 C238.85,523.83 239.57,524.62 240.4,524.2 C241.23,523.78 242.15,522.5 243,521.5 C243.85,520.5 244.58,519.43 245.5,518.2 C246.42,516.97 247.5,517.13 248.5,514.1 C249.5,511.07 250.48,506.07 251.5,500 C252.52,493.93 253.58,483.27 254.6,477.7 C255.62,472.13 256.43,468.78 257.6,466.6 C258.77,464.42 260.42,465.12 261.6,464.6 C262.78,464.08 263.85,462.67 264.7,463.5 C265.55,464.33 265.93,465.88 266.7,469.6 C267.47,473.32 268.47,481.42 269.3,485.8 C270.13,490.18 270.62,493.72 271.7,495.9 C272.78,498.08 274.75,498.22 275.8,498.9 C276.85,499.58 277.17,499.55 278,500 C278.83,500.45 279.48,501.95 280.8,501.6 C282.12,501.25 284.03,499.7 285.9,497.9 C287.77,496.1 290.48,492.42 292,490.8 C293.52,489.18 294,489.03 295,488.2 C296,487.37 296.83,485.67 298,485.8 C299.17,485.93 300.83,487.83 302,489 C303.17,490.17 303.83,491.55 305,492.8 C306.17,494.05 307.83,495.72 309,496.5 C310.17,497.28 311,497.58 312,497.5 C313,497.42 314,496.22 315,496 C316,495.78 316.83,495.87 318,496.2 C319.17,496.53 320.67,498.1 322,498 C323.33,497.9 324.67,495.27 326,495.6 C327.33,495.93 328.83,498.97 330,500 C331.17,501.03 332,501.6 333,501.8 C334,502 334.83,501.37 336,501.2 C337.17,501.03 338.83,500.77 340,500.8 C341.17,500.83 341.83,501.4 343,501.4 C344.17,501.4 345.83,500.97 347,500.8 C348.17,500.63 349,500.2 350,500.4 C351,500.6 352,501.8 353,502 C354,502.2 355,501.5 356,501.6 C357,501.7 358,502.33 359,502.6 C360,502.87 360.73,502.97 362,503.2 C363.27,503.43 365.83,503.87 366.6,504" stroke="#ff8c4d" stroke-width="1.3" fill="none" /><path d="M207,509 C207.5,509.08 208.98,509.25 210,509.5 C211.02,509.75 211.92,510.23 213.1,510.5 C214.28,510.77 216.03,511.22 217.1,511.1 C218.17,510.98 218.65,510.25 219.5,509.8 C220.35,509.35 221.28,508.45 222.2,508.4 C223.12,508.35 224.17,509.28 225,509.5 C225.83,509.72 226.4,509.87 227.2,509.7 C228,509.53 228.95,508.85 229.8,508.5 C230.65,508.15 231.43,507.85 232.3,507.6 C233.17,507.35 234.15,507.27 235,507 C235.85,506.73 236.5,505.77 237.4,506 C238.3,506.23 239.55,508.23 240.4,508.4 C241.25,508.57 241.83,507.57 242.5,507 C243.17,506.43 243.5,505.83 244.4,505 C245.3,504.17 246.88,505.2 247.9,502 C248.92,498.8 249.57,492.55 250.5,485.8 C251.43,479.05 252.48,468.92 253.5,461.5 C254.52,454.08 255.75,445.27 256.6,441.3 C257.45,437.33 257.77,438.88 258.6,437.7 C259.43,436.52 260.65,435.9 261.6,434.2 C262.55,432.5 263.52,428.17 264.3,427.5 C265.08,426.83 265.57,426.22 266.3,430.2 C267.03,434.18 267.8,444.5 268.7,451.4 C269.6,458.3 270.68,467.55 271.7,471.6 C272.72,475.65 273.78,474.63 274.8,475.7 C275.82,476.77 276.8,477.17 277.8,478 C278.8,478.83 279.45,480.75 280.8,480.7 C282.15,480.65 284.03,479.72 285.9,477.7 C287.77,475.68 290.48,471.47 292,468.6 C293.52,465.73 294,462.22 295,460.5 C296,458.78 297,458.13 298,458.3 C299,458.47 300,460.05 301,461.5 C302,462.95 302.83,465.08 304,467 C305.17,468.92 306.67,471.58 308,473 C309.33,474.42 310.83,475.25 312,475.5 C313.17,475.75 314,474.82 315,474.5 C316,474.18 316.83,473.1 318,473.6 C319.17,474.1 320.67,477.4 322,477.5 C323.33,477.6 324.67,473.95 326,474.2 C327.33,474.45 328.83,478.03 330,479 C331.17,479.97 332,479.67 333,480 C334,480.33 334.83,480.63 336,481 C337.17,481.37 338.83,482.28 340,482.2 C341.17,482.12 341.83,480.62 343,480.5 C344.17,480.38 345.83,481.45 347,481.5 C348.17,481.55 349,480.78 350,480.8 C351,480.82 352,481.87 353,481.6 C354,481.33 355,479.22 356,479.2 C357,479.18 358,481.17 359,481.5 C360,481.83 361.08,481.12 362,481.2 C362.92,481.28 363.73,481.7 364.5,482 C365.27,482.3 366.25,482.83 366.6,483" stroke="#3fd3c2" stroke-width="1.3" fill="none" /><line x1="210.6" y1="395.6" x2="233" y2="395.6" stroke="#3fd3c2" stroke-width="1.3" /><line x1="210.6" y1="408" x2="233" y2="408" stroke="#ff8c4d" stroke-width="1.3" /><text x="236" y="399.2" font-size="9.7" fill="#000" >NG</text><text x="236" y="411.6" font-size="9.7" fill="#000" >NG-300</text><text x="253.3" y="435.8" font-size="9.8" fill="#000" >a</text><text x="262.4" y="425.6" font-size="9.8" fill="#000" >b</text><text x="295" y="456.6" font-size="9.8" fill="#000" >c</text><rect x="395.5" y="390.5" width="159" height="148.2" fill="none" stroke="#555" stroke-width="1"/><line x1="395.5" y1="538.7" x2="395.5" y2="541.2" stroke="#333" stroke-width="1" /><line x1="427.3" y1="538.7" x2="427.3" y2="541.2" stroke="#333" stroke-width="1" /><line x1="459.1" y1="538.7" x2="459.1" y2="541.2" stroke="#333" stroke-width="1" /><line x1="490.9" y1="538.7" x2="490.9" y2="541.2" stroke="#333" stroke-width="1" /><line x1="522.7" y1="538.7" x2="522.7" y2="541.2" stroke="#333" stroke-width="1" /><line x1="554.5" y1="538.7" x2="554.5" y2="541.2" stroke="#333" stroke-width="1" /><line x1="411.4" y1="538.7" x2="411.4" y2="540.2" stroke="#333" stroke-width="1" /><line x1="443.2" y1="538.7" x2="443.2" y2="540.2" stroke="#333" stroke-width="1" /><line x1="475" y1="538.7" x2="475" y2="540.2" stroke="#333" stroke-width="1" /><line x1="506.8" y1="538.7" x2="506.8" y2="540.2" stroke="#333" stroke-width="1" /><line x1="538.6" y1="538.7" x2="538.6" y2="540.2" stroke="#333" stroke-width="1" /><text x="395.5" y="551.9" font-size="11.2" text-anchor="middle" fill="#000" >500</text><text x="427.3" y="551.9" font-size="11.2" text-anchor="middle" fill="#000" >520</text><text x="459.1" y="551.9" font-size="11.2" text-anchor="middle" fill="#000" >540</text><text x="490.9" y="551.9" font-size="11.2" text-anchor="middle" fill="#000" >560</text><text x="522.7" y="551.9" font-size="11.2" text-anchor="middle" fill="#000" >580</text><text x="554.5" y="551.9" font-size="11.2" text-anchor="middle" fill="#000" >600</text><text x="474.8" y="565.7" font-size="12.7" text-anchor="middle" fill="#000" >Electron energy loss (eV)</text><text transform="translate(386.7,455.8) rotate(-90)" font-size="12.5" text-anchor="middle" fill="#000">Intensity (a.u.)</text><path d="M395,524.2 C395.33,524.42 396.32,525.17 397,525.5 C397.68,525.83 398.25,526.25 399.1,526.2 C399.95,526.15 400.93,526.13 402.1,525.2 C403.27,524.27 404.75,521.1 406.1,520.6 C407.45,520.1 409.02,521.6 410.2,522.2 C411.38,522.8 412.23,524.23 413.2,524.2 C414.17,524.17 415.15,522.6 416,522 C416.85,521.4 417.47,520.43 418.3,520.6 C419.13,520.77 420.17,522.23 421,523 C421.83,523.77 422.47,525.03 423.3,525.2 C424.13,525.37 425.15,524.17 426,524 C426.85,523.83 427.57,524.62 428.4,524.2 C429.23,523.78 430.15,522.5 431,521.5 C431.85,520.5 432.58,519.43 433.5,518.2 C434.42,516.97 435.5,517.13 436.5,514.1 C437.5,511.07 438.48,506.07 439.5,500 C440.52,493.93 441.58,483.27 442.6,477.7 C443.62,472.13 444.43,468.78 445.6,466.6 C446.77,464.42 448.42,465.12 449.6,464.6 C450.78,464.08 451.85,462.67 452.7,463.5 C453.55,464.33 453.93,465.88 454.7,469.6 C455.47,473.32 456.47,481.42 457.3,485.8 C458.13,490.18 458.62,493.72 459.7,495.9 C460.78,498.08 462.75,498.22 463.8,498.9 C464.85,499.58 465.17,499.55 466,500 C466.83,500.45 467.48,501.95 468.8,501.6 C470.12,501.25 472.03,499.7 473.9,497.9 C475.77,496.1 478.48,492.42 480,490.8 C481.52,489.18 482,489.03 483,488.2 C484,487.37 484.83,485.67 486,485.8 C487.17,485.93 488.83,487.83 490,489 C491.17,490.17 491.83,491.55 493,492.8 C494.17,494.05 495.83,495.72 497,496.5 C498.17,497.28 499,497.58 500,497.5 C501,497.42 502,496.22 503,496 C504,495.78 504.83,495.87 506,496.2 C507.17,496.53 508.67,498.1 510,498 C511.33,497.9 512.67,495.27 514,495.6 C515.33,495.93 516.83,498.97 518,500 C519.17,501.03 520,501.6 521,501.8 C522,502 522.83,501.37 524,501.2 C525.17,501.03 526.83,500.77 528,500.8 C529.17,500.83 529.83,501.4 531,501.4 C532.17,501.4 533.83,500.97 535,500.8 C536.17,500.63 537,500.2 538,500.4 C539,500.6 540,501.8 541,502 C542,502.2 543,501.5 544,501.6 C545,501.7 546,502.33 547,502.6 C548,502.87 548.73,502.97 550,503.2 C551.27,503.43 553.83,503.87 554.6,504" stroke="#ff8c4d" stroke-width="1.3" fill="none" /><path d="M395,509 C395.5,509.08 396.98,509.25 398,509.5 C399.02,509.75 399.92,510.23 401.1,510.5 C402.28,510.77 404.03,511.22 405.1,511.1 C406.17,510.98 406.65,510.25 407.5,509.8 C408.35,509.35 409.28,508.45 410.2,508.4 C411.12,508.35 412.17,509.28 413,509.5 C413.83,509.72 414.4,509.87 415.2,509.7 C416,509.53 416.95,508.85 417.8,508.5 C418.65,508.15 419.43,507.85 420.3,507.6 C421.17,507.35 422.15,507.27 423,507 C423.85,506.73 424.5,505.77 425.4,506 C426.3,506.23 427.55,508.23 428.4,508.4 C429.25,508.57 429.83,507.57 430.5,507 C431.17,506.43 431.5,505.83 432.4,505 C433.3,504.17 434.88,505.2 435.9,502 C436.92,498.8 437.57,492.55 438.5,485.8 C439.43,479.05 440.48,468.92 441.5,461.5 C442.52,454.08 443.75,445.27 444.6,441.3 C445.45,437.33 445.77,438.88 446.6,437.7 C447.43,436.52 448.65,435.9 449.6,434.2 C450.55,432.5 451.52,428.17 452.3,427.5 C453.08,426.83 453.57,426.22 454.3,430.2 C455.03,434.18 455.8,444.5 456.7,451.4 C457.6,458.3 458.68,467.55 459.7,471.6 C460.72,475.65 461.78,474.63 462.8,475.7 C463.82,476.77 464.8,477.17 465.8,478 C466.8,478.83 467.45,480.75 468.8,480.7 C470.15,480.65 472.03,479.72 473.9,477.7 C475.77,475.68 478.48,471.47 480,468.6 C481.52,465.73 482,462.22 483,460.5 C484,458.78 485,458.13 486,458.3 C487,458.47 488,460.05 489,461.5 C490,462.95 490.83,465.08 492,467 C493.17,468.92 494.67,471.58 496,473 C497.33,474.42 498.83,475.25 500,475.5 C501.17,475.75 502,474.82 503,474.5 C504,474.18 504.83,473.1 506,473.6 C507.17,474.1 508.67,477.4 510,477.5 C511.33,477.6 512.67,473.95 514,474.2 C515.33,474.45 516.83,478.03 518,479 C519.17,479.97 520,479.67 521,480 C522,480.33 522.83,480.63 524,481 C525.17,481.37 526.83,482.28 528,482.2 C529.17,482.12 529.83,480.62 531,480.5 C532.17,480.38 533.83,481.45 535,481.5 C536.17,481.55 537,480.78 538,480.8 C539,480.82 540,481.87 541,481.6 C542,481.33 543,479.22 544,479.2 C545,479.18 546,481.17 547,481.5 C548,481.83 549.08,481.12 550,481.2 C550.92,481.28 551.73,481.7 552.5,482 C553.27,482.3 554.25,482.83 554.6,483" stroke="#3fd3c2" stroke-width="1.3" fill="none" /><line x1="398.6" y1="395.6" x2="421" y2="395.6" stroke="#3fd3c2" stroke-width="1.3" /><line x1="398.6" y1="408" x2="421" y2="408" stroke="#ff8c4d" stroke-width="1.3" /><text x="424" y="399.2" font-size="9.7" fill="#000" >NG</text><text x="424" y="411.6" font-size="9.7" fill="#000" >NG-300</text><text x="441.3" y="435.8" font-size="9.8" fill="#000" >a</text><text x="450.4" y="425.6" font-size="9.8" fill="#000" >b</text><text x="483" y="456.6" font-size="9.8" fill="#000" >c</text><defs><linearGradient id="leafg" x1="0" y1="9" x2="0" y2="154" gradientUnits="userSpaceOnUse"><stop offset="0" stop-color="#27b163"/><stop offset="0.35" stop-color="#70c292"/><stop offset="0.6" stop-color="#bfe0ce"/><stop offset="0.8" stop-color="#e4eef0"/><stop offset="1" stop-color="#f2f4f8"/></linearGradient><linearGradient id="beamg" x1="140" y1="0" x2="222" y2="0" gradientUnits="userSpaceOnUse"><stop offset="0" stop-color="#d8f6f0"/><stop offset="1" stop-color="#f3fcfa"/></linearGradient><pattern id="mesh" width="5.4" height="5.4" patternUnits="userSpaceOnUse" patternTransform="rotate(-40)"><rect width="5.4" height="5.4" fill="#55616e"/><rect x="0" y="0" width="2.1" height="2.1" fill="#f6f7f8"/><rect x="2.7" y="2.7" width="2.1" height="2.1" fill="#f6f7f8"/></pattern></defs><path d="M141,104 L184,50 L221,72 L222,114 L214,117 L142,119 Z" stroke="none" stroke-width="1" fill="url(#beamg)" /><path d="M99.3,9.3 Q98.72,15.16 98.6,18.2 L100.2,22.9 Q102.31,25.86 104.9,26.9 Q103.88,30.52 103.4,32.4 Q102.29,36.54 101.8,38.7 Q101.58,43.84 102.2,46.6 L104.5,49 Q107.81,48.81 112.5,46.3 Q115.5,46.61 120,45 Q122.37,44.02 126.3,41.3 Q126.17,45.1 127.5,47.5 Q129.84,48.79 133.8,48.8 L137.5,51.3 Q140.66,52.59 146.3,52.5 Q150.73,53.58 158.8,53 Q152.72,57.15 150,60 L147,63 L145.4,66.3 Q142.03,68.54 140.6,70.3 L138.3,74.2 L139.8,78.2 L143,79.8 L137.5,80.6 L129.6,82.2 L121.6,84.5 L119.3,90.9 L99.1,122.7 L93.6,125.9 Q92.65,129.12 92,135.4 Q92.27,139.17 92.8,146.5 Q93.11,148.91 93.6,153.6 Q91.53,148.75 89.6,146.5 Q86.49,140.87 83.3,138.5 Q80.32,135.38 77,134.6 Q74.08,132.78 70.6,133 L67.5,131.4 Q67.08,127.82 65.9,125.9 L64.3,121.9 L59.6,121.1 Q57.1,121.8 53.2,124.3 Q51.59,126.16 48.5,129.8 Q50.36,123.48 50,119.6 Q52.38,113.75 52.4,110 Q55.31,104.4 55.6,100.6 Q58.22,96.89 58.8,94.2 L57.5,90.2 Q55.37,88.78 51.1,87.8 Q48.05,85.26 41.6,83 Q39.12,80.69 33.7,78.3 Q31.51,76.04 26.6,73.5 Q33.41,72.64 36.9,71.2 L40.1,68.8 L40.9,64 Q40.48,61.98 38.5,59.3 L36.1,56.1 Q38.49,54.2 39.3,51.4 Q41.15,49.49 41.6,46.6 Q43.8,43.52 44,38.7 Q43.87,35.09 41.6,29.2 Q41.41,26.55 39.7,22.1 Q46.07,29.04 49.6,32.4 Q54.63,37.78 57.5,40.3 Q60.37,42.64 62.2,43.5 Q63.95,41.28 64.6,37.2 Q66.44,33.88 67,27.7 L68.5,23.7 Q71.13,25.28 73.3,25.3 Q77.49,26.15 81.2,24.5 Q85.22,23.92 89.1,20.5 Q92.55,19.18 96.2,15 Q97.61,13.18 99.3,9.3 Z" stroke="#4a4a4a" stroke-width="0.6" fill="url(#leafg)" /><path d="M14,113.5 C15.33,112.83 19.33,110.82 22,109.5 C24.67,108.18 26.17,107.43 30,105.6 C33.83,103.77 40.17,100.85 45,98.5 C49.83,96.15 56.67,92.67 59,91.5" stroke="#8a9c86" stroke-width="2.6" fill="none" stroke-linecap="round"/><path d="M14,113.5 C15.33,112.83 19.33,110.82 22,109.5 C24.67,108.18 26.17,107.43 30,105.6 C33.83,103.77 40.17,100.85 45,98.5 C49.83,96.15 56.67,92.67 59,91.5" stroke="#e2efd2" stroke-width="1.5" fill="none" stroke-linecap="round"/><ellipse cx="15" cy="113.3" rx="2.4" ry="1.8" fill="#e2efd2" stroke="#8a9c86" stroke-width="0.5"/><path d="M73.53,84.93 Q78.3,85.89 81.63,87.51" stroke="#4d6272" stroke-width="0.8" fill="none" stroke-linecap="round"/><path d="M73.53,84.93 Q75.96,80.71 76.94,77.14" stroke="#4d6272" stroke-width="0.8" fill="none" stroke-linecap="round"/><path d="M83.27,80.69 Q88,81.86 91.25,83.63" stroke="#4d6272" stroke-width="0.8" fill="none" stroke-linecap="round"/><path d="M83.27,80.69 Q85.89,76.58 87.02,73.06" stroke="#4d6272" stroke-width="0.8" fill="none" stroke-linecap="round"/><path d="M93.14,76.74 Q97.87,77.91 101.12,79.68" stroke="#4d6272" stroke-width="0.8" fill="none" stroke-linecap="round"/><path d="M93.14,76.74 Q95.76,72.63 96.89,69.12" stroke="#4d6272" stroke-width="0.8" fill="none" stroke-linecap="round"/><path d="M103.01,72.8 Q107.74,73.97 110.99,75.73" stroke="#4d6272" stroke-width="0.8" fill="none" stroke-linecap="round"/><path d="M103.01,72.8 Q105.63,68.69 106.76,65.17" stroke="#4d6272" stroke-width="0.8" fill="none" stroke-linecap="round"/><path d="M112.88,68.85 Q117.61,70.02 120.85,71.78" stroke="#4d6272" stroke-width="0.8" fill="none" stroke-linecap="round"/><path d="M112.88,68.85 Q115.5,64.74 116.63,61.22" stroke="#4d6272" stroke-width="0.8" fill="none" stroke-linecap="round"/><path d="M122.64,64.64 Q127.4,65.65 130.71,67.3" stroke="#4d6272" stroke-width="0.8" fill="none" stroke-linecap="round"/><path d="M122.64,64.64 Q125.11,60.44 126.13,56.89" stroke="#4d6272" stroke-width="0.8" fill="none" stroke-linecap="round"/><path d="M66.66,78.31 Q70.87,76.4 74.27,75.86" stroke="#4d6272" stroke-width="0.8" fill="none" stroke-linecap="round"/><path d="M66.66,78.31 Q66.24,73.71 65.01,70.49" stroke="#4d6272" stroke-width="0.8" fill="none" stroke-linecap="round"/><path d="M71.78,69.53 Q75.99,67.62 79.4,67.1" stroke="#4d6272" stroke-width="0.8" fill="none" stroke-linecap="round"/><path d="M71.78,69.53 Q71.37,64.93 70.15,61.7" stroke="#4d6272" stroke-width="0.8" fill="none" stroke-linecap="round"/><path d="M76.9,60.76 Q81.11,58.85 84.52,58.32" stroke="#4d6272" stroke-width="0.8" fill="none" stroke-linecap="round"/><path d="M76.9,60.76 Q76.49,56.15 75.28,52.92" stroke="#4d6272" stroke-width="0.8" fill="none" stroke-linecap="round"/><path d="M81.31,51.6 Q85.33,49.32 88.68,48.5" stroke="#4d6272" stroke-width="0.8" fill="none" stroke-linecap="round"/><path d="M81.31,51.6 Q80.49,47.05 78.99,43.94" stroke="#4d6272" stroke-width="0.8" fill="none" stroke-linecap="round"/><path d="M85.75,42.45 Q89.82,40.26 93.18,39.5" stroke="#4d6272" stroke-width="0.8" fill="none" stroke-linecap="round"/><path d="M85.75,42.45 Q85.02,37.89 83.59,34.75" stroke="#4d6272" stroke-width="0.8" fill="none" stroke-linecap="round"/><path d="M56.51,71.31 Q58.42,67.65 60.53,65.58" stroke="#4d6272" stroke-width="0.8" fill="none" stroke-linecap="round"/><path d="M56.51,71.31 Q53.77,68.23 51.23,66.72" stroke="#4d6272" stroke-width="0.8" fill="none" stroke-linecap="round"/><path d="M52.36,58.42 Q53.5,54.45 55.14,52" stroke="#4d6272" stroke-width="0.8" fill="none" stroke-linecap="round"/><path d="M52.36,58.42 Q49.06,55.95 46.26,54.99" stroke="#4d6272" stroke-width="0.8" fill="none" stroke-linecap="round"/><path d="M68.31,102.94 Q68.57,107.06 67.84,109.93" stroke="#4d6272" stroke-width="0.8" fill="none" stroke-linecap="round"/><path d="M68.31,102.94 Q72.26,104.17 75.21,104.14" stroke="#4d6272" stroke-width="0.8" fill="none" stroke-linecap="round"/><path d="M73.08,111.48 Q72.36,115.54 70.98,118.15" stroke="#4d6272" stroke-width="0.8" fill="none" stroke-linecap="round"/><path d="M73.08,111.48 Q76.62,113.6 79.5,114.27" stroke="#4d6272" stroke-width="0.8" fill="none" stroke-linecap="round"/><path d="M77.16,120.43 Q76.44,124.49 75.06,127.1" stroke="#4d6272" stroke-width="0.8" fill="none" stroke-linecap="round"/><path d="M77.16,120.43 Q80.7,122.55 83.58,123.22" stroke="#4d6272" stroke-width="0.8" fill="none" stroke-linecap="round"/><path d="M84.43,95.9 Q87.23,98.59 88.45,101.01" stroke="#4d6272" stroke-width="0.8" fill="none" stroke-linecap="round"/><path d="M84.43,95.9 Q87.97,94.31 89.93,92.44" stroke="#4d6272" stroke-width="0.8" fill="none" stroke-linecap="round"/><path d="M100.82,101.14 Q103.2,104.2 104.07,106.77" stroke="#4d6272" stroke-width="0.8" fill="none" stroke-linecap="round"/><path d="M100.82,101.14 Q104.55,100.07 106.76,98.5" stroke="#4d6272" stroke-width="0.8" fill="none" stroke-linecap="round"/><path d="M59,91.5 C62.5,89.92 73.17,84.92 80,82 C86.83,79.08 94.17,76.33 100,74 C105.83,71.67 110.42,69.92 115,68 C119.58,66.08 125.42,63.42 127.5,62.5" stroke="#8a9c86" stroke-width="1.6" fill="none" stroke-linecap="round"/><path d="M59,91.5 C62.5,89.92 73.17,84.92 80,82 C86.83,79.08 94.17,76.33 100,74 C105.83,71.67 110.42,69.92 115,68 C119.58,66.08 125.42,63.42 127.5,62.5" stroke="#e2efd2" stroke-width="0.7" fill="none" stroke-linecap="round"/><path d="M59,91.5 C60.5,88.92 64.93,81.27 68,76 C71.07,70.73 74.9,64.57 77.4,59.9 C79.9,55.23 81.23,51.67 83,48 C84.77,44.33 87.17,39.58 88,37.9" stroke="#8a9c86" stroke-width="1.6" fill="none" stroke-linecap="round"/><path d="M59,91.5 C60.5,88.92 64.93,81.27 68,76 C71.07,70.73 74.9,64.57 77.4,59.9 C79.9,55.23 81.23,51.67 83,48 C84.77,44.33 87.17,39.58 88,37.9" stroke="#e2efd2" stroke-width="0.7" fill="none" stroke-linecap="round"/><path d="M59,91.5 C58.57,87.98 57.87,76.98 56.4,70.4 C54.93,63.82 51.23,55.07 50.2,52" stroke="#8a9c86" stroke-width="1.6" fill="none" stroke-linecap="round"/><path d="M59,91.5 C58.57,87.98 57.87,76.98 56.4,70.4 C54.93,63.82 51.23,55.07 50.2,52" stroke="#e2efd2" stroke-width="0.7" fill="none" stroke-linecap="round"/><path d="M59,91.5 C60.17,92.92 64.1,97.65 66,100 C67.9,102.35 68.2,101.45 70.4,105.6 C72.6,109.75 77.73,121.68 79.2,124.9" stroke="#8a9c86" stroke-width="1.6" fill="none" stroke-linecap="round"/><path d="M59,91.5 C60.17,92.92 64.1,97.65 66,100 C67.9,102.35 68.2,101.45 70.4,105.6 C72.6,109.75 77.73,121.68 79.2,124.9" stroke="#e2efd2" stroke-width="0.7" fill="none" stroke-linecap="round"/><path d="M59,91.5 C63.33,92.25 76.67,93.95 85,96 C93.33,98.05 105,102.5 109,103.8" stroke="#8a9c86" stroke-width="1.6" fill="none" stroke-linecap="round"/><path d="M59,91.5 C63.33,92.25 76.67,93.95 85,96 C93.33,98.05 105,102.5 109,103.8" stroke="#e2efd2" stroke-width="0.7" fill="none" stroke-linecap="round"/><path d="M119.3,90.9 L121.6,84.5 L129.6,82.2 L137.5,80.6 L143,79.8 L150,82.2 L135,88 L121,90 Z" stroke="#555" stroke-width="0.5" fill="#ffffff" /><path d="M150,82.2 L135,88 L121,90 L119.3,90.9 L99.1,122.7 L99.5,123.3 Z" stroke="none" stroke-width="1" fill="#d9f2ef" opacity="0.9"/><path d="M100.3,123 L118.7,107.6 L128.4,99.7 L135.4,99.7 L142.5,104 L140.7,110.2 L146,123.4 L136.3,122.5 L116,128.7 L113.5,134 Z" stroke="#888" stroke-width="0.4" fill="url(#mesh)" /><line x1="150" y1="82.2" x2="99.5" y2="123.3" stroke="#555" stroke-width="0.6" /><circle cx="220.5" cy="71.7" r="42.2" fill="#fff" stroke="#333" stroke-width="0.8"/><path d="M209,55.6 L213,44 L223,46 L230,50 L227.4,61 L219.6,61.6 L212,60 Z" stroke="#4aa89a" stroke-width="0.4" fill="#a6eadf" /><path d="M219.14,54.03 L209,55.6 M219.14,54.03 L213,44 M219.14,54.03 L223,46 M219.14,54.03 L230,50 M219.14,54.03 L227.4,61 M219.14,54.03 L219.6,61.6 M219.14,54.03 L212,60" stroke="#5ab8aa" stroke-width="0.35" fill="none" /><path d="M209,79 L217,73 L231.6,77.4 L228,86 L220,86 L212,88 L206,84 Z" stroke="#4aa89a" stroke-width="0.4" fill="#a6eadf" /><path d="M217.66,81.91 L209,79 M217.66,81.91 L217,73 M217.66,81.91 L231.6,77.4 M217.66,81.91 L228,86 M217.66,81.91 L220,86 M217.66,81.91 L212,88 M217.66,81.91 L206,84" stroke="#5ab8aa" stroke-width="0.35" fill="none" /><path d="M205,38 L220.6,42 L223,46 L213,53 L209,55.6 L202,49 Z" stroke="#3a3a3a" stroke-width="0.45" fill="#a3a3a5" /><circle cx="212.1" cy="47.27" r="2.3" fill="#7f89b2"/><path d="M212.1,47.27 L205,38 M212.1,47.27 L220.6,42 M212.1,47.27 L223,46 M212.1,47.27 L213,53 M212.1,47.27 L209,55.6 M212.1,47.27 L202,49" stroke="#4a4a4a" stroke-width="0.35" fill="none" /><path d="M212.1,47.27 L213,53 L209,55.6 Z" stroke="none" stroke-width="1" fill="#7c7c80" opacity="0.6"/><path d="M226.4,35.6 L241.6,40.4 L238,51.4 L230,50 L223,46 L220.6,42 Z" stroke="#3a3a3a" stroke-width="0.45" fill="#a3a3a5" /><circle cx="229.93" cy="44.23" r="2.3" fill="#7f89b2"/><path d="M229.93,44.23 L226.4,35.6 M229.93,44.23 L241.6,40.4 M229.93,44.23 L238,51.4 M229.93,44.23 L230,50 M229.93,44.23 L223,46 M229.93,44.23 L220.6,42" stroke="#4a4a4a" stroke-width="0.35" fill="none" /><path d="M229.93,44.23 L230,50 L223,46 Z" stroke="none" stroke-width="1" fill="#7c7c80" opacity="0.6"/><path d="M198,63 L205.6,63 L215,63.5 L217,73 L209,79 L195,74.4 Z" stroke="#3a3a3a" stroke-width="0.45" fill="#a3a3a5" /><circle cx="206.6" cy="69.32" r="2.3" fill="#7f89b2"/><path d="M206.6,69.32 L198,63 M206.6,69.32 L205.6,63 M206.6,69.32 L215,63.5 M206.6,69.32 L217,73 M206.6,69.32 L209,79 M206.6,69.32 L195,74.4" stroke="#4a4a4a" stroke-width="0.35" fill="none" /><path d="M206.6,69.32 L217,73 L209,79 Z" stroke="none" stroke-width="1" fill="#7c7c80" opacity="0.6"/><path d="M219.6,61.6 L227.4,61 L242.4,65.6 L239.4,76.6 L231.6,77.4 L217,73 Z" stroke="#3a3a3a" stroke-width="0.45" fill="#a3a3a5" /><circle cx="229.57" cy="69.2" r="2.3" fill="#7f89b2"/><path d="M229.57,69.2 L219.6,61.6 M229.57,69.2 L227.4,61 M229.57,69.2 L242.4,65.6 M229.57,69.2 L239.4,76.6 M229.57,69.2 L231.6,77.4 M229.57,69.2 L217,73" stroke="#4a4a4a" stroke-width="0.35" fill="none" /><path d="M229.57,69.2 L239.4,76.6 L231.6,77.4 Z" stroke="none" stroke-width="1" fill="#7c7c80" opacity="0.6"/><path d="M199.4,89 L212,88 L216,97.6 L211,105 L196.4,100.4 Z" stroke="#3a3a3a" stroke-width="0.45" fill="#a3a3a5" /><circle cx="206.96" cy="96" r="2.3" fill="#7f89b2"/><path d="M206.96,96 L199.4,89 M206.96,96 L212,88 M206.96,96 L216,97.6 M206.96,96 L211,105 M206.96,96 L196.4,100.4" stroke="#4a4a4a" stroke-width="0.35" fill="none" /><path d="M206.96,96 L216,97.6 L211,105 Z" stroke="none" stroke-width="1" fill="#7c7c80" opacity="0.6"/><path d="M220,86 L228,86 L235,91 L231.6,102 L222,100 L216,97.6 Z" stroke="#3a3a3a" stroke-width="0.45" fill="#a3a3a5" /><circle cx="225.43" cy="93.77" r="2.3" fill="#7f89b2"/><path d="M225.43,93.77 L220,86 M225.43,93.77 L228,86 M225.43,93.77 L235,91 M225.43,93.77 L231.6,102 M225.43,93.77 L222,100 M225.43,93.77 L216,97.6" stroke="#4a4a4a" stroke-width="0.35" fill="none" /><path d="M225.43,93.77 L231.6,102 L222,100 Z" stroke="none" stroke-width="1" fill="#7c7c80" opacity="0.6"/><circle cx="205" cy="38" r="2.2" fill="#e8344c" stroke="#7a2030" stroke-width="0.35"/><circle cx="226.4" cy="35.6" r="2.2" fill="#e8344c" stroke="#7a2030" stroke-width="0.35"/><circle cx="241.6" cy="40.4" r="2.2" fill="#e8344c" stroke="#7a2030" stroke-width="0.35"/><circle cx="202" cy="49" r="2.2" fill="#e8344c" stroke="#7a2030" stroke-width="0.35"/><circle cx="209" cy="55.6" r="2.2" fill="#e8344c" stroke="#7a2030" stroke-width="0.35"/><circle cx="238" cy="51.4" r="2.2" fill="#e8344c" stroke="#7a2030" stroke-width="0.35"/><circle cx="233.4" cy="41" r="2.2" fill="#e8344c" stroke="#7a2030" stroke-width="0.35"/><circle cx="223" cy="46" r="2.2" fill="#e8344c" stroke="#7a2030" stroke-width="0.35"/><circle cx="220.6" cy="42" r="2.2" fill="#e8344c" stroke="#7a2030" stroke-width="0.35"/><circle cx="213" cy="44" r="2.2" fill="#e8344c" stroke="#7a2030" stroke-width="0.35"/><circle cx="198" cy="63" r="2.2" fill="#e8344c" stroke="#7a2030" stroke-width="0.35"/><circle cx="205.6" cy="63" r="2.2" fill="#e8344c" stroke="#7a2030" stroke-width="0.35"/><circle cx="219.6" cy="61.6" r="2.2" fill="#e8344c" stroke="#7a2030" stroke-width="0.35"/><circle cx="227.4" cy="61" r="2.2" fill="#e8344c" stroke="#7a2030" stroke-width="0.35"/><circle cx="242.4" cy="65.6" r="2.2" fill="#e8344c" stroke="#7a2030" stroke-width="0.35"/><circle cx="195" cy="74.4" r="2.2" fill="#e8344c" stroke="#7a2030" stroke-width="0.35"/><circle cx="205" cy="69" r="2.2" fill="#e8344c" stroke="#7a2030" stroke-width="0.35"/><circle cx="217" cy="73" r="2.2" fill="#e8344c" stroke="#7a2030" stroke-width="0.35"/><circle cx="227" cy="67.4" r="2.2" fill="#e8344c" stroke="#7a2030" stroke-width="0.35"/><circle cx="231.6" cy="77.4" r="2.2" fill="#e8344c" stroke="#7a2030" stroke-width="0.35"/><circle cx="239.4" cy="76.6" r="2.2" fill="#e8344c" stroke="#7a2030" stroke-width="0.35"/><circle cx="209" cy="80" r="2.2" fill="#e8344c" stroke="#7a2030" stroke-width="0.35"/><circle cx="234" cy="66.4" r="2.2" fill="#e8344c" stroke="#7a2030" stroke-width="0.35"/><circle cx="199.4" cy="89" r="2.2" fill="#e8344c" stroke="#7a2030" stroke-width="0.35"/><circle cx="212" cy="88" r="2.2" fill="#e8344c" stroke="#7a2030" stroke-width="0.35"/><circle cx="220" cy="86" r="2.2" fill="#e8344c" stroke="#7a2030" stroke-width="0.35"/><circle cx="228" cy="86" r="2.2" fill="#e8344c" stroke="#7a2030" stroke-width="0.35"/><circle cx="235" cy="91" r="2.2" fill="#e8344c" stroke="#7a2030" stroke-width="0.35"/><circle cx="226.4" cy="91.6" r="2.2" fill="#e8344c" stroke="#7a2030" stroke-width="0.35"/><circle cx="196.4" cy="100.4" r="2.2" fill="#e8344c" stroke="#7a2030" stroke-width="0.35"/><circle cx="206" cy="94.4" r="2.2" fill="#e8344c" stroke="#7a2030" stroke-width="0.35"/><circle cx="216" cy="97.6" r="2.2" fill="#e8344c" stroke="#7a2030" stroke-width="0.35"/><circle cx="211" cy="105" r="2.2" fill="#e8344c" stroke="#7a2030" stroke-width="0.35"/><circle cx="231.6" cy="102" r="2.2" fill="#e8344c" stroke="#7a2030" stroke-width="0.35"/><defs>
<filter id="noise" x="0" y="0" width="1" height="1" color-interpolation-filters="sRGB"><feTurbulence type="fractalNoise" baseFrequency="0.9" numOctaves="2" seed="4" result="t"/>
<feColorMatrix in="t" type="matrix" values="1 0 0 0 0  1 0 0 0 0  1 0 0 0 0  0 0 0 0 1"/></filter>
<filter id="blur1"><feGaussianBlur stdDeviation="1.6"/></filter>
<filter id="blur3"><feGaussianBlur stdDeviation="3"/></filter>
<pattern id="fr1" width="2.3" height="10" patternUnits="userSpaceOnUse" patternTransform="rotate(42)"><rect width="1.1" height="10" fill="#303030" opacity="0.6"/><rect x="1.15" width="1.1" height="10" fill="#d0d0d0" opacity="0.45"/></pattern>
<pattern id="fr2" width="10" height="1.8" patternUnits="userSpaceOnUse" patternTransform="rotate(17)"><rect width="10" height="0.85" fill="#303030" opacity="0.6"/><rect y="0.9" width="10" height="0.85" fill="#d0d0d0" opacity="0.45"/></pattern>
<pattern id="fr3" width="2.2" height="10" patternUnits="userSpaceOnUse" patternTransform="rotate(8)"><rect width="1" height="10" fill="#303030" opacity="0.45"/><rect x="1.1" width="1" height="10" fill="#c0c0c0" opacity="0.3"/></pattern>
<pattern id="xh" width="3" height="3" patternUnits="userSpaceOnUse" patternTransform="rotate(20)"><rect width="3" height="3" fill="#828282"/><rect width="1.3" height="1.3" fill="#d8d8d8" opacity="0.7"/><rect x="1.5" y="1.5" width="1.3" height="1.3" fill="#3a3a3a" opacity="0.5"/></pattern>
<clipPath id="clipL"><rect x="16.4" y="202" width="118.2" height="151.4"/></clipPath>
<clipPath id="clipR"><rect x="137.4" y="202" width="118" height="151.4"/></clipPath>
</defs><g clip-path="url(#clipL)"><rect x="16.4" y="202" width="118.2" height="151.4" fill="#8f8f8f"/><rect x="85" y="285" width="55" height="70" fill="#a3a3a3" filter="url(#blur3)"/><rect x="100" y="202" width="40" height="40" fill="#9a9a9a" filter="url(#blur3)"/><path d="M95,202 C101.67,202 128.33,194 135,202 C141.67,210 137.5,243.67 135,250 C132.5,256.33 125.83,244.67 120,240 C114.17,235.33 103.33,225 100,222 Z" stroke="none" stroke-width="1" fill="#7a7a7a" filter="url(#blur3)"/><path d="M95,202 C101.67,202 128.33,194 135,202 C141.67,210 137.5,243.67 135,250 C132.5,256.33 125.83,244.67 120,240 C114.17,235.33 103.33,225 100,222 Z" stroke="none" stroke-width="1" fill="url(#fr1)" opacity="0.7"/><path d="M22.2,252 C23.17,248.67 24.8,237.23 28,232 C31.2,226.77 36.9,223.27 41.4,220.6 C45.9,217.93 50.43,216.93 55,216 C59.57,215.07 64.13,215.25 68.8,215 C73.47,214.75 78.47,214.27 83,214.5 C87.53,214.73 91.83,215.32 96,216.4 C100.17,217.48 104.33,218.73 108,221 C111.67,223.27 115.5,226 118,230 C120.5,234 121.83,239.67 123,245 C124.17,250.33 125.17,256.5 125,262 C124.83,267.5 123.6,273.72 122,278 C120.4,282.28 118.07,285.03 115.4,287.7 C112.73,290.37 109.2,292.17 106,294 C102.8,295.83 100.2,297.45 96.2,298.7 C92.2,299.95 86.57,301.05 82,301.5 C77.43,301.95 73.3,302.15 68.8,301.4 C64.3,300.65 59.57,298.82 55,297 C50.43,295.18 45.57,292.83 41.4,290.5 C37.23,288.17 32.9,286.42 30,283 C27.1,279.58 25.3,275.17 24,270 C22.7,264.83 22.5,255 22.2,252 Z" stroke="none" stroke-width="1" fill="#686868" filter="url(#blur1)"/><path d="M22.2,252 C23.17,248.67 24.8,237.23 28,232 C31.2,226.77 36.9,223.27 41.4,220.6 C45.9,217.93 50.43,216.93 55,216 C59.57,215.07 64.13,215.25 68.8,215 C73.47,214.75 78.47,214.27 83,214.5 C87.53,214.73 91.83,215.32 96,216.4 C100.17,217.48 104.33,218.73 108,221 C111.67,223.27 115.5,226 118,230 C120.5,234 121.83,239.67 123,245 C124.17,250.33 125.17,256.5 125,262 C124.83,267.5 123.6,273.72 122,278 C120.4,282.28 118.07,285.03 115.4,287.7 C112.73,290.37 109.2,292.17 106,294 C102.8,295.83 100.2,297.45 96.2,298.7 C92.2,299.95 86.57,301.05 82,301.5 C77.43,301.95 73.3,302.15 68.8,301.4 C64.3,300.65 59.57,298.82 55,297 C50.43,295.18 45.57,292.83 41.4,290.5 C37.23,288.17 32.9,286.42 30,283 C27.1,279.58 25.3,275.17 24,270 C22.7,264.83 22.5,255 22.2,252 Z" stroke="none" stroke-width="1" fill="url(#fr1)" /><path d="M14,292 C16.73,291.97 25.23,292.13 30.4,291.8 C35.57,291.47 40.9,290.22 45,290 C49.1,289.78 51.67,289.83 55,290.5 C58.33,291.17 62.23,292.18 65,294 C67.77,295.82 69.77,298.73 71.6,301.4 C73.43,304.07 74.87,307.23 76,310 C77.13,312.77 77.73,314.67 78.4,318 C79.07,321.33 79.77,325.92 80,330 C80.23,334.08 79.8,338.17 79.8,342.5 C79.8,346.83 90.97,353.75 80,356 C69.03,358.25 25,356 14,356 Z" stroke="none" stroke-width="1" fill="url(#xh)" /><rect x="16.4" y="202" width="118.2" height="151.4" filter="url(#noise)" style="mix-blend-mode:overlay" opacity="0.7"/></g><g clip-path="url(#clipR)"><rect x="137.4" y="202" width="118" height="151.4" fill="#939393"/><rect x="137.4" y="198" width="118" height="44" fill="#777" filter="url(#blur3)"/><rect x="137.4" y="202" width="118" height="40" fill="url(#fr3)"/><path d="M137,240 C138.5,240.33 143,240 146,242 C149,244 152.67,247.33 155,252 C157.33,256.67 158.17,263.67 160,270 C161.83,276.33 163.33,284.17 166,290 C168.67,295.83 171.67,301 176,305 C180.33,309 186.33,311.83 192,314 C197.67,316.17 203.33,317.83 210,318 C216.67,318.17 225.33,317.17 232,315 C238.67,312.83 245.67,307.5 250,305 C254.33,302.5 256.67,295.83 258,300 C259.33,304.17 262.67,325 258,330 C253.33,335 238.83,329.33 230,330 C221.17,330.67 211.67,332 205,334 C198.33,336 195,342.67 190,342 C185,341.33 180,335 175,330 C170,325 165,317 160,312 C155,307 148.83,302.33 145,300 C141.17,297.67 138.33,298.33 137,298 Z" stroke="none" stroke-width="1" fill="#a4a4a4" filter="url(#blur3)"/><path d="M137,298 C139.17,299 145.17,300.67 150,304 C154.83,307.33 161,313 166,318 C171,323 176,327.67 180,334 C184,340.33 197.17,352.33 190,356 C182.83,359.67 145.83,356 137,356 Z" stroke="none" stroke-width="1" fill="#707070" filter="url(#blur1)"/><path d="M137,298 C139.17,299 145.17,300.67 150,304 C154.83,307.33 161,313 166,318 C171,323 176,327.67 180,334 C184,340.33 197.17,352.33 190,356 C182.83,359.67 145.83,356 137,356 Z" stroke="none" stroke-width="1" fill="url(#fr3)" opacity="0.6"/><ellipse cx="208" cy="271" rx="46" ry="43" fill="#6c6c6c" filter="url(#blur1)"/><ellipse cx="208" cy="271" rx="46" ry="43" fill="url(#fr2)"/><rect x="137.4" y="202" width="118" height="151.4" filter="url(#noise)" style="mix-blend-mode:overlay" opacity="0.7"/></g><text x="37.2" y="227.8" font-size="11.8" fill="#f5b400" stroke="#f5b400" stroke-width="0.5">0.249 nm</text><text x="48.1" y="242.2" font-size="11.8" fill="#f5b400" stroke="#f5b400" stroke-width="0.5">(311)</text><text x="173.8" y="225.4" font-size="11.8" fill="#f5b400" stroke="#f5b400" stroke-width="0.5">0.249 nm</text><text x="173.8" y="239.8" font-size="11.8" fill="#f5b400" stroke="#f5b400" stroke-width="0.5">(311)</text><line x1="77.9" y1="230.2" x2="95.4" y2="245.9" stroke="#f5b400" stroke-width="1.2" /><line x1="79.7" y1="228.4" x2="97.2" y2="244.1" stroke="#f5b400" stroke-width="1.2" /><line x1="196.3" y1="252" x2="215.8" y2="257.9" stroke="#f5b400" stroke-width="1.2" /><line x1="196.1" y1="254.4" x2="215.2" y2="260.4" stroke="#f5b400" stroke-width="1.2" /><line x1="95.2" y1="231.2" x2="92.41" y2="232.83" stroke="#f5b400" stroke-width="1.1" /><path d="M88,235.4 L91.56,228.81 L91.8,233.18 L95.49,235.54 Z" stroke="none" stroke-width="1" fill="#f5b400" /><line x1="77.6" y1="245.2" x2="81.04" y2="242.75" stroke="#f5b400" stroke-width="1.1" /><path d="M85.2,239.8 L82.24,246.69 L81.61,242.35 L77.72,240.33 Z" stroke="none" stroke-width="1" fill="#f5b400" /><line x1="210" y1="242.5" x2="208.73" y2="246.54" stroke="#f5b400" stroke-width="1.1" /><path d="M207.2,251.4 L205.4,244.12 L208.52,247.2 L212.84,246.47 Z" stroke="none" stroke-width="1" fill="#f5b400" /><line x1="197.7" y1="269.6" x2="199.99" y2="264.29" stroke="#f5b400" stroke-width="1.1" /><path d="M202,259.6 L203.05,267.02 L200.26,263.64 L195.89,263.94 Z" stroke="none" stroke-width="1" fill="#f5b400" /><line x1="21" y1="341.6" x2="62.4" y2="341.6" stroke="#ffffff" stroke-width="1.2" /><line x1="142.6" y1="341.4" x2="185" y2="341.4" stroke="#ffffff" stroke-width="1.2" /><text x="21.4" y="339" font-size="8.6" fill="#ffffff" >5 nm</text><text x="143" y="339" font-size="8.6" fill="#ffffff" >5 nm</text><text x="108" y="346.4" font-size="12.8" fill="#000" >NG</text><text x="203.2" y="346" font-size="13.6" fill="#000" >NG-300</text><defs>
<linearGradient id="subT" x1="0" y1="0" x2="0" y2="1"><stop offset="0" stop-color="#b4b4b4"/><stop offset="0.5" stop-color="#8a8a8a"/><stop offset="1" stop-color="#666"/></linearGradient>
<linearGradient id="subB" x1="0" y1="0" x2="0" y2="1"><stop offset="0" stop-color="#999"/><stop offset="0.55" stop-color="#626262"/><stop offset="1" stop-color="#565656"/></linearGradient>
<filter id="noise2" x="0" y="0" width="1" height="1" color-interpolation-filters="sRGB"><feTurbulence type="fractalNoise" baseFrequency="1.3" numOctaves="1" seed="9" result="t"/>
<feColorMatrix in="t" type="matrix" values="1 0 0 0 0  1 0 0 0 0  1 0 0 0 0  0 0 0 0 1"/></filter>
<clipPath id="ca1"><path d="M512,230 L540,230 Q598.8,197.2 657.6,229 L680,229 L680,271.5 L512,271.5 Z"/></clipPath>
<clipPath id="ca2"><path d="M513,313.6 L549,313.6 Q602.5,277.6 656,313 L680,313 L680,355.4 L513,355.4 Z"/></clipPath>
<radialGradient id="refl" cx="0.5" cy="0.5" r="0.5"><stop offset="0" stop-color="#8a8a8a"/><stop offset="1" stop-color="#7a7a7a" stop-opacity="0"/></radialGradient>
</defs><g clip-path="url(#ca1)"><rect x="512" y="195" width="168" height="77" fill="#484848"/><path d="M512,229 L540,229 L553.6,238 L512,238 Z" stroke="none" stroke-width="1" fill="url(#subT)" /><path d="M680,229 L657.6,229 L647,238 L680,238 Z" stroke="none" stroke-width="1" fill="url(#subT)" /><path d="M512,238 L553.6,238 L560,246 L512,246 Z" stroke="none" stroke-width="1" fill="#555" opacity="0.6"/><rect x="512" y="196" width="168" height="34" fill="#3b3b3b" clip-path="url(#ca1)"/><path d="M540,229.5 Q598.8,197.2 657.6,229 L647,238 Q600,240 553.6,238 Z" stroke="none" stroke-width="1" fill="#3d3d3d" /><ellipse cx="600" cy="221.5" rx="18" ry="4" fill="url(#refl)"/><rect x="586" y="224.5" width="28" height="1.4" fill="#262626" opacity="0.8"/><rect x="512" y="262.5" width="168" height="2" fill="#5e5e5e"/><rect x="512" y="265.5" width="168" height="6" fill="#333"/><rect x="512" y="195" width="168" height="77" filter="url(#noise2)" style="mix-blend-mode:overlay" opacity="0.35"/></g><path d="M540,229.8 Q598.8,197.2 657.6,229" stroke="#050505" stroke-width="2.0" fill="none" /><g clip-path="url(#ca2)"><rect x="513" y="278" width="167" height="78" fill="#555"/><rect x="513" y="313" width="167" height="43" fill="url(#subB)"/><rect x="513" y="278" width="167" height="36" fill="#414141"/><path d="M549,313.6 Q602.5,277.6 656,313 L633.7,330 Q605,336 576,331.4 Z" stroke="none" stroke-width="1" fill="#434343" /><rect x="513" y="349" width="167" height="1.5" fill="#6a6a6a"/><rect x="513" y="350.5" width="167" height="5" fill="#3c3c3c"/><rect x="513" y="278" width="167" height="78" filter="url(#noise2)" style="mix-blend-mode:overlay" opacity="0.35"/></g><path d="M549,313.8 Q602.5,277.6 656,313" stroke="#050505" stroke-width="2.0" fill="none" /><text x="524" y="262.4" font-size="13.3" fill="#ffffff" >NG</text><text x="522" y="342.4" font-size="13.7" fill="#ffffff" >NG-300</text><line x1="623.6" y1="227" x2="657.6" y2="227" stroke="#f01010" stroke-width="1.8" /><line x1="623.6" y1="205.6" x2="657.6" y2="227" stroke="#f01010" stroke-width="1.8" /><line x1="623" y1="312.6" x2="656" y2="312.6" stroke="#f01010" stroke-width="1.8" /><line x1="623" y1="290" x2="656" y2="312.6" stroke="#f01010" stroke-width="1.8" /><text x="511" y="219" font-size="13">θ=23.8<tspan font-size="9.6" dy="-4.2">o</tspan></text><text x="511" y="306" font-size="13">θ=28.1<tspan font-size="9.6" dy="-4.2">o</tspan></text><line x1="607.6" y1="427.9" x2="586.1" y2="413.5" stroke="#333" stroke-width="3.0" stroke-linecap="butt"/><line x1="607.6" y1="427.9" x2="586.1" y2="413.5" stroke="#d9f3e6" stroke-width="1.8" /><line x1="607.6" y1="427.9" x2="629" y2="413.5" stroke="#333" stroke-width="3.0" stroke-linecap="butt"/><line x1="607.6" y1="427.9" x2="629" y2="413.5" stroke="#d9f3e6" stroke-width="1.8" /><line x1="607.6" y1="427.9" x2="586.3" y2="441.6" stroke="#333" stroke-width="3.0" stroke-linecap="butt"/><line x1="607.6" y1="427.9" x2="586.3" y2="441.6" stroke="#d9f3e6" stroke-width="1.8" /><line x1="607.6" y1="427.9" x2="628.5" y2="442.5" stroke="#333" stroke-width="3.0" stroke-linecap="butt"/><line x1="607.6" y1="427.9" x2="628.5" y2="442.5" stroke="#d9f3e6" stroke-width="1.8" /><line x1="649.4" y1="427.9" x2="629" y2="413.5" stroke="#333" stroke-width="3.0" stroke-linecap="butt"/><line x1="649.4" y1="427.9" x2="629" y2="413.5" stroke="#a9b9ee" stroke-width="1.8" /><line x1="649.4" y1="427.9" x2="670" y2="413.5" stroke="#333" stroke-width="3.0" stroke-linecap="butt"/><line x1="649.4" y1="427.9" x2="670" y2="413.5" stroke="#a9b9ee" stroke-width="1.8" /><line x1="649.4" y1="427.9" x2="628.5" y2="442.5" stroke="#333" stroke-width="3.0" stroke-linecap="butt"/><line x1="649.4" y1="427.9" x2="628.5" y2="442.5" stroke="#a9b9ee" stroke-width="1.8" /><line x1="649.4" y1="427.9" x2="670" y2="441.6" stroke="#333" stroke-width="3.0" stroke-linecap="butt"/><line x1="649.4" y1="427.9" x2="670" y2="441.6" stroke="#a9b9ee" stroke-width="1.8" /><line x1="586.1" y1="400" x2="586.1" y2="408.5" stroke="#555" stroke-width="0.8" /><line x1="606.5" y1="400" x2="606.5" y2="408.5" stroke="#555" stroke-width="0.8" /><line x1="629" y1="400" x2="629" y2="408.5" stroke="#555" stroke-width="0.8" /><line x1="649.4" y1="400" x2="649.4" y2="408.5" stroke="#555" stroke-width="0.8" /><line x1="670" y1="400" x2="670" y2="408.5" stroke="#555" stroke-width="0.8" /><circle cx="586.1" cy="396" r="4.9" fill="#ababab" stroke="#2a2a2a" stroke-width="0.7"/><circle cx="606.5" cy="396" r="4.9" fill="#ababab" stroke="#2a2a2a" stroke-width="0.7"/><text x="606.5" y="398.34" font-size="6.5" text-anchor="middle" fill="#333" >H</text><circle cx="629" cy="396" r="4.9" fill="#ababab" stroke="#2a2a2a" stroke-width="0.7"/><circle cx="649.4" cy="396" r="4.9" fill="#ababab" stroke="#2a2a2a" stroke-width="0.7"/><circle cx="670" cy="396" r="4.9" fill="#ababab" stroke="#2a2a2a" stroke-width="0.7"/><circle cx="586.1" cy="413.5" r="6.4" fill="#ee4763" stroke="#2a2a2a" stroke-width="0.7"/><circle cx="606.5" cy="413.5" r="6.4" fill="#ee4763" stroke="#2a2a2a" stroke-width="0.7"/><text x="606.5" y="416.02" font-size="7" text-anchor="middle" fill="#333" >O</text><circle cx="629" cy="413.5" r="6.4" fill="#ee4763" stroke="#2a2a2a" stroke-width="0.7"/><circle cx="649.4" cy="413.5" r="6.4" fill="#ee4763" stroke="#2a2a2a" stroke-width="0.7"/><circle cx="670" cy="413.5" r="6.4" fill="#ee4763" stroke="#2a2a2a" stroke-width="0.7"/><circle cx="607.6" cy="427.9" r="7.4" fill="#7fe0c6" stroke="#2a2a2a" stroke-width="0.7"/><text x="607.6" y="430.85" font-size="8.2" text-anchor="middle" fill="#333" >Ni</text><circle cx="649.4" cy="427.9" r="7.4" fill="#7694e6" stroke="#2a2a2a" stroke-width="0.7"/><text x="649.4" y="430.85" font-size="8.2" text-anchor="middle" fill="#333" >Ga</text><circle cx="586.3" cy="441.6" r="6.4" fill="#ee4763" stroke="#2a2a2a" stroke-width="0.7"/><circle cx="608" cy="441.6" r="6.4" fill="#ee4763" stroke="#2a2a2a" stroke-width="0.7"/><circle cx="628.5" cy="442.5" r="6.2" fill="#fff" stroke="#ee4763" stroke-width="0.9" stroke-dasharray="2,1.4"/><circle cx="650" cy="441.6" r="6.4" fill="#ee4763" stroke="#2a2a2a" stroke-width="0.7"/><circle cx="670" cy="441.6" r="6.4" fill="#ee4763" stroke="#2a2a2a" stroke-width="0.7"/><line x1="607.6" y1="524.8" x2="586.5" y2="511" stroke="#333" stroke-width="3.0" stroke-linecap="butt"/><line x1="607.6" y1="524.8" x2="586.5" y2="511" stroke="#d9f3e6" stroke-width="1.8" /><line x1="607.6" y1="524.8" x2="629" y2="509.3" stroke="#333" stroke-width="3.0" stroke-linecap="butt"/><line x1="607.6" y1="524.8" x2="629" y2="509.3" stroke="#d9f3e6" stroke-width="1.8" /><line x1="607.6" y1="524.8" x2="586.3" y2="539.4" stroke="#333" stroke-width="3.0" stroke-linecap="butt"/><line x1="607.6" y1="524.8" x2="586.3" y2="539.4" stroke="#d9f3e6" stroke-width="1.8" /><line x1="607.6" y1="524.8" x2="628.5" y2="540.7" stroke="#333" stroke-width="3.0" stroke-linecap="butt"/><line x1="607.6" y1="524.8" x2="628.5" y2="540.7" stroke="#d9f3e6" stroke-width="1.8" /><line x1="649.4" y1="524.8" x2="629" y2="509.3" stroke="#333" stroke-width="3.0" stroke-linecap="butt"/><line x1="649.4" y1="524.8" x2="629" y2="509.3" stroke="#a9b9ee" stroke-width="1.8" /><line x1="649.4" y1="524.8" x2="669.9" y2="509.3" stroke="#333" stroke-width="3.0" stroke-linecap="butt"/><line x1="649.4" y1="524.8" x2="669.9" y2="509.3" stroke="#a9b9ee" stroke-width="1.8" /><line x1="649.4" y1="524.8" x2="628.5" y2="540.7" stroke="#333" stroke-width="3.0" stroke-linecap="butt"/><line x1="649.4" y1="524.8" x2="628.5" y2="540.7" stroke="#a9b9ee" stroke-width="1.8" /><line x1="649.4" y1="524.8" x2="670" y2="539" stroke="#333" stroke-width="3.0" stroke-linecap="butt"/><line x1="649.4" y1="524.8" x2="670" y2="539" stroke="#a9b9ee" stroke-width="1.8" /><line x1="586.5" y1="497.8" x2="586.5" y2="506" stroke="#555" stroke-width="0.8" /><line x1="606.5" y1="497.8" x2="606.5" y2="504.3" stroke="#555" stroke-width="0.8" /><line x1="629" y1="497.8" x2="629" y2="504.3" stroke="#555" stroke-width="0.8" /><line x1="648.5" y1="497.8" x2="648.5" y2="504.3" stroke="#555" stroke-width="0.8" /><line x1="669.9" y1="497.8" x2="669.9" y2="504.3" stroke="#555" stroke-width="0.8" /><circle cx="586.5" cy="493.8" r="4.6" fill="#fff" stroke="#888" stroke-width="0.9" stroke-dasharray="2,1.4"/><circle cx="606.5" cy="493.8" r="4.6" fill="#fff" stroke="#888" stroke-width="0.9" stroke-dasharray="2,1.4"/><circle cx="629" cy="493.8" r="4.6" fill="#fff" stroke="#888" stroke-width="0.9" stroke-dasharray="2,1.4"/><circle cx="648.5" cy="493.8" r="4.9" fill="#ababab" stroke="#2a2a2a" stroke-width="0.7"/><circle cx="669.9" cy="493.8" r="4.9" fill="#ababab" stroke="#2a2a2a" stroke-width="0.7"/><circle cx="586.5" cy="511" r="6.4" fill="#ee4763" stroke="#2a2a2a" stroke-width="0.7"/><circle cx="606.5" cy="509.3" r="6.2" fill="#fff" stroke="#ee4763" stroke-width="0.9" stroke-dasharray="2,1.4"/><circle cx="629" cy="509.3" r="6.4" fill="#ee4763" stroke="#2a2a2a" stroke-width="0.7"/><circle cx="648.5" cy="509.3" r="6.4" fill="#ee4763" stroke="#2a2a2a" stroke-width="0.7"/><circle cx="669.9" cy="509.3" r="6.4" fill="#ee4763" stroke="#2a2a2a" stroke-width="0.7"/><circle cx="607.6" cy="524.8" r="7.4" fill="#7fe0c6" stroke="#2a2a2a" stroke-width="0.7"/><text x="607.6" y="527.75" font-size="8.2" text-anchor="middle" fill="#333" >Ni</text><circle cx="649.4" cy="524.8" r="7.4" fill="#7694e6" stroke="#2a2a2a" stroke-width="0.7"/><text x="649.4" y="527.75" font-size="8.2" text-anchor="middle" fill="#333" >Ga</text><circle cx="586.3" cy="539.4" r="6.4" fill="#ee4763" stroke="#2a2a2a" stroke-width="0.7"/><circle cx="608" cy="540.3" r="6.4" fill="#ee4763" stroke="#2a2a2a" stroke-width="0.7"/><circle cx="628.5" cy="540.7" r="6.2" fill="#fff" stroke="#ee4763" stroke-width="0.9" stroke-dasharray="2,1.4"/><circle cx="650" cy="540" r="6.4" fill="#ee4763" stroke="#2a2a2a" stroke-width="0.7"/><circle cx="670" cy="539" r="6.4" fill="#ee4763" stroke="#2a2a2a" stroke-width="0.7"/><defs><linearGradient id="trail" x1="612" y1="474" x2="626" y2="452" gradientUnits="userSpaceOnUse"><stop offset="0" stop-color="#f07080" stop-opacity="0.55"/><stop offset="1" stop-color="#f07080" stop-opacity="0"/></linearGradient></defs><path d="M609,474 L620,455 L627,452 L616,474 Z" stroke="none" stroke-width="1" fill="url(#trail)" /><path d="M623,456.4 L633,456.4 L629.2,474 L627.9,481 L626.6,474 Z" stroke="#34495a" stroke-width="0.8" fill="#f7c4a4" /><line x1="624.5" y1="474.5" x2="627.9" y2="481.2" stroke="#34495a" stroke-width="0.8" /><line x1="631.3" y1="474.5" x2="627.9" y2="481.2" stroke="#34495a" stroke-width="0.8" /><line x1="603.8" y1="477.4" x2="611.5" y2="475.5" stroke="#333" stroke-width="0.6" /><line x1="611.5" y1="475.5" x2="615" y2="481.4" stroke="#333" stroke-width="0.6" /><circle cx="611.5" cy="475.5" r="2.6" fill="#ee4763" stroke="#333" stroke-width="0.5"/><circle cx="603.8" cy="477.4" r="1.7" fill="#666" stroke="#222" stroke-width="0.5"/><circle cx="615" cy="481.4" r="1.7" fill="#666" stroke="#222" stroke-width="0.5"/><text x="0" y="15" font-size="19" fill="#000" >a</text><text x="276.8" y="15" font-size="19" fill="#000" >b</text><text x="483.6" y="13.6" font-size="19" fill="#000" >c</text><text x="0" y="210" font-size="19" fill="#000" >d</text><text x="276.8" y="210" font-size="19" fill="#000" >e</text><text x="496.6" y="209.4" font-size="19" fill="#000" >f</text><text x="0" y="392.6" font-size="19" fill="#000" >g</text><text x="192.4" y="395.6" font-size="19" fill="#000" >h</text><text x="381.4" y="398" font-size="19" fill="#000" >i</text><text x="568" y="398" font-size="19" fill="#000" >j</text></svg></body></html>
